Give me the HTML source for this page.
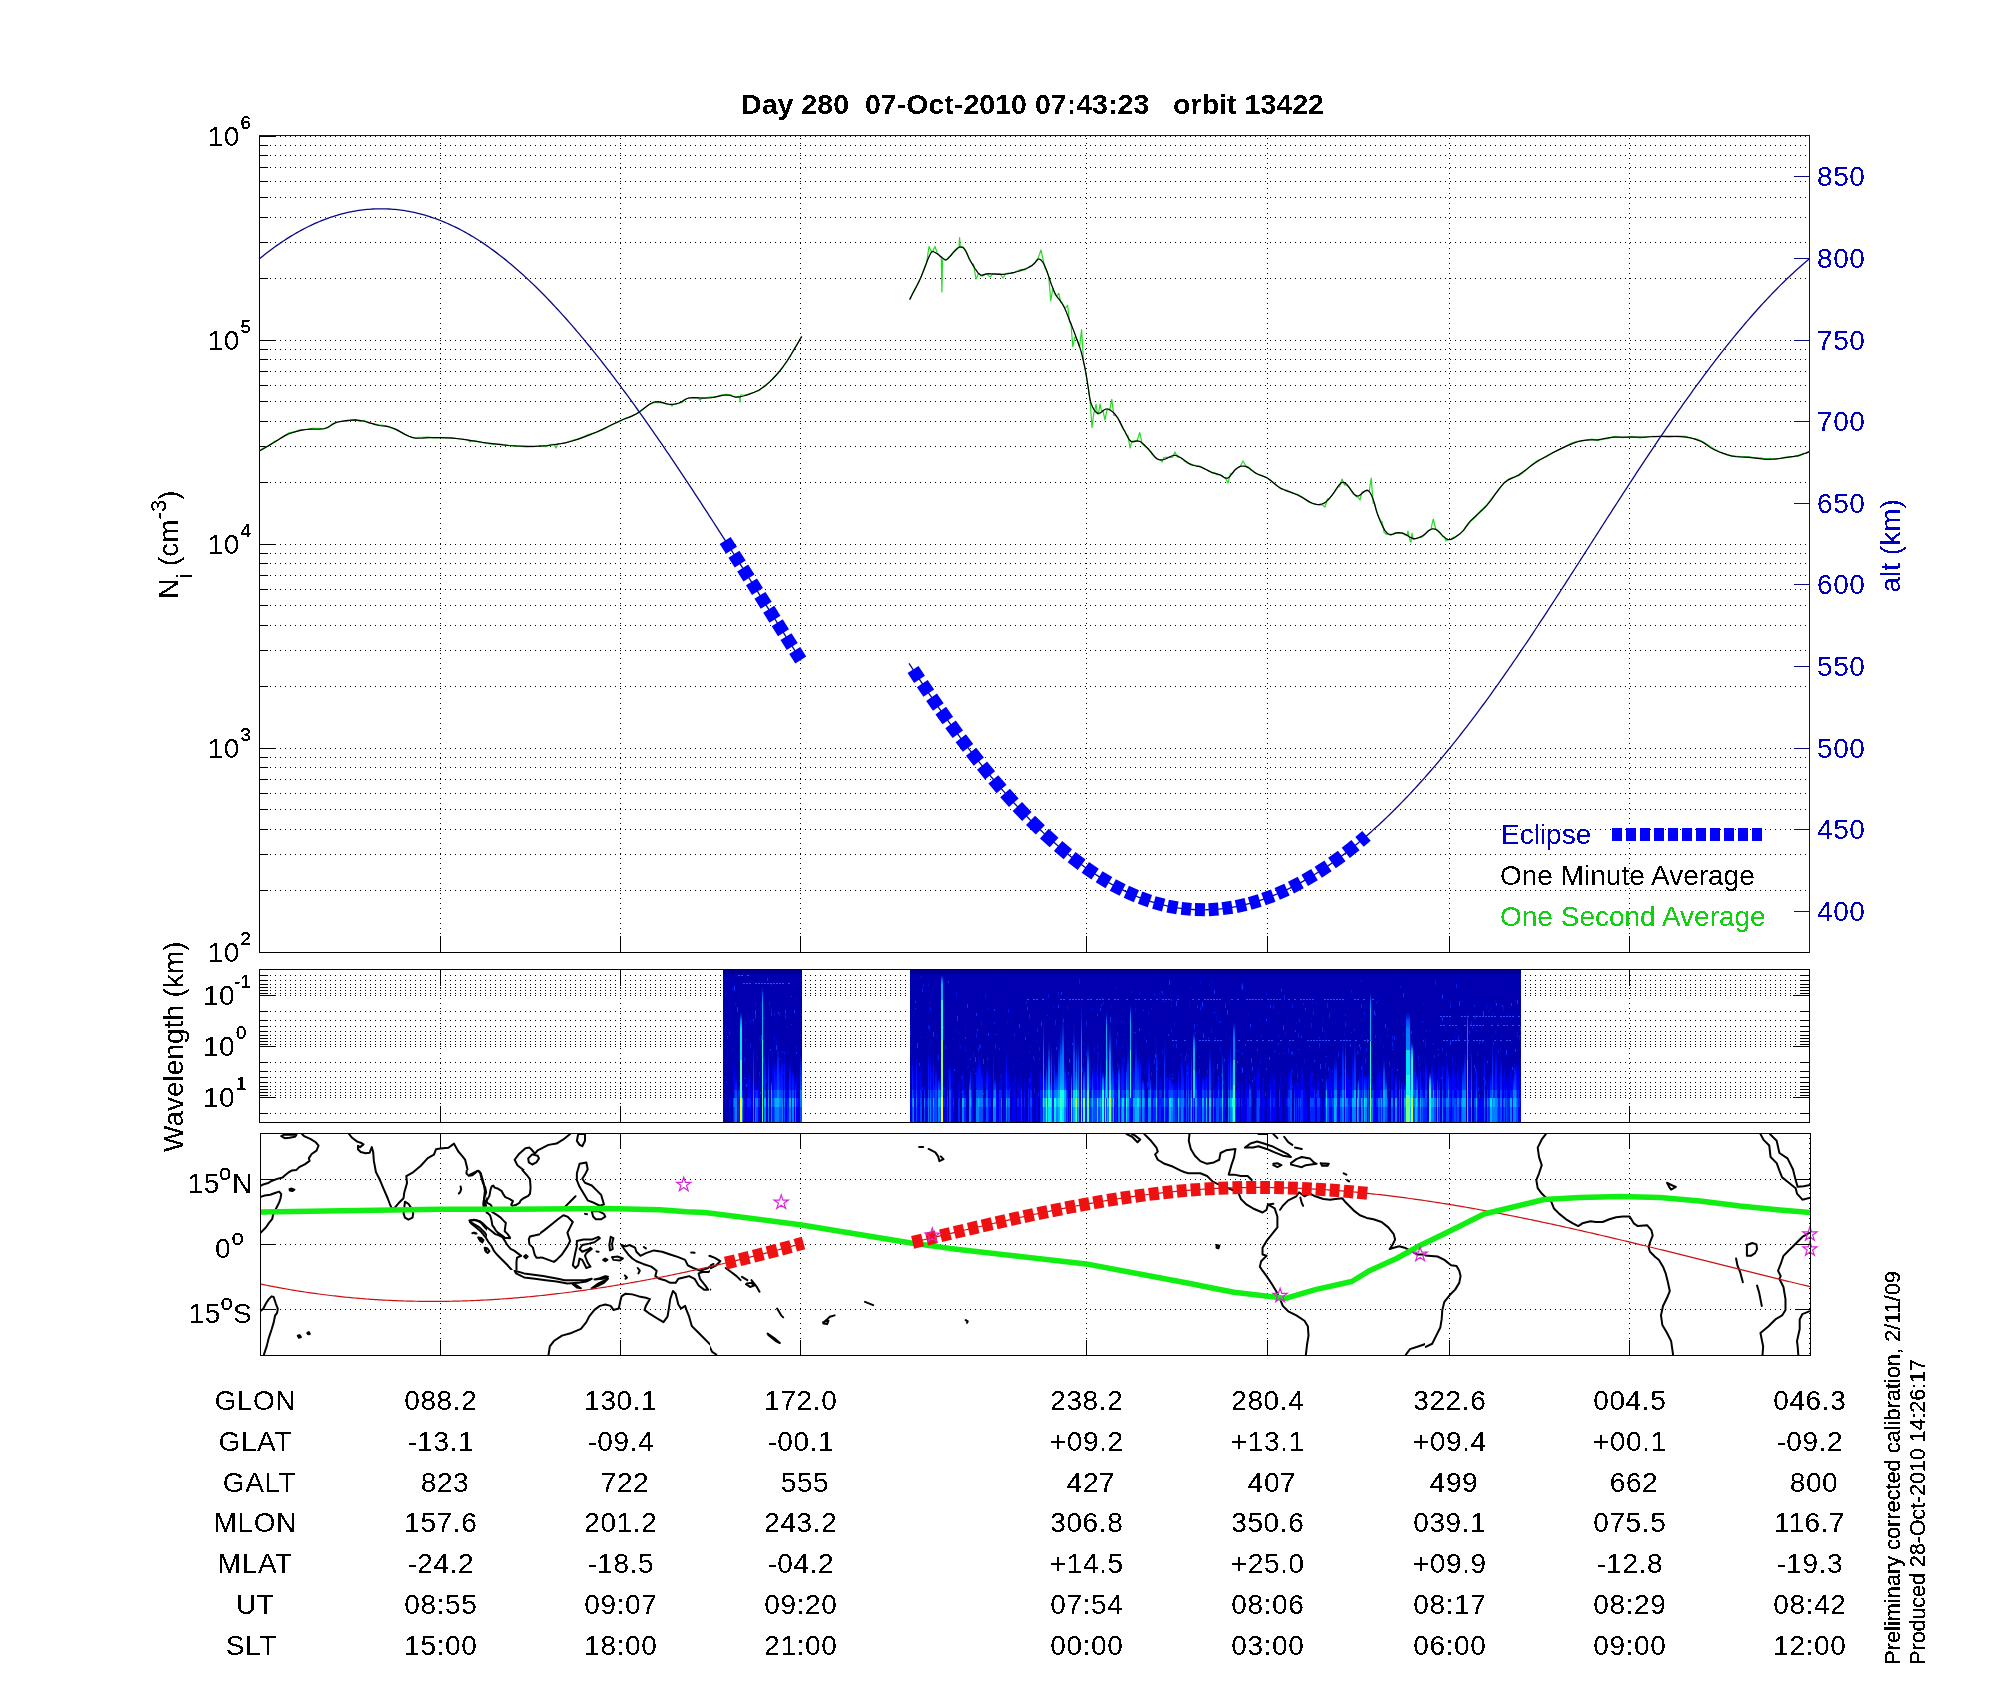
<!DOCTYPE html><html><head><meta charset="utf-8"><title>Day 280 07-Oct-2010 orbit 13422</title><style>html,body{margin:0;padding:0;background:#fff;}svg{display:block;}text{font-family:"Liberation Sans", Arial, Helvetica, sans-serif;white-space:pre;filter:url(#crisp);}</style></head><body>
<svg xmlns="http://www.w3.org/2000/svg" width="2000" height="1700" viewBox="0 0 2000 1700">
<defs><pattern id="hd" patternUnits="userSpaceOnUse" x="0" y="0" width="5" height="1"><rect x="0" y="0" width="1" height="1" fill="#000"/></pattern><filter id="crisp" color-interpolation-filters="sRGB"><feComponentTransfer><feFuncA type="discrete" tableValues="0 1"/></feComponentTransfer></filter><filter id="crispb" color-interpolation-filters="sRGB"><feComponentTransfer><feFuncA type="discrete" tableValues="0 1 1 1"/></feComponentTransfer></filter><filter id="crispc" color-interpolation-filters="sRGB"><feComponentTransfer><feFuncA type="discrete" tableValues="0 0 1 1 1"/></feComponentTransfer></filter><pattern id="vd" patternUnits="userSpaceOnUse" x="0" y="3" width="1" height="5"><rect x="0" y="0" width="1" height="1" fill="#000"/></pattern></defs>
<rect x="0" y="0" width="2000" height="1700" fill="#fff"/>
<text x="741" y="114" font-size="28" font-weight="bold" textLength="583" lengthAdjust="spacingAndGlyphs">Day 280  07-Oct-2010 07:43:23   orbit 13422</text>
<g shape-rendering="crispEdges"><rect x="260" y="890" width="1549" height="1" fill="url(#hd)"/><rect x="260" y="854" width="1549" height="1" fill="url(#hd)"/><rect x="260" y="829" width="1549" height="1" fill="url(#hd)"/><rect x="260" y="809" width="1549" height="1" fill="url(#hd)"/><rect x="260" y="793" width="1549" height="1" fill="url(#hd)"/><rect x="260" y="779" width="1549" height="1" fill="url(#hd)"/><rect x="260" y="767" width="1549" height="1" fill="url(#hd)"/><rect x="260" y="757" width="1549" height="1" fill="url(#hd)"/><rect x="260" y="748" width="1549" height="1" fill="url(#hd)"/><rect x="260" y="686" width="1549" height="1" fill="url(#hd)"/><rect x="260" y="650" width="1549" height="1" fill="url(#hd)"/><rect x="260" y="625" width="1549" height="1" fill="url(#hd)"/><rect x="260" y="605" width="1549" height="1" fill="url(#hd)"/><rect x="260" y="589" width="1549" height="1" fill="url(#hd)"/><rect x="260" y="575" width="1549" height="1" fill="url(#hd)"/><rect x="260" y="563" width="1549" height="1" fill="url(#hd)"/><rect x="260" y="553" width="1549" height="1" fill="url(#hd)"/><rect x="260" y="544" width="1549" height="1" fill="url(#hd)"/><rect x="260" y="482" width="1549" height="1" fill="url(#hd)"/><rect x="260" y="446" width="1549" height="1" fill="url(#hd)"/><rect x="260" y="421" width="1549" height="1" fill="url(#hd)"/><rect x="260" y="401" width="1549" height="1" fill="url(#hd)"/><rect x="260" y="385" width="1549" height="1" fill="url(#hd)"/><rect x="260" y="371" width="1549" height="1" fill="url(#hd)"/><rect x="260" y="359" width="1549" height="1" fill="url(#hd)"/><rect x="260" y="349" width="1549" height="1" fill="url(#hd)"/><rect x="260" y="340" width="1549" height="1" fill="url(#hd)"/><rect x="260" y="278" width="1549" height="1" fill="url(#hd)"/><rect x="260" y="242" width="1549" height="1" fill="url(#hd)"/><rect x="260" y="217" width="1549" height="1" fill="url(#hd)"/><rect x="260" y="197" width="1549" height="1" fill="url(#hd)"/><rect x="260" y="181" width="1549" height="1" fill="url(#hd)"/><rect x="260" y="167" width="1549" height="1" fill="url(#hd)"/><rect x="260" y="155" width="1549" height="1" fill="url(#hd)"/><rect x="260" y="145" width="1549" height="1" fill="url(#hd)"/><rect x="260" y="136" width="1549" height="1" fill="url(#hd)"/><rect x="440" y="136" width="1" height="816" fill="url(#vd)"/><rect x="620" y="136" width="1" height="816" fill="url(#vd)"/><rect x="800" y="136" width="1" height="816" fill="url(#vd)"/><rect x="1086" y="136" width="1" height="816" fill="url(#vd)"/><rect x="1267" y="136" width="1" height="816" fill="url(#vd)"/><rect x="1449" y="136" width="1" height="816" fill="url(#vd)"/><rect x="1629" y="136" width="1" height="816" fill="url(#vd)"/><rect x="259" y="135" width="1" height="818" fill="#000"/><rect x="259" y="952" width="1551" height="1" fill="#000"/><rect x="259" y="952" width="17" height="1" fill="#000"/><rect x="259" y="890" width="9" height="1" fill="#000"/><rect x="259" y="854" width="9" height="1" fill="#000"/><rect x="259" y="829" width="9" height="1" fill="#000"/><rect x="259" y="809" width="9" height="1" fill="#000"/><rect x="259" y="793" width="9" height="1" fill="#000"/><rect x="259" y="779" width="9" height="1" fill="#000"/><rect x="259" y="767" width="9" height="1" fill="#000"/><rect x="259" y="757" width="9" height="1" fill="#000"/><rect x="259" y="748" width="17" height="1" fill="#000"/><rect x="259" y="686" width="9" height="1" fill="#000"/><rect x="259" y="650" width="9" height="1" fill="#000"/><rect x="259" y="625" width="9" height="1" fill="#000"/><rect x="259" y="605" width="9" height="1" fill="#000"/><rect x="259" y="589" width="9" height="1" fill="#000"/><rect x="259" y="575" width="9" height="1" fill="#000"/><rect x="259" y="563" width="9" height="1" fill="#000"/><rect x="259" y="553" width="9" height="1" fill="#000"/><rect x="259" y="544" width="17" height="1" fill="#000"/><rect x="259" y="482" width="9" height="1" fill="#000"/><rect x="259" y="446" width="9" height="1" fill="#000"/><rect x="259" y="421" width="9" height="1" fill="#000"/><rect x="259" y="401" width="9" height="1" fill="#000"/><rect x="259" y="385" width="9" height="1" fill="#000"/><rect x="259" y="371" width="9" height="1" fill="#000"/><rect x="259" y="359" width="9" height="1" fill="#000"/><rect x="259" y="349" width="9" height="1" fill="#000"/><rect x="259" y="340" width="17" height="1" fill="#000"/><rect x="259" y="278" width="9" height="1" fill="#000"/><rect x="259" y="242" width="9" height="1" fill="#000"/><rect x="259" y="217" width="9" height="1" fill="#000"/><rect x="259" y="197" width="9" height="1" fill="#000"/><rect x="259" y="181" width="9" height="1" fill="#000"/><rect x="259" y="167" width="9" height="1" fill="#000"/><rect x="259" y="155" width="9" height="1" fill="#000"/><rect x="259" y="145" width="9" height="1" fill="#000"/><rect x="259" y="136" width="17" height="1" fill="#000"/><rect x="440" y="936" width="1" height="17" fill="#000"/><rect x="620" y="936" width="1" height="17" fill="#000"/><rect x="800" y="936" width="1" height="17" fill="#000"/><rect x="1086" y="936" width="1" height="17" fill="#000"/><rect x="1267" y="936" width="1" height="17" fill="#000"/><rect x="1449" y="936" width="1" height="17" fill="#000"/><rect x="1629" y="936" width="1" height="17" fill="#000"/><rect x="259" y="135" width="1551" height="1" fill="#0a0a84"/><rect x="1809" y="135" width="1" height="818" fill="#0a0a84"/><rect x="1794" y="911" width="16" height="1" fill="#0a0a84"/><rect x="1794" y="829" width="16" height="1" fill="#0a0a84"/><rect x="1794" y="748" width="16" height="1" fill="#0a0a84"/><rect x="1794" y="666" width="16" height="1" fill="#0a0a84"/><rect x="1794" y="584" width="16" height="1" fill="#0a0a84"/><rect x="1794" y="503" width="16" height="1" fill="#0a0a84"/><rect x="1794" y="421" width="16" height="1" fill="#0a0a84"/><rect x="1794" y="340" width="16" height="1" fill="#0a0a84"/><rect x="1794" y="258" width="16" height="1" fill="#0a0a84"/><rect x="1794" y="176" width="16" height="1" fill="#0a0a84"/></g>
<text x="240" y="962" font-size="28" text-anchor="end" fill="#000" font-weight="normal" letter-spacing="0.6">10</text>
<text x="240.5" y="945" font-size="18.5" text-anchor="start" fill="#000" font-weight="normal"  style="filter:url(#crispb)">2</text>
<text x="240" y="758" font-size="28" text-anchor="end" fill="#000" font-weight="normal" letter-spacing="0.6">10</text>
<text x="240.5" y="741" font-size="18.5" text-anchor="start" fill="#000" font-weight="normal"  style="filter:url(#crispb)">3</text>
<text x="240" y="554" font-size="28" text-anchor="end" fill="#000" font-weight="normal" letter-spacing="0.6">10</text>
<text x="240.5" y="537" font-size="18.5" text-anchor="start" fill="#000" font-weight="normal"  style="filter:url(#crispb)">4</text>
<text x="240" y="350" font-size="28" text-anchor="end" fill="#000" font-weight="normal" letter-spacing="0.6">10</text>
<text x="240.5" y="333" font-size="18.5" text-anchor="start" fill="#000" font-weight="normal"  style="filter:url(#crispb)">5</text>
<text x="240" y="146" font-size="28" text-anchor="end" fill="#000" font-weight="normal" letter-spacing="0.6">10</text>
<text x="240.5" y="129" font-size="18.5" text-anchor="start" fill="#000" font-weight="normal"  style="filter:url(#crispb)">6</text>
<text x="1817" y="921" font-size="28" text-anchor="start" fill="#0000c0" font-weight="normal" letter-spacing="0.6">400</text>
<text x="1817" y="839" font-size="28" text-anchor="start" fill="#0000c0" font-weight="normal" letter-spacing="0.6">450</text>
<text x="1817" y="758" font-size="28" text-anchor="start" fill="#0000c0" font-weight="normal" letter-spacing="0.6">500</text>
<text x="1817" y="676" font-size="28" text-anchor="start" fill="#0000c0" font-weight="normal" letter-spacing="0.6">550</text>
<text x="1817" y="594" font-size="28" text-anchor="start" fill="#0000c0" font-weight="normal" letter-spacing="0.6">600</text>
<text x="1817" y="513" font-size="28" text-anchor="start" fill="#0000c0" font-weight="normal" letter-spacing="0.6">650</text>
<text x="1817" y="431" font-size="28" text-anchor="start" fill="#0000c0" font-weight="normal" letter-spacing="0.6">700</text>
<text x="1817" y="350" font-size="28" text-anchor="start" fill="#0000c0" font-weight="normal" letter-spacing="0.6">750</text>
<text x="1817" y="268" font-size="28" text-anchor="start" fill="#0000c0" font-weight="normal" letter-spacing="0.6">800</text>
<text x="1817" y="186" font-size="28" text-anchor="start" fill="#0000c0" font-weight="normal" letter-spacing="0.6">850</text>
<text transform="translate(178,599.1) rotate(-90)" font-size="28" fill="#000">N<tspan font-size="22" dy="14">i</tspan><tspan dy="-14"> (cm</tspan><tspan font-size="22" dy="-12.4">-3</tspan><tspan dy="12.4">)</tspan></text>
<text transform="translate(1900,592.5) rotate(-90)" font-size="28" fill="#0000c0">alt (km)</text>
<text transform="translate(183,1152) rotate(-90)" font-size="28" fill="#000">Wavelength (km)</text>
<text x="1501" y="843.5" font-size="28" text-anchor="start" fill="#0000c0" font-weight="normal" >Eclipse</text>
<text x="1500" y="884.5" font-size="28" text-anchor="start" fill="#000" font-weight="normal" >One Minute Average</text>
<text x="1500" y="926" font-size="28" text-anchor="start" fill="#10d010" font-weight="normal" >One Second Average</text>
<g shape-rendering="crispEdges"><rect x="1612" y="828" width="10" height="13" fill="#0000ff"/><rect x="1626" y="828" width="10" height="13" fill="#0000ff"/><rect x="1640" y="828" width="10" height="13" fill="#0000ff"/><rect x="1654" y="828" width="10" height="13" fill="#0000ff"/><rect x="1668" y="828" width="10" height="13" fill="#0000ff"/><rect x="1682" y="828" width="10" height="13" fill="#0000ff"/><rect x="1696" y="828" width="10" height="13" fill="#0000ff"/><rect x="1710" y="828" width="10" height="13" fill="#0000ff"/><rect x="1724" y="828" width="10" height="13" fill="#0000ff"/><rect x="1738" y="828" width="10" height="13" fill="#0000ff"/><rect x="1752" y="828" width="10" height="13" fill="#0000ff"/></g>
<path d="M259 450.9 L262.89 448.28 L268.44 446.04 L274 441.64 L278.91 439.49 L283.81 436.06 L289 432.87 L294.65 431.89 L300.57 429.57 L306.5 429.37 L312.52 428.33 L318.54 428.46 L324 428.6 L328.44 427.59 L332.33 423.76 L336.5 421.95 L341.41 421.5 L346.59 421.31 L351.5 420.15 L355.76 419.82 L359.74 421.42 L364 420.34 L368.91 423.24 L374.09 423.72 L379 424.79 L383.17 425.32 L387.06 426.03 L391.5 428.13 L397.24 429.53 L403.54 433.75 L409 436.53 L412.7 437.26 L415.57 438.13 L419 437.38 L423.26 437.25 L428.07 437.12 L434 437.86 L441.59 437.53 L450.3 437.7 L459 438.92 L467.33 439.75 L468 439.75 L470 442 L472 440.81 L475.67 440.81 L484 443.09 L492.33 444.04 L500.67 444.18 L509 445.65 L517.61 446.04 L526.22 446.98 L534 446.71 L540.3 445.65 L545.76 446.64 L551.5 444.24 L554 444.24 L556 448 L558 443.51 L564.37 443.51 L571.5 440.55 L579.56 438.61 L588.17 434.48 L596.5 432.34 L604.37 428.94 L611.96 424.79 L619 422 L625.2 418.29 L630.85 416.84 L636.5 413.94 L642.43 409.79 L648.35 404.95 L654 402.68 L659.37 402.73 L664.46 403.19 L669 404.58 L670.5 404.58 L672 406 L673.5 404.23 L675.85 404.23 L679 403.29 L681.96 402.41 L684.93 400.08 L689 397.57 L695.02 397.51 L698 397.51 L700 400 L702 398.37 L702.15 398.37 L709 397.05 L715.2 396.96 L721.13 395.08 L726.5 394.23 L730.76 394.75 L734.46 397.35 L739 396.26 L739.4 396.26 L740 402 L740.6 395 L745.33 395 L752.5 392.78 L759 390.74 L764.11 385.88 L768.56 382.84 L773 378.6 L777.64 374.14 L782.28 368.21 L787 361.73 L792.39 352 L797.86 342.94 L801.7 336.22" fill="none" stroke="#22dd22" stroke-width="1.2" stroke-linejoin="round" /><path d="M909.6 300.17 L910.92 297.88 L912.8 292.78 L914.7 289.25 L916.43 286.08 L918.17 282.7 L919.9 279.57 L921.66 275.63 L923.41 270.58 L925 266.01 L926.34 263.31 L926.5 263.31 L929 246.5 L931.5 251.63 L932.4 251.63 L932.5 251.63 L935 246.5 L937.5 253.71 L938.2 253.71 L940.27 256.91 L941.3 256.91 L941.9 292 L942.5 259.75 L944.1 259.75 L945.18 260.27 L945.92 259.7 L947 259.2 L948.77 256.96 L950.88 255.63 L952.9 252.22 L954.74 250.29 L956.49 248.75 L958 247.32 L959 247.32 L959.6 237.6 L960.2 246.2 L961 246.2 L962.1 246.66 L963.28 247.05 L964.7 249.13 L966.5 251.76 L968.55 257.83 L970.6 261.43 L972.62 264.02 L973.5 264.02 L976 279 L978.5 273.5 L979.27 273.5 L980.9 275.8 L982.84 275.97 L985.1 274.16 L987 274.16 L990 277 L993 273.56 L997.8 273.56 L1000 273.56 L1003 278 L1006 273.26 L1008.04 273.26 L1013.06 273.32 L1017.6 270.82 L1021.51 269.37 L1024.95 269.96 L1027.9 267.86 L1030.25 265.91 L1032.11 265.52 L1033.8 263.15 L1035.38 262.26 L1036.79 261.12 L1037 261.12 L1041 250 L1045 268.33 L1045.53 268.33 L1047 271.57 L1048.5 276.3 L1048.7 276.3 L1050.7 301 L1052.7 289.13 L1052.97 289.13 L1054.44 292.97 L1055.9 295.71 L1056.8 295.71 L1058.8 293.5 L1060.8 302.41 L1061.71 302.41 L1063.12 305.2 L1064.7 307.91 L1065.6 307.91 L1067.6 305.3 L1069.6 322.46 L1070.6 322.46 L1070.8 322.46 L1072.8 346.5 L1074.8 337.11 L1075.7 337.11 L1077.46 340.73 L1079.22 346.5 L1079.6 346.5 L1081.6 329.6 L1083.6 363.31 L1083.97 363.31 L1085.3 369.44 L1086.37 375.48 L1087.28 381.29 L1088.2 387.01 L1089.06 393.6 L1089.93 399.74 L1090 399.74 L1092 427.4 L1094 411.79 L1094.5 411.79 L1096 404 L1097.5 414 L1097.8 414 L1098.5 414 L1100 404 L1101.5 410.82 L1103 410.82 L1105 420 L1107 409.65 L1108.03 409.65 L1109.8 409.65 L1111.8 399.4 L1113.8 415.47 L1115.55 415.47 L1117.6 417.47 L1120 422.69 L1122.59 428.14 L1125 431.59 L1126.97 435.45 L1128 435.45 L1130 448 L1132 441.05 L1133.62 441.05 L1136.66 440.31 L1137.2 440.31 L1139.7 432.5 L1142.2 444.13 L1142.64 444.13 L1145.59 446.85 L1148.5 448.59 L1151.42 453.3 L1154.3 457.11 L1157 459.01 L1159.27 459.49 L1160 459.49 L1162 462 L1164 457.25 L1167.07 457.25 L1170.73 457.33 L1172.5 457.33 L1175 452 L1177.5 457.27 L1178.41 457.27 L1180.8 457.67 L1183.95 460.65 L1187.47 463.14 L1191 464.02 L1194.4 465.19 L1197.8 465.89 L1201.2 466.68 L1204.66 468.98 L1208.13 470.22 L1211.4 472.14 L1214.39 472.55 L1217.19 474.82 L1219.9 474.51 L1222.53 476.22 L1225.07 478.08 L1225.5 478.08 L1228 483 L1230.5 473.45 L1232.73 473.45 L1235.2 469.7 L1237.53 467.96 L1239.76 466.68 L1240 466.68 L1243 461 L1246 466.26 L1246.53 466.26 L1248.8 467.01 L1250.88 470.07 L1252.96 470.63 L1255.6 473.05 L1259.13 475.06 L1263.22 476.24 L1267.5 477.85 L1271.78 481.38 L1276.25 485.17 L1281.1 488.97 L1286.58 490.07 L1292.43 493.05 L1298.1 494.7 L1303.51 497.79 L1308.74 502 L1313.4 503.72 L1317.24 504.67 L1320.51 504.93 L1322.5 504.93 L1325 507 L1327.5 498.73 L1329.33 498.73 L1332.1 495.21 L1335.03 491.06 L1337.95 486.84 L1339.5 486.84 L1342 479 L1344.5 485.08 L1346.6 485.08 L1349.69 488.41 L1353.24 493.8 L1356.8 496.98 L1358 496.98 L1360 500 L1362 491.81 L1363.92 491.81 L1367 490.99 L1369.2 490.99 L1371.2 478.2 L1373.2 503.49 L1374.5 503.49 L1376.01 508.7 L1378 515.08 L1380.76 521.34 L1382 521.34 L1384 532 L1386 534.07 L1387.4 534.07 L1391.1 535.29 L1394.99 532.71 L1398.4 533.03 L1400.91 533.2 L1402.96 532.73 L1405.2 535.07 L1407 535.07 L1408 531 L1409 537.02 L1409.3 537.02 L1410.3 542 L1411 542 L1412 533 L1413 539.51 L1413.7 539.51 L1416.53 538.19 L1419.37 537.39 L1422.2 536.98 L1425.13 534.53 L1428.05 530.62 L1430.7 529.36 L1430.8 529.36 L1433.3 519 L1435.8 529.39 L1436.7 529.39 L1439.65 532.22 L1442.96 536.51 L1444 536.51 L1446 541 L1448 539.63 L1448.33 539.63 L1450.37 539.37 L1452.8 537.64 L1456.07 536.33 L1459.71 534.13 L1463 530.92 L1465.2 527.24 L1467.04 526.1 L1470 521.98 L1474.93 517.66 L1480.96 510.49 L1487 504.73 L1492.73 496.85 L1498.46 490.24 L1504 482.64 L1509.1 478.71 L1514.01 477.15 L1519.3 475.42 L1525.03 471.08 L1531.14 465.24 L1538 460.3 L1546.25 457.05 L1555.25 451.57 L1563.5 447.8 L1570.36 443.59 L1576.47 441.29 L1582.2 440.98 L1587.49 439.81 L1592.4 439.12 L1597.5 440.68 L1602.73 439.24 L1608.14 438.54 L1614.5 436.37 L1622.56 437.75 L1631.56 436.3 L1640 437.93 L1646.99 436.84 L1653.41 436.26 L1660.4 436.51 L1668.9 437.27 L1677.97 436.15 L1685.9 436.46 L1691.82 438.27 L1696.6 439.1 L1701.2 440.72 L1705.73 443.44 L1710.08 446.3 L1714.8 449.4 L1720.21 451.95 L1726.01 453.97 L1731.8 456.42 L1737.47 456.26 L1743.13 456.96 L1748.8 456.66 L1754.59 457.72 L1760.39 457.85 L1765.8 458.8 L1770.4 458.35 L1774.61 459.49 L1779.4 458.6 L1785.54 457.1 L1792.24 456.67 L1798.1 456.47 L1802.77 453.44 L1806.6 453.39 L1809.2 451.56" fill="none" stroke="#22dd22" stroke-width="1.2" stroke-linejoin="round" /><path d="M259 451.25 L261.7 449.68 L265.56 447.42 L269.9 444.89 L274 442.5 L277.69 440.21 L281.34 437.84 L285.07 435.62 L289 433.75 L293.2 432.29 L297.59 431.12 L302.07 430.21 L306.5 429.5 L310.99 429.2 L315.56 429.25 L319.98 429.24 L324 428.75 L327.42 427.49 L330.41 425.73 L333.32 423.93 L336.5 422.5 L340.13 421.52 L344 420.78 L347.87 420.27 L351.5 420 L354.74 419.98 L357.75 420.2 L360.76 420.64 L364 421.25 L367.63 422.15 L371.5 423.33 L375.37 424.53 L379 425.5 L382.18 426 L385.09 426.22 L388.08 426.58 L391.5 427.5 L395.7 429.37 L400.41 431.88 L405.04 434.38 L409 436.25 L411.91 437.29 L414.16 437.84 L416.32 438.1 L419 438.25 L422.16 438.21 L425.56 437.92 L429.43 437.61 L434 437.5 L439.55 437.61 L445.88 437.84 L452.52 438.21 L459 438.75 L465.25 439.53 L471.5 440.52 L477.75 441.56 L484 442.5 L490.25 443.36 L496.5 444.19 L502.75 444.93 L509 445.5 L515.43 445.89 L521.97 446.14 L528.28 446.26 L534 446.25 L538.84 446.14 L543.06 445.91 L547.12 445.54 L551.5 445 L556.21 444.37 L561.03 443.62 L566.09 442.63 L571.5 441.25 L577.46 439.36 L583.84 437.06 L590.31 434.55 L596.5 432 L602.42 429.34 L608.22 426.52 L613.79 423.74 L619 421.25 L623.73 419.25 L628.06 417.56 L632.24 415.85 L636.5 413.75 L640.93 410.78 L645.41 407.27 L649.8 404.05 L654 402 L658.04 401.66 L661.97 402.47 L665.66 403.61 L669 404.25 L671.85 404.27 L674.31 404.08 L676.62 403.66 L679 403 L681.27 401.9 L683.38 400.42 L685.8 398.99 L689 398 L693.36 397.72 L698.53 397.88 L703.94 398.09 L709 398 L713.67 397.34 L718.22 396.38 L722.54 395.47 L726.5 395 L729.8 395.36 L732.59 396.25 L735.46 397.02 L739 397 L743.61 395.99 L748.91 394.34 L754.25 392.28 L759 390 L762.92 387.58 L766.38 384.91 L769.64 381.9 L773 378.5 L776.48 374.71 L779.96 370.56 L783.45 366.01 L787 361 L790.97 354.79 L795.23 347.66 L799.04 341.07 L801.7 336.5" fill="none" stroke="#000" stroke-width="1.25" stroke-linejoin="round" /><path d="M909.6 299.4 L910.51 297.71 L911.83 295.29 L913.3 292.55 L914.7 289.9 L916 287.44 L917.3 284.94 L918.6 282.36 L919.9 279.6 L921.21 276.54 L922.54 273.25 L923.83 269.99 L925 267 L926.02 264.32 L926.94 261.83 L927.81 259.55 L928.7 257.5 L929.58 255.56 L930.42 253.77 L931.33 252.36 L932.4 251.6 L933.7 251.69 L935.16 252.46 L936.69 253.54 L938.2 254.6 L939.74 255.7 L941.33 256.96 L942.83 258.15 L944.1 259 L944.97 259.54 L945.55 259.87 L946.13 259.86 L947 259.4 L948.28 258.27 L949.81 256.59 L951.41 254.75 L952.9 253.1 L954.28 251.64 L955.63 250.21 L956.89 248.94 L958 248 L958.88 247.43 L959.59 247.14 L960.25 247.09 L961 247.2 L961.82 247.31 L962.67 247.51 L963.6 248.1 L964.7 249.4 L966.02 251.73 L967.51 254.84 L969.07 258.19 L970.6 261.2 L972.11 263.86 L973.64 266.41 L975.13 268.74 L976.5 270.7 L977.64 272.29 L978.61 273.58 L979.63 274.53 L980.9 275.1 L982.35 275.11 L983.9 274.63 L985.78 274.04 L988.2 273.7 L991.38 273.81 L995.14 274.14 L999.14 274.43 L1003 274.4 L1006.76 273.95 L1010.58 273.22 L1014.26 272.37 L1017.6 271.5 L1020.58 270.63 L1023.29 269.7 L1025.74 268.74 L1027.9 267.8 L1029.72 266.91 L1031.22 266.04 L1032.53 265.12 L1033.8 264.1 L1035.01 262.74 L1036.09 261.14 L1037.14 259.75 L1038.2 259 L1039.3 259.01 L1040.4 259.53 L1041.5 260.52 L1042.6 261.9 L1043.7 263.74 L1044.79 266.06 L1045.89 268.69 L1047 271.5 L1048.12 274.61 L1049.25 278.06 L1050.38 281.52 L1051.5 284.7 L1052.61 287.58 L1053.71 290.31 L1054.8 292.8 L1055.9 295 L1057 296.75 L1058.1 298.14 L1059.2 299.43 L1060.3 300.9 L1061.36 302.45 L1062.41 304 L1063.49 305.82 L1064.7 308.2 L1066.09 311.39 L1067.61 315.17 L1069.15 319.15 L1070.6 322.9 L1071.93 326.29 L1073.19 329.55 L1074.44 332.81 L1075.7 336.2 L1077.01 339.67 L1078.34 343.19 L1079.65 346.88 L1080.9 350.9 L1082.09 355.4 L1083.24 360.27 L1084.32 365.23 L1085.3 370 L1086.13 374.54 L1086.84 378.98 L1087.5 383.33 L1088.2 387.6 L1088.86 391.9 L1089.47 396.2 L1090.19 400.25 L1091.2 403.8 L1092.56 406.99 L1094.18 409.89 L1095.96 412.14 L1097.8 413.4 L1099.77 413.13 L1101.89 411.66 L1103.99 409.96 L1105.9 409 L1107.53 408.98 L1108.99 409.41 L1110.38 410.19 L1111.8 411.2 L1113.22 412.37 L1114.61 413.76 L1116.04 415.53 L1117.6 417.8 L1119.37 420.89 L1121.29 424.62 L1123.22 428.44 L1125 431.8 L1126.51 434.71 L1127.86 437.43 L1129.26 439.7 L1130.9 441.3 L1132.9 441.78 L1135.12 441.39 L1137.43 440.96 L1139.7 441.3 L1141.91 442.7 L1144.12 444.71 L1146.32 447.01 L1148.5 449.3 L1150.69 451.75 L1152.88 454.45 L1155 456.92 L1157 458.7 L1158.74 459.62 L1160.29 459.95 L1161.9 459.85 L1163.8 459.5 L1166.19 458.64 L1168.9 457.29 L1171.61 456 L1174 455.3 L1175.86 455.35 L1177.4 455.86 L1178.94 456.72 L1180.8 457.8 L1183.11 459.3 L1185.69 461.19 L1188.37 463.09 L1191 464.6 L1193.55 465.49 L1196.1 466.01 L1198.65 466.47 L1201.2 467.2 L1203.79 468.36 L1206.41 469.76 L1208.97 471.15 L1211.4 472.3 L1213.66 473.09 L1215.81 473.66 L1217.87 474.17 L1219.9 474.8 L1221.88 475.87 L1223.81 477.19 L1225.7 478.17 L1227.6 478.2 L1229.53 476.8 L1231.46 474.39 L1233.36 471.77 L1235.2 469.7 L1236.96 468.3 L1238.65 467.19 L1240.32 466.41 L1242 466 L1243.7 466.03 L1245.4 466.45 L1247.1 467.15 L1248.8 468 L1250.38 469.06 L1251.88 470.36 L1253.54 471.75 L1255.6 473.1 L1258.18 474.26 L1261.12 475.33 L1264.29 476.57 L1267.5 478.2 L1270.7 480.47 L1273.98 483.19 L1277.42 485.97 L1281.1 488.4 L1285.15 490.3 L1289.49 491.91 L1293.89 493.46 L1298.1 495.2 L1302.16 497.41 L1306.17 499.89 L1309.97 502.15 L1313.4 503.7 L1316.35 504.43 L1318.93 504.59 L1321.29 504.24 L1323.6 503.4 L1325.84 501.99 L1327.96 500.02 L1330.01 497.7 L1332.1 495.2 L1334.28 492.19 L1336.51 488.68 L1338.65 485.46 L1340.6 483.3 L1342.18 482.37 L1343.49 482.26 L1344.86 482.9 L1346.6 484.2 L1348.85 486.82 L1351.44 490.58 L1354.15 494.13 L1356.8 496.1 L1359.45 495.52 L1362.17 493.31 L1364.75 491 L1367 490.1 L1368.8 491.01 L1370.27 492.91 L1371.58 495.54 L1372.9 498.6 L1374.13 502.23 L1375.23 506.51 L1376.44 511.09 L1378 515.6 L1380.01 520.45 L1382.33 525.67 L1384.84 530.33 L1387.4 533.5 L1390.14 534.54 L1393.06 534.06 L1395.91 533.08 L1398.4 532.6 L1400.36 532.78 L1401.96 533.12 L1403.48 533.63 L1405.2 534.3 L1407.21 535.35 L1409.34 536.72 L1411.54 537.95 L1413.7 538.6 L1415.83 538.53 L1417.95 537.98 L1420.08 537.09 L1422.2 536 L1424.38 534.49 L1426.61 532.56 L1428.75 530.72 L1430.7 529.5 L1432.3 528.94 L1433.65 528.81 L1435.03 529.14 L1436.7 530 L1438.85 531.78 L1441.3 534.33 L1443.77 536.86 L1446 538.6 L1447.8 539.39 L1449.34 539.62 L1450.92 539.34 L1452.8 538.6 L1455.19 537.26 L1457.89 535.34 L1460.6 533.13 L1463 530.9 L1464.74 528.81 L1466.08 526.68 L1467.62 524.29 L1470 521.4 L1473.55 517.96 L1477.88 514.09 L1482.52 509.82 L1487 505.2 L1491.29 499.77 L1495.61 493.67 L1499.87 487.81 L1504 483.1 L1507.86 480.14 L1511.54 478.32 L1515.28 476.76 L1519.3 474.6 L1523.58 471.56 L1528.01 468.12 L1532.77 464.52 L1538 461 L1544.06 457.44 L1550.75 453.77 L1557.44 450.32 L1563.5 447.4 L1568.73 445.08 L1573.49 443.2 L1577.92 441.72 L1582.2 440.6 L1586.22 440.02 L1589.96 439.94 L1593.64 439.99 L1597.5 439.8 L1601.43 439.22 L1605.36 438.45 L1609.61 437.71 L1614.5 437.2 L1620.4 437.04 L1627.04 437.09 L1633.78 437.2 L1640 437.2 L1645.34 437.02 L1650.2 436.75 L1655.06 436.51 L1660.4 436.4 L1666.66 436.41 L1673.47 436.48 L1680.12 436.72 L1685.9 437.2 L1690.48 437.93 L1694.29 438.87 L1697.73 440.05 L1701.2 441.5 L1704.64 443.39 L1707.89 445.65 L1711.2 447.96 L1714.8 450 L1718.81 451.76 L1723.09 453.39 L1727.47 454.8 L1731.8 455.9 L1736.05 456.55 L1740.3 456.84 L1744.55 457.01 L1748.8 457.3 L1753.13 457.82 L1757.51 458.44 L1761.79 458.98 L1765.8 459.3 L1769.32 459.35 L1772.49 459.21 L1775.72 458.91 L1779.4 458.5 L1783.89 457.95 L1788.91 457.24 L1793.84 456.44 L1798.1 455.6 L1801.67 454.6 L1804.82 453.47 L1807.38 452.42 L1809.2 451.7" fill="none" stroke="#000" stroke-width="1.25" stroke-linejoin="round" />
<path d="M259 259.2 L261 257.56 L263 255.95 L265 254.36 L267 252.8 L269 251.26 L271 249.76 L273 248.27 L275 246.82 L277 245.39 L279 243.99 L281 242.61 L283 241.26 L285 239.95 L287 238.65 L289 237.39 L291 236.15 L293 234.94 L295 233.76 L297 232.61 L299 231.48 L301 230.38 L303 229.31 L305 228.27 L307 227.25 L309 226.26 L311 225.3 L313 224.37 L315 223.46 L317 222.58 L319 221.73 L321 220.91 L323 220.11 L325 219.34 L327 218.6 L329 217.88 L331 217.2 L333 216.54 L335 215.9 L337 215.3 L339 214.72 L341 214.17 L343 213.64 L345 213.14 L347 212.67 L349 212.23 L351 211.81 L353 211.42 L355 211.06 L357 210.73 L359 210.42 L361 210.14 L363 209.88 L365 209.66 L367 209.46 L369 209.28 L371 209.13 L373 209.01 L375 208.92 L377 208.85 L379 208.82 L381 208.8 L383 208.82 L385 208.86 L387 208.92 L389 209.02 L391 209.14 L393 209.29 L395 209.46 L397 209.66 L399 209.89 L401 210.14 L403 210.42 L405 210.73 L407 211.06 L409 211.42 L411 211.8 L413 212.22 L415 212.66 L417 213.12 L419 213.61 L421 214.13 L423 214.67 L425 215.24 L427 215.84 L429 216.46 L431 217.11 L433 217.79 L435 218.49 L437 219.22 L439 219.97 L441 220.75 L443 221.56 L445 222.39 L447 223.25 L449 224.13 L451 225.04 L453 225.98 L455 226.94 L457 227.93 L459 228.95 L461 229.99 L463 231.05 L465 232.15 L467 233.26 L469 234.41 L471 235.58 L473 236.77 L475 237.99 L477 239.24 L479 240.51 L481 241.81 L483 243.14 L485 244.49 L487 245.86 L489 247.27 L491 248.69 L493 250.14 L495 251.62 L497 253.12 L499 254.65 L501 256.2 L503 257.77 L505 259.37 L507 260.99 L509 262.63 L511 264.3 L513 266 L515 267.71 L517 269.45 L519 271.21 L521 272.99 L523 274.8 L525 276.63 L527 278.47 L529 280.35 L531 282.24 L533 284.15 L535 286.09 L537 288.05 L539 290.02 L541 292.02 L543 294.04 L545 296.08 L547 298.14 L549 300.22 L551 302.32 L553 304.44 L555 306.58 L557 308.73 L559 310.91 L561 313.11 L563 315.32 L565 317.55 L567 319.8 L569 322.07 L571 324.36 L573 326.67 L575 328.99 L577 331.33 L579 333.69 L581 336.06 L583 338.45 L585 340.86 L587 343.29 L589 345.73 L591 348.18 L593 350.66 L595 353.15 L597 355.65 L599 358.17 L601 360.71 L603 363.26 L605 365.82 L607 368.4 L609 371 L611 373.61 L613 376.23 L615 378.87 L617 381.52 L619 384.18 L621 386.86 L623 389.55 L625 392.26 L627 394.98 L629 397.71 L631 400.45 L633 403.21 L635 405.97 L637 408.75 L639 411.54 L641 414.35 L643 417.16 L645 419.99 L647 422.82 L649 425.67 L651 428.53 L653 431.4 L655 434.28 L657 437.17 L659 440.07 L661 442.98 L663 445.9 L665 448.83 L667 451.77 L669 454.71 L671 457.67 L673 460.63 L675 463.61 L677 466.59 L679 469.58 L681 472.58 L683 475.58 L685 478.6 L687 481.62 L689 484.65 L691 487.68 L693 490.73 L695 493.78 L697 496.83 L699 499.89 L701 502.96 L703 506.04 L705 509.12 L707 512.2 L709 515.3 L711 518.39 L713 521.5 L715 524.6 L717 527.71 L719 530.83 L721 533.95 L723 537.08 L725 540.21 L727 543.34 L729 546.48 L731 549.62 L733 552.76 L735 555.91 L737 559.06 L739 562.21 L741 565.37 L743 568.52 L745 571.68 L747 574.84 L749 578.01 L751 581.17 L753 584.34 L755 587.51 L757 590.68 L759 593.85 L761 597.02 L763 600.19 L765 603.37 L767 606.54 L769 609.71 L771 612.88 L773 616.06 L775 619.23 L777 622.4 L779 625.57 L781 628.74 L783 631.91 L785 635.07 L787 638.24 L789 641.4 L791 644.56 L793 647.72 L795 650.88 L797 654.04 L799 657.19 L801 660.34" fill="none" stroke="#0a0a84" stroke-width="1.3" stroke-linejoin="round" /><path d="M909 663.3 L911 666.39 L913 669.48 L915 672.54 L917 675.59 L919 678.63 L921 681.64 L923 684.65 L925 687.63 L927 690.6 L929 693.56 L931 696.49 L933 699.41 L935 702.32 L937 705.21 L939 708.08 L941 710.93 L943 713.77 L945 716.59 L947 719.39 L949 722.18 L951 724.95 L953 727.7 L955 730.43 L957 733.15 L959 735.85 L961 738.53 L963 741.2 L965 743.84 L967 746.47 L969 749.08 L971 751.68 L973 754.25 L975 756.81 L977 759.35 L979 761.87 L981 764.37 L983 766.85 L985 769.32 L987 771.77 L989 774.19 L991 776.6 L993 778.99 L995 781.37 L997 783.72 L999 786.05 L1001 788.37 L1003 790.66 L1005 792.94 L1007 795.19 L1009 797.43 L1011 799.65 L1013 801.84 L1015 804.02 L1017 806.18 L1019 808.32 L1021 810.44 L1023 812.54 L1025 814.62 L1027 816.67 L1029 818.71 L1031 820.73 L1033 822.73 L1035 824.7 L1037 826.66 L1039 828.59 L1041 830.51 L1043 832.4 L1045 834.28 L1047 836.13 L1049 837.96 L1051 839.77 L1053 841.56 L1055 843.33 L1057 845.07 L1059 846.8 L1061 848.5 L1063 850.18 L1065 851.84 L1067 853.48 L1069 855.09 L1071 856.69 L1073 858.26 L1075 859.81 L1077 861.34 L1079 862.84 L1081 864.33 L1083 865.79 L1085 867.23 L1087 868.64 L1089 870.04 L1091 871.41 L1093 872.76 L1095 874.08 L1097 875.38 L1099 876.66 L1101 877.92 L1103 879.15 L1105 880.36 L1107 881.55 L1109 882.71 L1111 883.85 L1113 884.96 L1115 886.06 L1117 887.12 L1119 888.17 L1121 889.19 L1123 890.19 L1125 891.16 L1127 892.11 L1129 893.03 L1131 893.93 L1133 894.81 L1135 895.66 L1137 896.48 L1139 897.28 L1141 898.06 L1143 898.81 L1145 899.54 L1147 900.24 L1149 900.92 L1151 901.57 L1153 902.2 L1155 902.8 L1157 903.38 L1159 903.93 L1161 904.46 L1163 904.96 L1165 905.43 L1167 905.89 L1169 906.31 L1171 906.71 L1173 907.09 L1175 907.44 L1177 907.77 L1179 908.07 L1181 908.35 L1183 908.6 L1185 908.83 L1187 909.03 L1189 909.21 L1191 909.37 L1193 909.5 L1195 909.61 L1197 909.69 L1199 909.75 L1201 909.79 L1203 909.8 L1205 909.79 L1207 909.75 L1209 909.69 L1211 909.61 L1213 909.5 L1215 909.37 L1217 909.21 L1219 909.04 L1221 908.84 L1223 908.61 L1225 908.37 L1227 908.1 L1229 907.8 L1231 907.49 L1233 907.15 L1235 906.78 L1237 906.4 L1239 905.99 L1241 905.56 L1243 905.11 L1245 904.63 L1247 904.13 L1249 903.61 L1251 903.07 L1253 902.51 L1255 901.92 L1257 901.31 L1259 900.68 L1261 900.02 L1263 899.35 L1265 898.65 L1267 897.93 L1269 897.19 L1271 896.42 L1273 895.64 L1275 894.83 L1277 894 L1279 893.16 L1281 892.28 L1283 891.39 L1285 890.48 L1287 889.54 L1289 888.59 L1291 887.61 L1293 886.61 L1295 885.59 L1297 884.55 L1299 883.49 L1301 882.41 L1303 881.31 L1305 880.18 L1307 879.04 L1309 877.87 L1311 876.69 L1313 875.48 L1315 874.26 L1317 873.01 L1319 871.75 L1321 870.46 L1323 869.15 L1325 867.83 L1327 866.48 L1329 865.11 L1331 863.73 L1333 862.32 L1335 860.89 L1337 859.45 L1339 857.98 L1341 856.5 L1343 854.99 L1345 853.47 L1347 851.93 L1349 850.36 L1351 848.78 L1353 847.18 L1355 845.56 L1357 843.92 L1359 842.27 L1361 840.59 L1363 838.89 L1365 837.18 L1367 835.44 L1369 833.69 L1371 831.92 L1373 830.13 L1375 828.33 L1377 826.5 L1379 824.66 L1381 822.79 L1383 820.91 L1385 819.01 L1387 817.1 L1389 815.16 L1391 813.21 L1393 811.24 L1395 809.25 L1397 807.24 L1399 805.22 L1401 803.17 L1403 801.11 L1405 799.04 L1407 796.94 L1409 794.83 L1411 792.7 L1413 790.55 L1415 788.39 L1417 786.21 L1419 784.01 L1421 781.8 L1423 779.56 L1425 777.31 L1427 775.05 L1429 772.77 L1431 770.47 L1433 768.15 L1435 765.82 L1437 763.47 L1439 761.1 L1441 758.72 L1443 756.32 L1445 753.91 L1447 751.48 L1449 749.03 L1451 746.56 L1453 744.09 L1455 741.59 L1457 739.08 L1459 736.55 L1461 734.01 L1463 731.45 L1465 728.88 L1467 726.29 L1469 723.68 L1471 721.06 L1473 718.42 L1475 715.77 L1477 713.11 L1479 710.42 L1481 707.73 L1483 705.01 L1485 702.29 L1487 699.55 L1489 696.79 L1491 694.02 L1493 691.23 L1495 688.43 L1497 685.62 L1499 682.8 L1501 679.96 L1503 677.11 L1505 674.24 L1507 671.37 L1509 668.48 L1511 665.58 L1513 662.67 L1515 659.75 L1517 656.82 L1519 653.88 L1521 650.93 L1523 647.97 L1525 645 L1527 642.02 L1529 639.03 L1531 636.03 L1533 633.03 L1535 630.01 L1537 626.99 L1539 623.96 L1541 620.93 L1543 617.88 L1545 614.83 L1547 611.78 L1549 608.71 L1551 605.64 L1553 602.57 L1555 599.49 L1557 596.41 L1559 593.32 L1561 590.23 L1563 587.13 L1565 584.03 L1567 580.92 L1569 577.82 L1571 574.7 L1573 571.59 L1575 568.48 L1577 565.36 L1579 562.24 L1581 559.12 L1583 555.99 L1585 552.87 L1587 549.75 L1589 546.62 L1591 543.5 L1593 540.37 L1595 537.25 L1597 534.12 L1599 531 L1601 527.88 L1603 524.76 L1605 521.64 L1607 518.52 L1609 515.41 L1611 512.3 L1613 509.19 L1615 506.09 L1617 502.99 L1619 499.89 L1621 496.8 L1623 493.71 L1625 490.62 L1627 487.54 L1629 484.47 L1631 481.4 L1633 478.34 L1635 475.28 L1637 472.23 L1639 469.19 L1641 466.15 L1643 463.12 L1645 460.1 L1647 457.09 L1649 454.08 L1651 451.08 L1653 448.09 L1655 445.11 L1657 442.14 L1659 439.18 L1661 436.23 L1663 433.29 L1665 430.35 L1667 427.43 L1669 424.52 L1671 421.62 L1673 418.73 L1675 415.85 L1677 412.99 L1679 410.13 L1681 407.29 L1683 404.46 L1685 401.64 L1687 398.83 L1689 396.04 L1691 393.26 L1693 390.49 L1695 387.73 L1697 384.99 L1699 382.26 L1701 379.55 L1703 376.85 L1705 374.16 L1707 371.49 L1709 368.83 L1711 366.19 L1713 363.56 L1715 360.95 L1717 358.35 L1719 355.77 L1721 353.21 L1723 350.66 L1725 348.13 L1727 345.61 L1729 343.11 L1731 340.63 L1733 338.16 L1735 335.71 L1737 333.28 L1739 330.87 L1741 328.48 L1743 326.1 L1745 323.74 L1747 321.4 L1749 319.08 L1751 316.78 L1753 314.5 L1755 312.23 L1757 309.99 L1759 307.76 L1761 305.56 L1763 303.38 L1765 301.21 L1767 299.07 L1769 296.95 L1771 294.85 L1773 292.77 L1775 290.71 L1777 288.67 L1779 286.66 L1781 284.66 L1783 282.69 L1785 280.75 L1787 278.82 L1789 276.92 L1791 275.04 L1793 273.18 L1795 271.35 L1797 269.54 L1799 267.76 L1801 265.99 L1803 264.26 L1805 262.55 L1807 260.86 L1809 259.2" fill="none" stroke="#0a0a84" stroke-width="1.3" stroke-linejoin="round" />
<g shape-rendering="crispEdges"><rect x="260" y="975" width="1549" height="1" fill="url(#hd)"/><rect x="260" y="980" width="1549" height="1" fill="url(#hd)"/><rect x="260" y="984" width="1549" height="1" fill="url(#hd)"/><rect x="260" y="987" width="1549" height="1" fill="url(#hd)"/><rect x="260" y="990" width="1549" height="1" fill="url(#hd)"/><rect x="260" y="993" width="1549" height="1" fill="url(#hd)"/><rect x="260" y="995" width="1549" height="1" fill="url(#hd)"/><rect x="260" y="1011" width="1549" height="1" fill="url(#hd)"/><rect x="260" y="1020" width="1549" height="1" fill="url(#hd)"/><rect x="260" y="1026" width="1549" height="1" fill="url(#hd)"/><rect x="260" y="1031" width="1549" height="1" fill="url(#hd)"/><rect x="260" y="1035" width="1549" height="1" fill="url(#hd)"/><rect x="260" y="1038" width="1549" height="1" fill="url(#hd)"/><rect x="260" y="1041" width="1549" height="1" fill="url(#hd)"/><rect x="260" y="1044" width="1549" height="1" fill="url(#hd)"/><rect x="260" y="1046" width="1549" height="1" fill="url(#hd)"/><rect x="260" y="1062" width="1549" height="1" fill="url(#hd)"/><rect x="260" y="1071" width="1549" height="1" fill="url(#hd)"/><rect x="260" y="1077" width="1549" height="1" fill="url(#hd)"/><rect x="260" y="1082" width="1549" height="1" fill="url(#hd)"/><rect x="260" y="1086" width="1549" height="1" fill="url(#hd)"/><rect x="260" y="1089" width="1549" height="1" fill="url(#hd)"/><rect x="260" y="1092" width="1549" height="1" fill="url(#hd)"/><rect x="260" y="1095" width="1549" height="1" fill="url(#hd)"/><rect x="260" y="1097" width="1549" height="1" fill="url(#hd)"/><rect x="260" y="1113" width="1549" height="1" fill="url(#hd)"/><rect x="440" y="970" width="1" height="152" fill="url(#vd)"/><rect x="620" y="970" width="1" height="152" fill="url(#vd)"/><rect x="800" y="970" width="1" height="152" fill="url(#vd)"/><rect x="1086" y="970" width="1" height="152" fill="url(#vd)"/><rect x="1267" y="970" width="1" height="152" fill="url(#vd)"/><rect x="1449" y="970" width="1" height="152" fill="url(#vd)"/><rect x="1629" y="970" width="1" height="152" fill="url(#vd)"/></g>
<g shape-rendering="crispEdges"><rect x="259" y="969" width="1551" height="1" fill="#000"/><rect x="259" y="1122" width="1551" height="1" fill="#000"/><rect x="259" y="969" width="1" height="154" fill="#000"/><rect x="1809" y="969" width="1" height="154" fill="#000"/><rect x="259" y="975" width="9" height="1" fill="#000"/><rect x="1801" y="975" width="9" height="1" fill="#000"/><rect x="259" y="980" width="9" height="1" fill="#000"/><rect x="1801" y="980" width="9" height="1" fill="#000"/><rect x="259" y="984" width="9" height="1" fill="#000"/><rect x="1801" y="984" width="9" height="1" fill="#000"/><rect x="259" y="987" width="9" height="1" fill="#000"/><rect x="1801" y="987" width="9" height="1" fill="#000"/><rect x="259" y="990" width="9" height="1" fill="#000"/><rect x="1801" y="990" width="9" height="1" fill="#000"/><rect x="259" y="993" width="9" height="1" fill="#000"/><rect x="1801" y="993" width="9" height="1" fill="#000"/><rect x="259" y="995" width="17" height="1" fill="#000"/><rect x="1793" y="995" width="17" height="1" fill="#000"/><rect x="259" y="1011" width="9" height="1" fill="#000"/><rect x="1801" y="1011" width="9" height="1" fill="#000"/><rect x="259" y="1020" width="9" height="1" fill="#000"/><rect x="1801" y="1020" width="9" height="1" fill="#000"/><rect x="259" y="1026" width="9" height="1" fill="#000"/><rect x="1801" y="1026" width="9" height="1" fill="#000"/><rect x="259" y="1031" width="9" height="1" fill="#000"/><rect x="1801" y="1031" width="9" height="1" fill="#000"/><rect x="259" y="1035" width="9" height="1" fill="#000"/><rect x="1801" y="1035" width="9" height="1" fill="#000"/><rect x="259" y="1038" width="9" height="1" fill="#000"/><rect x="1801" y="1038" width="9" height="1" fill="#000"/><rect x="259" y="1041" width="9" height="1" fill="#000"/><rect x="1801" y="1041" width="9" height="1" fill="#000"/><rect x="259" y="1044" width="9" height="1" fill="#000"/><rect x="1801" y="1044" width="9" height="1" fill="#000"/><rect x="259" y="1046" width="17" height="1" fill="#000"/><rect x="1793" y="1046" width="17" height="1" fill="#000"/><rect x="259" y="1062" width="9" height="1" fill="#000"/><rect x="1801" y="1062" width="9" height="1" fill="#000"/><rect x="259" y="1071" width="9" height="1" fill="#000"/><rect x="1801" y="1071" width="9" height="1" fill="#000"/><rect x="259" y="1077" width="9" height="1" fill="#000"/><rect x="1801" y="1077" width="9" height="1" fill="#000"/><rect x="259" y="1082" width="9" height="1" fill="#000"/><rect x="1801" y="1082" width="9" height="1" fill="#000"/><rect x="259" y="1086" width="9" height="1" fill="#000"/><rect x="1801" y="1086" width="9" height="1" fill="#000"/><rect x="259" y="1089" width="9" height="1" fill="#000"/><rect x="1801" y="1089" width="9" height="1" fill="#000"/><rect x="259" y="1092" width="9" height="1" fill="#000"/><rect x="1801" y="1092" width="9" height="1" fill="#000"/><rect x="259" y="1095" width="9" height="1" fill="#000"/><rect x="1801" y="1095" width="9" height="1" fill="#000"/><rect x="259" y="1097" width="17" height="1" fill="#000"/><rect x="1793" y="1097" width="17" height="1" fill="#000"/><rect x="259" y="1113" width="9" height="1" fill="#000"/><rect x="1801" y="1113" width="9" height="1" fill="#000"/><rect x="440" y="969" width="1" height="17" fill="#000"/><rect x="440" y="1106" width="1" height="17" fill="#000"/><rect x="620" y="969" width="1" height="17" fill="#000"/><rect x="620" y="1106" width="1" height="17" fill="#000"/><rect x="800" y="969" width="1" height="17" fill="#000"/><rect x="800" y="1106" width="1" height="17" fill="#000"/><rect x="1086" y="969" width="1" height="17" fill="#000"/><rect x="1086" y="1106" width="1" height="17" fill="#000"/><rect x="1267" y="969" width="1" height="17" fill="#000"/><rect x="1267" y="1106" width="1" height="17" fill="#000"/><rect x="1449" y="969" width="1" height="17" fill="#000"/><rect x="1449" y="1106" width="1" height="17" fill="#000"/><rect x="1629" y="969" width="1" height="17" fill="#000"/><rect x="1629" y="1106" width="1" height="17" fill="#000"/></g>
<defs><linearGradient id="sg12" x1="0" y1="1" x2="0" y2="0"><stop offset="0" stop-color="#0000f9"/><stop offset="0.5" stop-color="#0000f1"/><stop offset="1" stop-color="#0000b0" stop-opacity="0"/></linearGradient><linearGradient id="sg16" x1="0" y1="1" x2="0" y2="0"><stop offset="0" stop-color="#0023ff"/><stop offset="0.5" stop-color="#000bff"/><stop offset="1" stop-color="#0000b0" stop-opacity="0"/></linearGradient><linearGradient id="sg20" x1="0" y1="1" x2="0" y2="0"><stop offset="0" stop-color="#004cff"/><stop offset="0.5" stop-color="#0023ff"/><stop offset="1" stop-color="#0000b0" stop-opacity="0"/></linearGradient><linearGradient id="sg8" x1="0" y1="1" x2="0" y2="0"><stop offset="0" stop-color="#0000d1"/><stop offset="0.5" stop-color="#0000d9"/><stop offset="1" stop-color="#0000b0" stop-opacity="0"/></linearGradient><linearGradient id="sg25" x1="0" y1="1" x2="0" y2="0"><stop offset="0" stop-color="#007fff"/><stop offset="0.5" stop-color="#0042ff"/><stop offset="1" stop-color="#0000b0" stop-opacity="0"/></linearGradient><linearGradient id="sg30" x1="0" y1="1" x2="0" y2="0"><stop offset="0" stop-color="#00b2ff"/><stop offset="0.5" stop-color="#0060ff"/><stop offset="1" stop-color="#0000b0" stop-opacity="0"/></linearGradient><linearGradient id="sg35" x1="0" y1="1" x2="0" y2="0"><stop offset="0" stop-color="#00e5ff"/><stop offset="0.5" stop-color="#007fff"/><stop offset="1" stop-color="#0000b0" stop-opacity="0"/></linearGradient><linearGradient id="sg40" x1="0" y1="1" x2="0" y2="0"><stop offset="0" stop-color="#19ffe5"/><stop offset="0.5" stop-color="#009eff"/><stop offset="1" stop-color="#0000b0" stop-opacity="0"/></linearGradient></defs><g shape-rendering="crispEdges"><rect x="723" y="970" width="79" height="152" fill="#0000b0"/><rect x="723" y="970" width="79" height="4" fill="#000090"/><rect x="910" y="970" width="611" height="152" fill="#0000b0"/><rect x="910" y="970" width="611" height="4" fill="#000090"/><rect x="774" y="1036" width="1" height="5" fill="#0010d8"/><rect x="752" y="1020" width="1" height="1" fill="#0004c0"/><rect x="772" y="1052" width="1" height="5" fill="#0008c8"/><rect x="785" y="1014" width="1" height="5" fill="#0020f0"/><rect x="750" y="1077" width="1" height="3" fill="#0008c8"/><rect x="772" y="1083" width="1" height="2" fill="#0010d8"/><rect x="782" y="1065" width="1" height="5" fill="#0004c0"/><rect x="733" y="1090" width="1" height="5" fill="#1030ff"/><rect x="734" y="1046" width="1" height="4" fill="#0008c8"/><rect x="757" y="1055" width="1" height="4" fill="#0010d8"/><rect x="769" y="1094" width="1" height="5" fill="#0008c8"/><rect x="782" y="1051" width="1" height="2" fill="#0020f0"/><rect x="782" y="1093" width="1" height="3" fill="#0010d8"/><rect x="750" y="1091" width="1" height="2" fill="#1030ff"/><rect x="779" y="1058" width="1" height="2" fill="#0020f0"/><rect x="745" y="987" width="1" height="1" fill="#0010d8"/><rect x="783" y="1067" width="1" height="4" fill="#0008c8"/><rect x="777" y="1062" width="1" height="2" fill="#0004c0"/><rect x="723" y="1036" width="1" height="2" fill="#0020f0"/><rect x="774" y="1014" width="1" height="1" fill="#1030ff"/><rect x="750" y="1043" width="1" height="5" fill="#0018e8"/><rect x="739" y="1033" width="1" height="4" fill="#0008c8"/><rect x="739" y="1072" width="1" height="5" fill="#0008c8"/><rect x="742" y="1060" width="1" height="4" fill="#0008c8"/><rect x="735" y="1002" width="1" height="3" fill="#0010d8"/><rect x="745" y="1039" width="1" height="2" fill="#0020f0"/><rect x="763" y="1075" width="1" height="2" fill="#0008c8"/><rect x="755" y="1002" width="1" height="3" fill="#0010d8"/><rect x="732" y="1049" width="1" height="1" fill="#0020f0"/><rect x="729" y="1031" width="1" height="4" fill="#0018e8"/><rect x="766" y="1079" width="1" height="4" fill="#0018e8"/><rect x="776" y="1079" width="1" height="5" fill="#0008c8"/><rect x="746" y="1084" width="1" height="3" fill="#1030ff"/><rect x="774" y="1075" width="1" height="2" fill="#0004c0"/><rect x="751" y="1064" width="1" height="3" fill="#0008c8"/><rect x="763" y="1017" width="1" height="2" fill="#0018e8"/><rect x="760" y="1042" width="1" height="1" fill="#0018e8"/><rect x="776" y="1091" width="1" height="3" fill="#0008c8"/><rect x="787" y="1026" width="1" height="3" fill="#0008c8"/><rect x="784" y="1052" width="1" height="3" fill="#0018e8"/><rect x="760" y="1039" width="1" height="5" fill="#0010d8"/><rect x="759" y="1036" width="1" height="5" fill="#0008c8"/><rect x="779" y="1013" width="1" height="3" fill="#0010d8"/><rect x="767" y="978" width="1" height="3" fill="#1030ff"/><rect x="760" y="1092" width="1" height="2" fill="#1030ff"/><rect x="744" y="1076" width="1" height="3" fill="#1030ff"/><rect x="776" y="1072" width="1" height="2" fill="#0018e8"/><rect x="767" y="1064" width="1" height="1" fill="#0008c8"/><rect x="787" y="1052" width="1" height="1" fill="#0020f0"/><rect x="762" y="1090" width="1" height="2" fill="#0020f0"/><rect x="779" y="1089" width="1" height="3" fill="#1030ff"/><rect x="776" y="1045" width="1" height="5" fill="#1030ff"/><rect x="800" y="1075" width="1" height="2" fill="#1030ff"/><rect x="725" y="1094" width="1" height="3" fill="#0008c8"/><rect x="797" y="986" width="1" height="1" fill="#0018e8"/><rect x="761" y="1035" width="1" height="5" fill="#1030ff"/><rect x="798" y="1056" width="1" height="2" fill="#0008c8"/><rect x="735" y="1094" width="1" height="4" fill="#0018e8"/><rect x="745" y="1022" width="1" height="3" fill="#0010d8"/><rect x="739" y="1086" width="1" height="4" fill="#0018e8"/><rect x="794" y="1091" width="1" height="2" fill="#0004c0"/><rect x="755" y="1015" width="1" height="4" fill="#0020f0"/><rect x="771" y="1012" width="1" height="4" fill="#0020f0"/><rect x="783" y="1065" width="1" height="1" fill="#0020f0"/><rect x="753" y="1094" width="1" height="5" fill="#0008c8"/><rect x="737" y="1030" width="1" height="4" fill="#0008c8"/><rect x="765" y="1064" width="1" height="1" fill="#0020f0"/><rect x="791" y="1024" width="1" height="1" fill="#0020f0"/><rect x="763" y="1040" width="1" height="2" fill="#0010d8"/><rect x="798" y="1088" width="1" height="4" fill="#0008c8"/><rect x="729" y="1032" width="1" height="2" fill="#0020f0"/><rect x="760" y="1008" width="1" height="4" fill="#0008c8"/><rect x="776" y="1018" width="1" height="2" fill="#0008c8"/><rect x="785" y="1010" width="1" height="3" fill="#1030ff"/><rect x="769" y="994" width="1" height="2" fill="#0008c8"/><rect x="794" y="1010" width="1" height="3" fill="#1030ff"/><rect x="791" y="996" width="1" height="1" fill="#1030ff"/><rect x="739" y="1080" width="1" height="2" fill="#0020f0"/><rect x="734" y="986" width="1" height="5" fill="#1030ff"/><rect x="771" y="1009" width="1" height="2" fill="#0020f0"/><rect x="800" y="1074" width="1" height="5" fill="#0010d8"/><rect x="766" y="1075" width="1" height="3" fill="#0008c8"/><rect x="778" y="1012" width="1" height="2" fill="#1030ff"/><rect x="737" y="1007" width="1" height="5" fill="#1030ff"/><rect x="724" y="1018" width="1" height="1" fill="#0008c8"/><rect x="753" y="1055" width="1" height="5" fill="#0008c8"/><rect x="733" y="1084" width="1" height="2" fill="#0008c8"/><rect x="744" y="1075" width="1" height="3" fill="#0004c0"/><rect x="763" y="1058" width="1" height="5" fill="#0018e8"/><rect x="725" y="1027" width="1" height="2" fill="#0010d8"/><rect x="724" y="1084" width="1" height="5" fill="#0004c0"/><rect x="760" y="1003" width="1" height="4" fill="#0008c8"/><rect x="732" y="988" width="1" height="2" fill="#0020f0"/><rect x="763" y="1081" width="1" height="3" fill="#0008c8"/><rect x="727" y="1036" width="1" height="3" fill="#0020f0"/><rect x="752" y="1054" width="1" height="1" fill="#0008c8"/><rect x="759" y="1072" width="1" height="4" fill="#0020f0"/><rect x="752" y="1011" width="1" height="4" fill="#0008c8"/><rect x="750" y="1020" width="1" height="3" fill="#0010d8"/><rect x="795" y="998" width="1" height="1" fill="#0020f0"/><rect x="726" y="1081" width="1" height="2" fill="#0010d8"/><rect x="761" y="992" width="1" height="3" fill="#0010d8"/><rect x="797" y="1074" width="1" height="2" fill="#0008c8"/><rect x="727" y="1049" width="1" height="4" fill="#0008c8"/><rect x="744" y="1058" width="1" height="3" fill="#0018e8"/><rect x="739" y="1046" width="1" height="5" fill="#0008c8"/><rect x="770" y="1049" width="1" height="2" fill="#1030ff"/><rect x="796" y="1047" width="1" height="1" fill="#0018e8"/><rect x="801" y="1014" width="1" height="2" fill="#0010d8"/><rect x="783" y="1072" width="1" height="2" fill="#0010d8"/><rect x="755" y="1010" width="1" height="5" fill="#1030ff"/><rect x="787" y="1088" width="1" height="5" fill="#0008c8"/><rect x="753" y="1019" width="1" height="2" fill="#1030ff"/><rect x="776" y="1038" width="1" height="5" fill="#0008c8"/><rect x="753" y="1021" width="1" height="5" fill="#0004c0"/><rect x="786" y="1013" width="1" height="1" fill="#0008c8"/><rect x="778" y="993" width="1" height="2" fill="#0008c8"/><rect x="760" y="1012" width="1" height="3" fill="#0008c8"/><rect x="796" y="1052" width="1" height="2" fill="#1030ff"/><rect x="769" y="1002" width="1" height="3" fill="#0018e8"/><rect x="741" y="1068" width="1" height="5" fill="#0004c0"/><rect x="748" y="1044" width="1" height="1" fill="#0004c0"/><rect x="752" y="1006" width="1" height="1" fill="#0008c8"/><rect x="771" y="983" width="1" height="3" fill="#0018e8"/><rect x="754" y="1053" width="1" height="1" fill="#0008c8"/><rect x="726" y="1011" width="1" height="2" fill="#0004c0"/><rect x="1172" y="1074" width="1" height="1" fill="#1030ff"/><rect x="910" y="1042" width="1" height="4" fill="#0008c8"/><rect x="1288" y="1048" width="1" height="5" fill="#0018e8"/><rect x="1482" y="1086" width="1" height="3" fill="#0004c0"/><rect x="1263" y="1078" width="1" height="3" fill="#0020f0"/><rect x="1159" y="993" width="1" height="1" fill="#0010d8"/><rect x="1183" y="1030" width="1" height="1" fill="#0004c0"/><rect x="1224" y="1061" width="1" height="2" fill="#0010d8"/><rect x="1362" y="1065" width="1" height="5" fill="#0008c8"/><rect x="1178" y="995" width="1" height="4" fill="#0008c8"/><rect x="928" y="1025" width="1" height="4" fill="#0018e8"/><rect x="1238" y="1050" width="1" height="2" fill="#0020f0"/><rect x="1457" y="1088" width="1" height="1" fill="#0004c0"/><rect x="1317" y="1075" width="1" height="1" fill="#0020f0"/><rect x="1196" y="1044" width="1" height="4" fill="#0004c0"/><rect x="1519" y="997" width="1" height="1" fill="#0008c8"/><rect x="1486" y="996" width="1" height="2" fill="#0008c8"/><rect x="1329" y="1013" width="1" height="5" fill="#0020f0"/><rect x="928" y="983" width="1" height="3" fill="#0010d8"/><rect x="1118" y="1065" width="1" height="1" fill="#0008c8"/><rect x="1350" y="1080" width="1" height="3" fill="#0010d8"/><rect x="1048" y="1079" width="1" height="3" fill="#0010d8"/><rect x="1335" y="1000" width="1" height="2" fill="#0008c8"/><rect x="1338" y="1037" width="1" height="1" fill="#0008c8"/><rect x="1185" y="1090" width="1" height="3" fill="#0004c0"/><rect x="1072" y="1073" width="1" height="1" fill="#0008c8"/><rect x="981" y="1021" width="1" height="4" fill="#0010d8"/><rect x="1207" y="1059" width="1" height="2" fill="#0008c8"/><rect x="1423" y="1028" width="1" height="4" fill="#0004c0"/><rect x="1422" y="1021" width="1" height="2" fill="#0018e8"/><rect x="1200" y="1007" width="1" height="3" fill="#0020f0"/><rect x="1041" y="1077" width="1" height="2" fill="#0020f0"/><rect x="1273" y="1059" width="1" height="1" fill="#0010d8"/><rect x="1479" y="1042" width="1" height="2" fill="#0020f0"/><rect x="910" y="1031" width="1" height="4" fill="#0020f0"/><rect x="994" y="980" width="1" height="1" fill="#0018e8"/><rect x="1378" y="1000" width="1" height="1" fill="#0010d8"/><rect x="1000" y="1075" width="1" height="3" fill="#0010d8"/><rect x="1027" y="1007" width="1" height="3" fill="#1030ff"/><rect x="1227" y="1010" width="1" height="5" fill="#1030ff"/><rect x="1104" y="997" width="1" height="1" fill="#0004c0"/><rect x="935" y="1092" width="1" height="2" fill="#0004c0"/><rect x="1324" y="1031" width="1" height="1" fill="#0018e8"/><rect x="1166" y="1047" width="1" height="5" fill="#0004c0"/><rect x="1133" y="1032" width="1" height="1" fill="#1030ff"/><rect x="1242" y="1068" width="1" height="5" fill="#1030ff"/><rect x="1147" y="1082" width="1" height="5" fill="#0020f0"/><rect x="1344" y="1070" width="1" height="2" fill="#0020f0"/><rect x="1265" y="1055" width="1" height="5" fill="#0008c8"/><rect x="1456" y="1028" width="1" height="1" fill="#0020f0"/><rect x="1517" y="1032" width="1" height="2" fill="#0018e8"/><rect x="956" y="994" width="1" height="3" fill="#1030ff"/><rect x="1481" y="1026" width="1" height="3" fill="#0010d8"/><rect x="1476" y="1030" width="1" height="1" fill="#1030ff"/><rect x="1472" y="1026" width="1" height="3" fill="#0018e8"/><rect x="1113" y="1062" width="1" height="1" fill="#0010d8"/><rect x="1004" y="1046" width="1" height="4" fill="#0008c8"/><rect x="1467" y="1053" width="1" height="3" fill="#0020f0"/><rect x="1296" y="1022" width="1" height="2" fill="#0008c8"/><rect x="1270" y="1005" width="1" height="3" fill="#1030ff"/><rect x="1010" y="1088" width="1" height="3" fill="#0018e8"/><rect x="1230" y="1058" width="1" height="5" fill="#0008c8"/><rect x="1206" y="1094" width="1" height="3" fill="#0018e8"/><rect x="1042" y="1005" width="1" height="2" fill="#0004c0"/><rect x="937" y="1054" width="1" height="5" fill="#0004c0"/><rect x="1055" y="1020" width="1" height="5" fill="#0020f0"/><rect x="1041" y="1022" width="1" height="4" fill="#1030ff"/><rect x="1303" y="998" width="1" height="3" fill="#0008c8"/><rect x="1413" y="1018" width="1" height="1" fill="#0018e8"/><rect x="1218" y="1020" width="1" height="5" fill="#0008c8"/><rect x="1039" y="1044" width="1" height="1" fill="#0004c0"/><rect x="1484" y="1091" width="1" height="3" fill="#0008c8"/><rect x="1458" y="1093" width="1" height="1" fill="#0008c8"/><rect x="1131" y="1070" width="1" height="1" fill="#0018e8"/><rect x="1117" y="1063" width="1" height="4" fill="#0018e8"/><rect x="913" y="1016" width="1" height="1" fill="#0020f0"/><rect x="1135" y="1008" width="1" height="4" fill="#0010d8"/><rect x="1038" y="1092" width="1" height="5" fill="#0018e8"/><rect x="1205" y="1080" width="1" height="1" fill="#0008c8"/><rect x="943" y="1027" width="1" height="1" fill="#1030ff"/><rect x="1165" y="1056" width="1" height="3" fill="#0008c8"/><rect x="1420" y="1074" width="1" height="3" fill="#0020f0"/><rect x="1266" y="1068" width="1" height="2" fill="#1030ff"/><rect x="942" y="1076" width="1" height="5" fill="#0008c8"/><rect x="1291" y="1052" width="1" height="2" fill="#1030ff"/><rect x="1334" y="1091" width="1" height="3" fill="#0010d8"/><rect x="1434" y="1021" width="1" height="1" fill="#0018e8"/><rect x="1332" y="1070" width="1" height="3" fill="#0020f0"/><rect x="1220" y="1047" width="1" height="5" fill="#0010d8"/><rect x="941" y="1068" width="1" height="2" fill="#0010d8"/><rect x="928" y="1008" width="1" height="2" fill="#0004c0"/><rect x="1171" y="1029" width="1" height="3" fill="#0018e8"/><rect x="1075" y="1085" width="1" height="3" fill="#0008c8"/><rect x="1079" y="979" width="1" height="5" fill="#0018e8"/><rect x="1385" y="1024" width="1" height="4" fill="#1030ff"/><rect x="1236" y="1071" width="1" height="2" fill="#0004c0"/><rect x="1490" y="1006" width="1" height="5" fill="#0008c8"/><rect x="1425" y="1038" width="1" height="5" fill="#0010d8"/><rect x="1388" y="1016" width="1" height="1" fill="#0008c8"/><rect x="1316" y="1093" width="1" height="4" fill="#0020f0"/><rect x="1233" y="1030" width="1" height="2" fill="#1030ff"/><rect x="975" y="997" width="1" height="2" fill="#0008c8"/><rect x="1305" y="1008" width="1" height="2" fill="#1030ff"/><rect x="1327" y="1091" width="1" height="2" fill="#0004c0"/><rect x="992" y="1012" width="1" height="1" fill="#0008c8"/><rect x="1392" y="1036" width="1" height="3" fill="#0018e8"/><rect x="1257" y="1049" width="1" height="2" fill="#1030ff"/><rect x="1479" y="1094" width="1" height="4" fill="#0020f0"/><rect x="1354" y="1029" width="1" height="2" fill="#0020f0"/><rect x="1056" y="1047" width="1" height="3" fill="#1030ff"/><rect x="1049" y="1091" width="1" height="4" fill="#0018e8"/><rect x="1097" y="1044" width="1" height="5" fill="#0018e8"/><rect x="1520" y="1027" width="1" height="4" fill="#0020f0"/><rect x="1385" y="1075" width="1" height="4" fill="#0008c8"/><rect x="1375" y="1013" width="1" height="3" fill="#0018e8"/><rect x="921" y="1036" width="1" height="3" fill="#0008c8"/><rect x="971" y="1071" width="1" height="2" fill="#0008c8"/><rect x="1034" y="1089" width="1" height="5" fill="#0018e8"/><rect x="1463" y="1089" width="1" height="1" fill="#0008c8"/><rect x="1039" y="1058" width="1" height="2" fill="#0010d8"/><rect x="1135" y="1075" width="1" height="3" fill="#0008c8"/><rect x="1264" y="1069" width="1" height="1" fill="#0008c8"/><rect x="1115" y="988" width="1" height="2" fill="#0020f0"/><rect x="1121" y="1016" width="1" height="1" fill="#0010d8"/><rect x="1382" y="1022" width="1" height="3" fill="#0008c8"/><rect x="1285" y="1032" width="1" height="3" fill="#0010d8"/><rect x="1209" y="982" width="1" height="4" fill="#0008c8"/><rect x="1081" y="1057" width="1" height="1" fill="#0008c8"/><rect x="1128" y="1077" width="1" height="4" fill="#0008c8"/><rect x="1199" y="1075" width="1" height="3" fill="#0004c0"/><rect x="1100" y="1069" width="1" height="4" fill="#0004c0"/><rect x="1218" y="1076" width="1" height="4" fill="#1030ff"/><rect x="1416" y="982" width="1" height="1" fill="#0004c0"/><rect x="1458" y="1059" width="1" height="3" fill="#0008c8"/><rect x="938" y="1090" width="1" height="3" fill="#1030ff"/><rect x="913" y="1011" width="1" height="3" fill="#0004c0"/><rect x="1513" y="1031" width="1" height="3" fill="#0004c0"/><rect x="1181" y="1037" width="1" height="5" fill="#0008c8"/><rect x="1146" y="1065" width="1" height="5" fill="#0008c8"/><rect x="999" y="1065" width="1" height="1" fill="#0008c8"/><rect x="993" y="1066" width="1" height="1" fill="#0004c0"/><rect x="1308" y="1083" width="1" height="2" fill="#0008c8"/><rect x="1161" y="991" width="1" height="2" fill="#0020f0"/><rect x="1167" y="1078" width="1" height="4" fill="#0010d8"/><rect x="917" y="1083" width="1" height="3" fill="#0010d8"/><rect x="1296" y="1023" width="1" height="2" fill="#0010d8"/><rect x="1503" y="1076" width="1" height="1" fill="#1030ff"/><rect x="973" y="1008" width="1" height="3" fill="#0004c0"/><rect x="1390" y="1006" width="1" height="2" fill="#0004c0"/><rect x="1272" y="1057" width="1" height="2" fill="#0004c0"/><rect x="1154" y="993" width="1" height="3" fill="#0018e8"/><rect x="1025" y="1079" width="1" height="1" fill="#0008c8"/><rect x="1483" y="1011" width="1" height="5" fill="#1030ff"/><rect x="1107" y="1029" width="1" height="4" fill="#0004c0"/><rect x="1053" y="1094" width="1" height="2" fill="#0010d8"/><rect x="1348" y="1079" width="1" height="4" fill="#0004c0"/><rect x="1336" y="1091" width="1" height="2" fill="#0018e8"/><rect x="1142" y="1085" width="1" height="3" fill="#0020f0"/><rect x="948" y="1070" width="1" height="3" fill="#0018e8"/><rect x="1120" y="999" width="1" height="1" fill="#0010d8"/><rect x="942" y="1094" width="1" height="3" fill="#0008c8"/><rect x="1357" y="982" width="1" height="1" fill="#0010d8"/><rect x="926" y="1020" width="1" height="1" fill="#0008c8"/><rect x="980" y="996" width="1" height="3" fill="#0008c8"/><rect x="1290" y="1075" width="1" height="2" fill="#0018e8"/><rect x="1304" y="1059" width="1" height="4" fill="#0010d8"/><rect x="1390" y="1014" width="1" height="4" fill="#0004c0"/><rect x="988" y="1033" width="1" height="3" fill="#1030ff"/><rect x="1224" y="1059" width="1" height="2" fill="#1030ff"/><rect x="1115" y="989" width="1" height="5" fill="#0004c0"/><rect x="1151" y="1060" width="1" height="1" fill="#0004c0"/><rect x="1476" y="1040" width="1" height="2" fill="#0008c8"/><rect x="944" y="1009" width="1" height="1" fill="#0008c8"/><rect x="1097" y="1014" width="1" height="2" fill="#1030ff"/><rect x="1346" y="1081" width="1" height="5" fill="#0008c8"/><rect x="1181" y="996" width="1" height="2" fill="#0010d8"/><rect x="1439" y="1074" width="1" height="5" fill="#0008c8"/><rect x="1361" y="1066" width="1" height="4" fill="#0020f0"/><rect x="1187" y="1072" width="1" height="3" fill="#0020f0"/><rect x="1361" y="1004" width="1" height="4" fill="#0020f0"/><rect x="1262" y="1089" width="1" height="4" fill="#0008c8"/><rect x="1160" y="1077" width="1" height="5" fill="#0008c8"/><rect x="1021" y="1084" width="1" height="1" fill="#0008c8"/><rect x="981" y="1010" width="1" height="2" fill="#0008c8"/><rect x="1450" y="1003" width="1" height="5" fill="#0018e8"/><rect x="1208" y="1077" width="1" height="3" fill="#0018e8"/><rect x="1100" y="1066" width="1" height="5" fill="#0008c8"/><rect x="983" y="1059" width="1" height="5" fill="#1030ff"/><rect x="1168" y="1034" width="1" height="2" fill="#1030ff"/><rect x="1403" y="1032" width="1" height="4" fill="#0010d8"/><rect x="1261" y="1035" width="1" height="2" fill="#0010d8"/><rect x="1194" y="1024" width="1" height="5" fill="#0020f0"/><rect x="1517" y="1000" width="1" height="4" fill="#1030ff"/><rect x="1496" y="1003" width="1" height="3" fill="#1030ff"/><rect x="1173" y="1045" width="1" height="2" fill="#0010d8"/><rect x="1221" y="1073" width="1" height="5" fill="#0018e8"/><rect x="1197" y="983" width="1" height="3" fill="#0008c8"/><rect x="1297" y="1073" width="1" height="5" fill="#0020f0"/><rect x="1188" y="1055" width="1" height="2" fill="#0018e8"/><rect x="1435" y="1081" width="1" height="5" fill="#0010d8"/><rect x="1459" y="1035" width="1" height="2" fill="#0008c8"/><rect x="934" y="1077" width="1" height="1" fill="#0018e8"/><rect x="1017" y="1059" width="1" height="4" fill="#0004c0"/><rect x="1427" y="1090" width="1" height="4" fill="#0008c8"/><rect x="1508" y="1084" width="1" height="4" fill="#0008c8"/><rect x="995" y="1044" width="1" height="5" fill="#0020f0"/><rect x="1287" y="1020" width="1" height="3" fill="#0008c8"/><rect x="935" y="1063" width="1" height="1" fill="#0008c8"/><rect x="1075" y="1072" width="1" height="3" fill="#0020f0"/><rect x="1123" y="1077" width="1" height="5" fill="#0018e8"/><rect x="955" y="1028" width="1" height="4" fill="#0008c8"/><rect x="1383" y="1081" width="1" height="1" fill="#0010d8"/><rect x="1121" y="1058" width="1" height="1" fill="#0018e8"/><rect x="1098" y="1052" width="1" height="5" fill="#0010d8"/><rect x="1124" y="1056" width="1" height="3" fill="#0008c8"/><rect x="1018" y="996" width="1" height="1" fill="#0008c8"/><rect x="1249" y="1076" width="1" height="2" fill="#0010d8"/><rect x="1426" y="1088" width="1" height="1" fill="#0018e8"/><rect x="1162" y="1050" width="1" height="4" fill="#0010d8"/><rect x="1483" y="1077" width="1" height="3" fill="#0020f0"/><rect x="1352" y="1086" width="1" height="5" fill="#0004c0"/><rect x="1084" y="1043" width="1" height="2" fill="#0010d8"/><rect x="1327" y="1045" width="1" height="3" fill="#0004c0"/><rect x="1298" y="1033" width="1" height="5" fill="#0020f0"/><rect x="957" y="1016" width="1" height="5" fill="#1030ff"/><rect x="1456" y="984" width="1" height="4" fill="#0020f0"/><rect x="968" y="1066" width="1" height="1" fill="#0018e8"/><rect x="1514" y="1083" width="1" height="4" fill="#0018e8"/><rect x="928" y="1012" width="1" height="1" fill="#0010d8"/><rect x="1455" y="1063" width="1" height="2" fill="#0010d8"/><rect x="1139" y="1028" width="1" height="3" fill="#1030ff"/><rect x="975" y="1057" width="1" height="5" fill="#1030ff"/><rect x="1400" y="986" width="1" height="2" fill="#0018e8"/><rect x="1479" y="1039" width="1" height="2" fill="#0008c8"/><rect x="1232" y="1052" width="1" height="2" fill="#0004c0"/><rect x="1283" y="1003" width="1" height="4" fill="#0004c0"/><rect x="1380" y="1035" width="1" height="4" fill="#0008c8"/><rect x="1071" y="1089" width="1" height="1" fill="#0008c8"/><rect x="1506" y="1050" width="1" height="5" fill="#1030ff"/><rect x="1235" y="1049" width="1" height="3" fill="#0018e8"/><rect x="947" y="1082" width="1" height="1" fill="#0018e8"/><rect x="1100" y="1008" width="1" height="3" fill="#1030ff"/><rect x="1295" y="1030" width="1" height="2" fill="#1030ff"/><rect x="1185" y="1056" width="1" height="5" fill="#0020f0"/><rect x="1514" y="1071" width="1" height="1" fill="#0010d8"/><rect x="999" y="1049" width="1" height="2" fill="#0010d8"/><rect x="1077" y="1070" width="1" height="4" fill="#0004c0"/><rect x="1030" y="1046" width="1" height="1" fill="#0018e8"/><rect x="1058" y="992" width="1" height="5" fill="#0010d8"/><rect x="1311" y="1018" width="1" height="2" fill="#0004c0"/><rect x="1049" y="1063" width="1" height="1" fill="#0004c0"/><rect x="1195" y="1032" width="1" height="2" fill="#0018e8"/><rect x="1363" y="1055" width="1" height="3" fill="#0008c8"/><rect x="1438" y="1049" width="1" height="1" fill="#1030ff"/><rect x="1288" y="1018" width="1" height="2" fill="#0004c0"/><rect x="921" y="976" width="1" height="2" fill="#0018e8"/><rect x="1435" y="980" width="1" height="5" fill="#0018e8"/><rect x="1298" y="1070" width="1" height="3" fill="#0008c8"/><rect x="1144" y="1074" width="1" height="1" fill="#0004c0"/><rect x="1501" y="1069" width="1" height="5" fill="#0010d8"/><rect x="1020" y="1078" width="1" height="5" fill="#0004c0"/><rect x="1320" y="987" width="1" height="3" fill="#0004c0"/><rect x="1061" y="1071" width="1" height="2" fill="#1030ff"/><rect x="965" y="1025" width="1" height="5" fill="#0008c8"/><rect x="1357" y="1051" width="1" height="3" fill="#0020f0"/><rect x="1010" y="1086" width="1" height="4" fill="#0010d8"/><rect x="1068" y="1072" width="1" height="3" fill="#1030ff"/><rect x="1014" y="1030" width="1" height="5" fill="#0004c0"/><rect x="1350" y="994" width="1" height="5" fill="#0008c8"/><rect x="1412" y="1067" width="1" height="3" fill="#1030ff"/><rect x="1465" y="1057" width="1" height="4" fill="#0008c8"/><rect x="1034" y="1059" width="1" height="2" fill="#0020f0"/><rect x="950" y="994" width="1" height="2" fill="#0004c0"/><rect x="1433" y="1043" width="1" height="2" fill="#0020f0"/><rect x="1302" y="1069" width="1" height="2" fill="#0010d8"/><rect x="1420" y="1059" width="1" height="3" fill="#0008c8"/><rect x="1369" y="1083" width="1" height="1" fill="#0020f0"/><rect x="958" y="1031" width="1" height="3" fill="#0010d8"/><rect x="1217" y="1027" width="1" height="1" fill="#0010d8"/><rect x="1505" y="990" width="1" height="3" fill="#0008c8"/><rect x="1495" y="1031" width="1" height="2" fill="#0010d8"/><rect x="1142" y="1069" width="1" height="2" fill="#0010d8"/><rect x="959" y="1057" width="1" height="1" fill="#0004c0"/><rect x="940" y="1091" width="1" height="4" fill="#0004c0"/><rect x="1289" y="1013" width="1" height="2" fill="#0008c8"/><rect x="1340" y="1020" width="1" height="5" fill="#0004c0"/><rect x="1149" y="1085" width="1" height="1" fill="#0004c0"/><rect x="965" y="977" width="1" height="1" fill="#0008c8"/><rect x="959" y="1088" width="1" height="4" fill="#0010d8"/><rect x="1139" y="1053" width="1" height="1" fill="#0008c8"/><rect x="1519" y="1070" width="1" height="2" fill="#0004c0"/><rect x="1362" y="1085" width="1" height="4" fill="#0010d8"/><rect x="1172" y="1038" width="1" height="4" fill="#0004c0"/><rect x="1302" y="1044" width="1" height="3" fill="#0004c0"/><rect x="1412" y="1082" width="1" height="5" fill="#0020f0"/><rect x="1442" y="1017" width="1" height="4" fill="#1030ff"/><rect x="1474" y="1005" width="1" height="2" fill="#0020f0"/><rect x="1482" y="1040" width="1" height="3" fill="#0018e8"/><rect x="1444" y="1026" width="1" height="3" fill="#0004c0"/><rect x="1117" y="1022" width="1" height="3" fill="#0008c8"/><rect x="1214" y="990" width="1" height="4" fill="#1030ff"/><rect x="1508" y="1013" width="1" height="4" fill="#0008c8"/><rect x="1035" y="1038" width="1" height="4" fill="#0008c8"/><rect x="1382" y="1058" width="1" height="2" fill="#0008c8"/><rect x="938" y="1055" width="1" height="5" fill="#0020f0"/><rect x="1132" y="987" width="1" height="1" fill="#0004c0"/><rect x="1413" y="1051" width="1" height="5" fill="#0004c0"/><rect x="1157" y="1067" width="1" height="3" fill="#0020f0"/><rect x="1312" y="1002" width="1" height="1" fill="#0018e8"/><rect x="1086" y="1085" width="1" height="2" fill="#0020f0"/><rect x="1106" y="1064" width="1" height="1" fill="#0010d8"/><rect x="1477" y="1052" width="1" height="5" fill="#0010d8"/><rect x="1263" y="1007" width="1" height="2" fill="#0008c8"/><rect x="936" y="1034" width="1" height="3" fill="#0008c8"/><rect x="976" y="1013" width="1" height="3" fill="#1030ff"/><rect x="1210" y="1039" width="1" height="2" fill="#0004c0"/><rect x="1205" y="1036" width="1" height="5" fill="#0008c8"/><rect x="1496" y="1039" width="1" height="1" fill="#0004c0"/><rect x="911" y="1049" width="1" height="5" fill="#0008c8"/><rect x="1273" y="1005" width="1" height="4" fill="#0018e8"/><rect x="1266" y="993" width="1" height="2" fill="#0018e8"/><rect x="1394" y="1036" width="1" height="4" fill="#0020f0"/><rect x="1357" y="1012" width="1" height="4" fill="#0004c0"/><rect x="1030" y="1082" width="1" height="5" fill="#1030ff"/><rect x="1068" y="1048" width="1" height="3" fill="#0010d8"/><rect x="1364" y="1053" width="1" height="1" fill="#0008c8"/><rect x="1520" y="1088" width="1" height="1" fill="#0008c8"/><rect x="978" y="1057" width="1" height="1" fill="#0018e8"/><rect x="1295" y="1080" width="1" height="5" fill="#0004c0"/><rect x="1303" y="1003" width="1" height="2" fill="#0018e8"/><rect x="1037" y="1041" width="1" height="2" fill="#0008c8"/><rect x="1044" y="1065" width="1" height="4" fill="#0008c8"/><rect x="1176" y="988" width="1" height="1" fill="#0008c8"/><rect x="1313" y="1011" width="1" height="4" fill="#0020f0"/><rect x="977" y="1029" width="1" height="2" fill="#1030ff"/><rect x="1274" y="1065" width="1" height="3" fill="#0008c8"/><rect x="1511" y="1003" width="1" height="3" fill="#1030ff"/><rect x="927" y="992" width="1" height="2" fill="#0004c0"/><rect x="917" y="1043" width="1" height="5" fill="#1030ff"/><rect x="1469" y="1012" width="1" height="1" fill="#0008c8"/><rect x="965" y="1037" width="1" height="2" fill="#1030ff"/><rect x="988" y="1084" width="1" height="4" fill="#0018e8"/><rect x="1104" y="1093" width="1" height="3" fill="#0008c8"/><rect x="1243" y="985" width="1" height="3" fill="#0010d8"/><rect x="1493" y="1068" width="1" height="1" fill="#0008c8"/><rect x="1475" y="1068" width="1" height="5" fill="#0020f0"/><rect x="1231" y="1062" width="1" height="5" fill="#0008c8"/><rect x="951" y="1008" width="1" height="3" fill="#0004c0"/><rect x="1087" y="1074" width="1" height="1" fill="#0008c8"/><rect x="1048" y="1067" width="1" height="4" fill="#1030ff"/><rect x="1190" y="1090" width="1" height="5" fill="#0010d8"/><rect x="1196" y="1047" width="1" height="5" fill="#0008c8"/><rect x="1041" y="1055" width="1" height="4" fill="#0004c0"/><rect x="1242" y="985" width="1" height="5" fill="#1030ff"/><rect x="1086" y="1052" width="1" height="4" fill="#0018e8"/><rect x="1103" y="1002" width="1" height="3" fill="#0018e8"/><rect x="1450" y="1040" width="1" height="5" fill="#1030ff"/><rect x="1007" y="1020" width="1" height="4" fill="#0008c8"/><rect x="915" y="1001" width="1" height="2" fill="#1030ff"/><rect x="1154" y="1059" width="1" height="5" fill="#0020f0"/><rect x="1400" y="1088" width="1" height="4" fill="#0008c8"/><rect x="1426" y="1077" width="1" height="3" fill="#0010d8"/><rect x="951" y="1002" width="1" height="2" fill="#0008c8"/><rect x="1429" y="1029" width="1" height="3" fill="#0008c8"/><rect x="1121" y="1021" width="1" height="2" fill="#0018e8"/><rect x="1131" y="991" width="1" height="2" fill="#0018e8"/><rect x="1006" y="1090" width="1" height="2" fill="#0018e8"/><rect x="1264" y="1020" width="1" height="4" fill="#0004c0"/><rect x="1423" y="1040" width="1" height="2" fill="#1030ff"/><rect x="1064" y="1087" width="1" height="2" fill="#0008c8"/><rect x="933" y="1067" width="1" height="4" fill="#1030ff"/><rect x="1171" y="999" width="1" height="2" fill="#1030ff"/><rect x="1178" y="1089" width="1" height="1" fill="#0020f0"/><rect x="1154" y="1038" width="1" height="1" fill="#0018e8"/><rect x="1114" y="1052" width="1" height="2" fill="#0008c8"/><rect x="1144" y="1070" width="1" height="5" fill="#0008c8"/><rect x="1360" y="1090" width="1" height="1" fill="#0008c8"/><rect x="1294" y="1015" width="1" height="3" fill="#0004c0"/><rect x="1375" y="1001" width="1" height="2" fill="#0004c0"/><rect x="1241" y="984" width="1" height="4" fill="#0018e8"/><rect x="1260" y="1018" width="1" height="4" fill="#0008c8"/><rect x="1165" y="1042" width="1" height="4" fill="#0008c8"/><rect x="1191" y="1081" width="1" height="1" fill="#0010d8"/><rect x="985" y="993" width="1" height="5" fill="#0010d8"/><rect x="1241" y="1068" width="1" height="5" fill="#0008c8"/><rect x="1262" y="1083" width="1" height="1" fill="#0004c0"/><rect x="988" y="1008" width="1" height="2" fill="#0010d8"/><rect x="922" y="988" width="1" height="4" fill="#0020f0"/><rect x="1331" y="1009" width="1" height="4" fill="#0008c8"/><rect x="1494" y="1013" width="1" height="3" fill="#0008c8"/><rect x="985" y="991" width="1" height="1" fill="#0010d8"/><rect x="1364" y="1077" width="1" height="5" fill="#0008c8"/><rect x="1510" y="1091" width="1" height="3" fill="#0008c8"/><rect x="1304" y="1080" width="1" height="1" fill="#0004c0"/><rect x="1292" y="1069" width="1" height="4" fill="#0018e8"/><rect x="1124" y="1022" width="1" height="3" fill="#0008c8"/><rect x="1100" y="1078" width="1" height="3" fill="#0020f0"/><rect x="1319" y="1037" width="1" height="2" fill="#0018e8"/><rect x="1403" y="993" width="1" height="4" fill="#1030ff"/><rect x="1358" y="1080" width="1" height="5" fill="#0004c0"/><rect x="1283" y="1046" width="1" height="1" fill="#0010d8"/><rect x="944" y="1088" width="1" height="5" fill="#0004c0"/><rect x="1155" y="1039" width="1" height="3" fill="#0008c8"/><rect x="1270" y="1022" width="1" height="1" fill="#0008c8"/><rect x="1178" y="1086" width="1" height="3" fill="#0020f0"/><rect x="1176" y="1044" width="1" height="4" fill="#0020f0"/><rect x="1216" y="1016" width="1" height="5" fill="#0008c8"/><rect x="1044" y="1068" width="1" height="1" fill="#0008c8"/><rect x="1264" y="1048" width="1" height="1" fill="#0010d8"/><rect x="965" y="1047" width="1" height="5" fill="#0010d8"/><rect x="1512" y="1067" width="1" height="3" fill="#1030ff"/><rect x="1470" y="998" width="1" height="1" fill="#0004c0"/><rect x="1232" y="1080" width="1" height="2" fill="#1030ff"/><rect x="1132" y="1026" width="1" height="2" fill="#0008c8"/><rect x="1515" y="999" width="1" height="4" fill="#0008c8"/><rect x="1499" y="1090" width="1" height="1" fill="#0010d8"/><rect x="1423" y="1076" width="1" height="5" fill="#0010d8"/><rect x="995" y="1034" width="1" height="1" fill="#1030ff"/><rect x="1160" y="998" width="1" height="1" fill="#0020f0"/><rect x="1028" y="1032" width="1" height="4" fill="#0008c8"/><rect x="1401" y="997" width="1" height="1" fill="#0008c8"/><rect x="960" y="1045" width="1" height="4" fill="#0010d8"/><rect x="1136" y="1081" width="1" height="2" fill="#0010d8"/><rect x="1468" y="1085" width="1" height="3" fill="#0020f0"/><rect x="1140" y="1094" width="1" height="4" fill="#0008c8"/><rect x="1392" y="1049" width="1" height="1" fill="#1030ff"/><rect x="1033" y="1056" width="1" height="3" fill="#0020f0"/><rect x="1119" y="1085" width="1" height="2" fill="#0004c0"/><rect x="1335" y="1042" width="1" height="2" fill="#0008c8"/><rect x="913" y="1050" width="1" height="3" fill="#0008c8"/><rect x="1252" y="1080" width="1" height="2" fill="#1030ff"/><rect x="1445" y="1035" width="1" height="5" fill="#0004c0"/><rect x="1217" y="1064" width="1" height="5" fill="#1030ff"/><rect x="915" y="1008" width="1" height="1" fill="#1030ff"/><rect x="1109" y="1058" width="1" height="3" fill="#0010d8"/><rect x="1484" y="1089" width="1" height="5" fill="#0020f0"/><rect x="1013" y="1063" width="1" height="4" fill="#0008c8"/><rect x="1397" y="1025" width="1" height="3" fill="#0004c0"/><rect x="1416" y="1081" width="1" height="4" fill="#0018e8"/><rect x="1469" y="1031" width="1" height="3" fill="#0020f0"/><rect x="1128" y="1084" width="1" height="2" fill="#0004c0"/><rect x="1351" y="990" width="1" height="3" fill="#0018e8"/><rect x="1361" y="980" width="1" height="2" fill="#0018e8"/><rect x="1146" y="1040" width="1" height="2" fill="#1030ff"/><rect x="1407" y="1050" width="1" height="3" fill="#0004c0"/><rect x="1324" y="1085" width="1" height="3" fill="#0008c8"/><rect x="1275" y="1090" width="1" height="2" fill="#0010d8"/><rect x="1458" y="1036" width="1" height="4" fill="#0020f0"/><rect x="1444" y="1067" width="1" height="4" fill="#0008c8"/><rect x="1029" y="1078" width="1" height="5" fill="#0018e8"/><rect x="1213" y="1000" width="1" height="1" fill="#0018e8"/><rect x="1325" y="1063" width="1" height="5" fill="#1030ff"/><rect x="1358" y="1051" width="1" height="4" fill="#0008c8"/><rect x="1488" y="1011" width="1" height="1" fill="#0020f0"/><rect x="1476" y="1073" width="1" height="3" fill="#0004c0"/><rect x="1266" y="1019" width="1" height="2" fill="#1030ff"/><rect x="1058" y="1039" width="1" height="5" fill="#0008c8"/><rect x="1265" y="1092" width="1" height="4" fill="#0020f0"/><rect x="1442" y="1012" width="1" height="1" fill="#0008c8"/><rect x="1330" y="1076" width="1" height="4" fill="#0004c0"/><rect x="1203" y="1005" width="1" height="4" fill="#0004c0"/><rect x="1140" y="992" width="1" height="3" fill="#0010d8"/><rect x="929" y="1026" width="1" height="5" fill="#0018e8"/><rect x="1516" y="1035" width="1" height="1" fill="#0018e8"/><rect x="1097" y="1054" width="1" height="1" fill="#0018e8"/><rect x="1322" y="1079" width="1" height="2" fill="#1030ff"/><rect x="999" y="1048" width="1" height="2" fill="#0018e8"/><rect x="1443" y="1074" width="1" height="5" fill="#0008c8"/><rect x="1199" y="1069" width="1" height="5" fill="#0020f0"/><rect x="1509" y="1091" width="1" height="4" fill="#0004c0"/><rect x="1345" y="1014" width="1" height="2" fill="#0018e8"/><rect x="1452" y="1056" width="1" height="1" fill="#0010d8"/><rect x="1433" y="1059" width="1" height="3" fill="#0004c0"/><rect x="1395" y="1092" width="1" height="2" fill="#0004c0"/><rect x="1148" y="1085" width="1" height="5" fill="#0018e8"/><rect x="1388" y="1087" width="1" height="1" fill="#0004c0"/><rect x="1164" y="1001" width="1" height="1" fill="#1030ff"/><rect x="1074" y="1037" width="1" height="1" fill="#0010d8"/><rect x="1380" y="1039" width="1" height="5" fill="#0008c8"/><rect x="1174" y="1087" width="1" height="1" fill="#0020f0"/><rect x="1122" y="1046" width="1" height="2" fill="#0010d8"/><rect x="1029" y="1051" width="1" height="2" fill="#0010d8"/><rect x="1180" y="1090" width="1" height="3" fill="#1030ff"/><rect x="1244" y="991" width="1" height="5" fill="#0004c0"/><rect x="1245" y="1044" width="1" height="2" fill="#1030ff"/><rect x="1419" y="1064" width="1" height="2" fill="#0020f0"/><rect x="1093" y="1083" width="1" height="3" fill="#0020f0"/><rect x="1354" y="1074" width="1" height="1" fill="#1030ff"/><rect x="1409" y="1062" width="1" height="1" fill="#1030ff"/><rect x="1063" y="1019" width="1" height="3" fill="#1030ff"/><rect x="1446" y="1053" width="1" height="3" fill="#0020f0"/><rect x="1157" y="1061" width="1" height="4" fill="#0008c8"/><rect x="1415" y="1067" width="1" height="1" fill="#0020f0"/><rect x="1164" y="990" width="1" height="1" fill="#0008c8"/><rect x="932" y="1080" width="1" height="4" fill="#0008c8"/><rect x="1116" y="1039" width="1" height="5" fill="#0018e8"/><rect x="979" y="993" width="1" height="1" fill="#0008c8"/><rect x="1365" y="1058" width="1" height="5" fill="#0020f0"/><rect x="1197" y="1023" width="1" height="4" fill="#0008c8"/><rect x="1223" y="1081" width="1" height="3" fill="#0018e8"/><rect x="1471" y="1021" width="1" height="5" fill="#0018e8"/><rect x="1363" y="1028" width="1" height="1" fill="#0008c8"/><rect x="963" y="1086" width="1" height="3" fill="#1030ff"/><rect x="1326" y="1056" width="1" height="1" fill="#1030ff"/><rect x="1389" y="1061" width="1" height="5" fill="#0020f0"/><rect x="1047" y="1015" width="1" height="1" fill="#0020f0"/><rect x="983" y="1093" width="1" height="2" fill="#1030ff"/><rect x="1338" y="1052" width="1" height="5" fill="#0020f0"/><rect x="1246" y="1089" width="1" height="3" fill="#0018e8"/><rect x="1029" y="1073" width="1" height="2" fill="#0008c8"/><rect x="920" y="1006" width="1" height="1" fill="#0008c8"/><rect x="1284" y="995" width="1" height="5" fill="#0020f0"/><rect x="1296" y="1062" width="1" height="5" fill="#0008c8"/><rect x="1203" y="1033" width="1" height="5" fill="#1030ff"/><rect x="1116" y="1044" width="1" height="1" fill="#0018e8"/><rect x="1214" y="1012" width="1" height="1" fill="#1030ff"/><rect x="1054" y="1080" width="1" height="2" fill="#0008c8"/><rect x="930" y="1039" width="1" height="5" fill="#0008c8"/><rect x="1208" y="1038" width="1" height="1" fill="#1030ff"/><rect x="1148" y="1064" width="1" height="1" fill="#1030ff"/><rect x="980" y="1068" width="1" height="4" fill="#0020f0"/><rect x="1277" y="1012" width="1" height="2" fill="#0008c8"/><rect x="1433" y="1090" width="1" height="3" fill="#0008c8"/><rect x="1214" y="1069" width="1" height="4" fill="#0010d8"/><rect x="1487" y="1061" width="1" height="2" fill="#1030ff"/><rect x="1355" y="1054" width="1" height="1" fill="#1030ff"/><rect x="1118" y="1084" width="1" height="1" fill="#0008c8"/><rect x="1250" y="1028" width="1" height="3" fill="#0008c8"/><rect x="1134" y="1002" width="1" height="4" fill="#0004c0"/><rect x="1004" y="1042" width="1" height="1" fill="#0008c8"/><rect x="1098" y="1055" width="1" height="5" fill="#0008c8"/><rect x="1359" y="1088" width="1" height="1" fill="#0008c8"/><rect x="1285" y="1077" width="1" height="5" fill="#0008c8"/><rect x="1320" y="1064" width="1" height="5" fill="#1030ff"/><rect x="1322" y="1011" width="1" height="2" fill="#0008c8"/><rect x="1006" y="1076" width="1" height="3" fill="#1030ff"/><rect x="1048" y="994" width="1" height="4" fill="#0018e8"/><rect x="1335" y="1019" width="1" height="2" fill="#0008c8"/><rect x="1374" y="1011" width="1" height="4" fill="#1030ff"/><rect x="967" y="1067" width="1" height="3" fill="#0008c8"/><rect x="1088" y="1061" width="1" height="3" fill="#0020f0"/><rect x="1136" y="1093" width="1" height="3" fill="#0020f0"/><rect x="1314" y="1060" width="1" height="2" fill="#1030ff"/><rect x="1281" y="1055" width="1" height="2" fill="#0004c0"/><rect x="1035" y="1064" width="1" height="1" fill="#0010d8"/><rect x="1384" y="1068" width="1" height="4" fill="#0008c8"/><rect x="917" y="1085" width="1" height="1" fill="#1030ff"/><rect x="1073" y="1024" width="1" height="4" fill="#0008c8"/><rect x="1500" y="1093" width="1" height="1" fill="#0004c0"/><rect x="1197" y="1006" width="1" height="2" fill="#1030ff"/><rect x="1445" y="1058" width="1" height="4" fill="#0008c8"/><rect x="1503" y="1007" width="1" height="4" fill="#0010d8"/><rect x="1361" y="1019" width="1" height="1" fill="#0020f0"/><rect x="1180" y="1012" width="1" height="1" fill="#0008c8"/><rect x="1180" y="1064" width="1" height="4" fill="#0008c8"/><rect x="1426" y="1030" width="1" height="2" fill="#0018e8"/><rect x="980" y="1044" width="1" height="4" fill="#0020f0"/><rect x="1102" y="997" width="1" height="3" fill="#0018e8"/><rect x="1309" y="1046" width="1" height="1" fill="#1030ff"/><rect x="1387" y="1074" width="1" height="2" fill="#0010d8"/><rect x="1283" y="1052" width="1" height="2" fill="#0010d8"/><rect x="1357" y="1046" width="1" height="2" fill="#0008c8"/><rect x="968" y="1060" width="1" height="2" fill="#0004c0"/><rect x="1470" y="1001" width="1" height="1" fill="#0010d8"/><rect x="1298" y="1049" width="1" height="1" fill="#1030ff"/><rect x="1459" y="1001" width="1" height="5" fill="#1030ff"/><rect x="1251" y="999" width="1" height="1" fill="#0020f0"/><rect x="1215" y="1094" width="1" height="4" fill="#0008c8"/><rect x="1516" y="1085" width="1" height="3" fill="#0020f0"/><rect x="933" y="1032" width="1" height="5" fill="#1030ff"/><rect x="1368" y="1028" width="1" height="3" fill="#0004c0"/><rect x="978" y="1082" width="1" height="1" fill="#1030ff"/><rect x="1449" y="1016" width="1" height="5" fill="#0008c8"/><rect x="1493" y="1035" width="1" height="1" fill="#0008c8"/><rect x="1463" y="1070" width="1" height="1" fill="#0008c8"/><rect x="973" y="1053" width="1" height="4" fill="#0010d8"/><rect x="919" y="1063" width="1" height="3" fill="#1030ff"/><rect x="1418" y="1090" width="1" height="4" fill="#0008c8"/><rect x="922" y="983" width="1" height="4" fill="#0004c0"/><rect x="1130" y="1019" width="1" height="1" fill="#0008c8"/><rect x="1241" y="1093" width="1" height="2" fill="#0008c8"/><rect x="930" y="1077" width="1" height="5" fill="#1030ff"/><rect x="1467" y="1023" width="1" height="2" fill="#0008c8"/><rect x="1180" y="1054" width="1" height="2" fill="#0018e8"/><rect x="1441" y="1077" width="1" height="2" fill="#1030ff"/><rect x="1498" y="1050" width="1" height="3" fill="#0020f0"/><rect x="1360" y="1047" width="1" height="3" fill="#0020f0"/><rect x="913" y="1071" width="1" height="2" fill="#0018e8"/><rect x="1316" y="1001" width="1" height="5" fill="#0008c8"/><rect x="954" y="1069" width="1" height="2" fill="#1030ff"/><rect x="1322" y="1027" width="1" height="5" fill="#0020f0"/><rect x="1035" y="1083" width="1" height="2" fill="#0008c8"/><rect x="1072" y="1084" width="1" height="3" fill="#0010d8"/><rect x="1257" y="1037" width="1" height="5" fill="#0004c0"/><rect x="1226" y="1034" width="1" height="4" fill="#0008c8"/><rect x="1445" y="1029" width="1" height="3" fill="#0008c8"/><rect x="1366" y="1048" width="1" height="4" fill="#0018e8"/><rect x="1251" y="1063" width="1" height="1" fill="#0008c8"/><rect x="1304" y="1024" width="1" height="3" fill="#0008c8"/><rect x="1307" y="1058" width="1" height="3" fill="#0004c0"/><rect x="1352" y="1085" width="1" height="3" fill="#0020f0"/><rect x="1373" y="1024" width="1" height="3" fill="#0008c8"/><rect x="929" y="1002" width="1" height="2" fill="#0010d8"/><rect x="969" y="1057" width="1" height="4" fill="#0008c8"/><rect x="1409" y="1042" width="1" height="4" fill="#0004c0"/><rect x="1292" y="1004" width="1" height="4" fill="#0018e8"/><rect x="1151" y="1008" width="1" height="1" fill="#0020f0"/><rect x="1327" y="1003" width="1" height="5" fill="#0020f0"/><rect x="1024" y="1088" width="1" height="2" fill="#1030ff"/><rect x="1460" y="1074" width="1" height="5" fill="#0004c0"/><rect x="1225" y="1092" width="1" height="5" fill="#0008c8"/><rect x="922" y="1087" width="1" height="3" fill="#0020f0"/><rect x="1117" y="1080" width="1" height="4" fill="#0008c8"/><rect x="1342" y="1015" width="1" height="2" fill="#0004c0"/><rect x="1344" y="1032" width="1" height="5" fill="#0008c8"/><rect x="1022" y="1062" width="1" height="4" fill="#0008c8"/><rect x="1069" y="1059" width="1" height="4" fill="#1030ff"/><rect x="1187" y="1090" width="1" height="1" fill="#1030ff"/><rect x="1014" y="1031" width="1" height="5" fill="#0008c8"/><rect x="1101" y="1068" width="1" height="2" fill="#0008c8"/><rect x="1328" y="1067" width="1" height="4" fill="#0020f0"/><rect x="1418" y="1055" width="1" height="5" fill="#0018e8"/><rect x="1029" y="1014" width="1" height="5" fill="#0020f0"/><rect x="1442" y="1048" width="1" height="3" fill="#0020f0"/><rect x="929" y="1045" width="1" height="4" fill="#0008c8"/><rect x="1123" y="1034" width="1" height="1" fill="#0018e8"/><rect x="1483" y="1011" width="1" height="5" fill="#1030ff"/><rect x="1155" y="1054" width="1" height="4" fill="#1030ff"/><rect x="1432" y="1025" width="1" height="2" fill="#0008c8"/><rect x="1070" y="1000" width="1" height="2" fill="#0008c8"/><rect x="1260" y="1059" width="1" height="5" fill="#0010d8"/><rect x="1231" y="1083" width="1" height="1" fill="#0008c8"/><rect x="1434" y="1005" width="1" height="3" fill="#0004c0"/><rect x="1058" y="1005" width="1" height="3" fill="#1030ff"/><rect x="1501" y="1023" width="1" height="1" fill="#0018e8"/><rect x="1169" y="980" width="1" height="5" fill="#1030ff"/><rect x="1070" y="1043" width="1" height="3" fill="#0008c8"/><rect x="1200" y="980" width="1" height="4" fill="#0008c8"/><rect x="1197" y="1070" width="1" height="3" fill="#0010d8"/><rect x="1365" y="1032" width="1" height="5" fill="#0008c8"/><rect x="927" y="1036" width="1" height="2" fill="#0008c8"/><rect x="948" y="1075" width="1" height="5" fill="#0008c8"/><rect x="1112" y="1080" width="1" height="3" fill="#1030ff"/><rect x="1248" y="1013" width="1" height="3" fill="#0008c8"/><rect x="1236" y="1003" width="1" height="2" fill="#0008c8"/><rect x="1428" y="1049" width="1" height="2" fill="#0008c8"/><rect x="1082" y="1067" width="1" height="5" fill="#0018e8"/><rect x="1345" y="1022" width="1" height="5" fill="#0020f0"/><rect x="1124" y="1058" width="1" height="5" fill="#0010d8"/><rect x="1504" y="1070" width="1" height="4" fill="#0020f0"/><rect x="1207" y="1070" width="1" height="4" fill="#0020f0"/><rect x="1132" y="1075" width="1" height="1" fill="#0008c8"/><rect x="1501" y="1034" width="1" height="5" fill="#0008c8"/><rect x="956" y="992" width="1" height="5" fill="#0010d8"/><rect x="1512" y="988" width="1" height="2" fill="#0008c8"/><rect x="1190" y="986" width="1" height="4" fill="#0008c8"/><rect x="1440" y="1078" width="1" height="4" fill="#0008c8"/><rect x="1274" y="1050" width="1" height="3" fill="#0018e8"/><rect x="1359" y="1052" width="1" height="3" fill="#0004c0"/><rect x="1336" y="1085" width="1" height="4" fill="#0008c8"/><rect x="1005" y="1059" width="1" height="1" fill="#0008c8"/><rect x="1359" y="1044" width="1" height="3" fill="#1030ff"/><rect x="1492" y="1035" width="1" height="1" fill="#0008c8"/><rect x="1144" y="1069" width="1" height="2" fill="#0008c8"/><rect x="1493" y="1092" width="1" height="3" fill="#0018e8"/><rect x="1278" y="1043" width="1" height="2" fill="#0004c0"/><rect x="1498" y="1039" width="1" height="3" fill="#0004c0"/><rect x="1391" y="1080" width="1" height="2" fill="#0020f0"/><rect x="1323" y="1018" width="1" height="4" fill="#0008c8"/><rect x="1008" y="1009" width="1" height="4" fill="#0018e8"/><rect x="1266" y="991" width="1" height="2" fill="#0008c8"/><rect x="1214" y="1071" width="1" height="2" fill="#0008c8"/><rect x="1457" y="1039" width="1" height="1" fill="#0010d8"/><rect x="1330" y="987" width="1" height="1" fill="#0010d8"/><rect x="1141" y="1042" width="1" height="5" fill="#0008c8"/><rect x="1350" y="1044" width="1" height="3" fill="#1030ff"/><rect x="1173" y="1047" width="1" height="4" fill="#0008c8"/><rect x="959" y="1043" width="1" height="4" fill="#0008c8"/><rect x="1048" y="1051" width="1" height="3" fill="#0020f0"/><rect x="961" y="1076" width="1" height="3" fill="#0020f0"/><rect x="1162" y="991" width="1" height="4" fill="#0018e8"/><rect x="1129" y="1016" width="1" height="5" fill="#0004c0"/><rect x="1061" y="992" width="1" height="3" fill="#1030ff"/><rect x="1160" y="1094" width="1" height="1" fill="#0010d8"/><rect x="1375" y="1035" width="1" height="3" fill="#0020f0"/><rect x="1423" y="1003" width="1" height="1" fill="#0018e8"/><rect x="1433" y="1061" width="1" height="1" fill="#0008c8"/><rect x="975" y="1073" width="1" height="1" fill="#1030ff"/><rect x="1229" y="1037" width="1" height="2" fill="#0010d8"/><rect x="1037" y="1028" width="1" height="4" fill="#0020f0"/><rect x="1376" y="1063" width="1" height="1" fill="#0008c8"/><rect x="1494" y="992" width="1" height="2" fill="#0004c0"/><rect x="1251" y="1058" width="1" height="5" fill="#1030ff"/><rect x="1502" y="1091" width="1" height="5" fill="#0008c8"/><rect x="918" y="1030" width="1" height="4" fill="#0008c8"/><rect x="1281" y="988" width="1" height="4" fill="#0018e8"/><rect x="1325" y="1032" width="1" height="5" fill="#0008c8"/><rect x="1176" y="1001" width="1" height="5" fill="#1030ff"/><rect x="1492" y="1023" width="1" height="4" fill="#0004c0"/><rect x="1268" y="1049" width="1" height="1" fill="#0008c8"/><rect x="1365" y="1077" width="1" height="2" fill="#1030ff"/><rect x="1072" y="1043" width="1" height="2" fill="#1030ff"/><rect x="1468" y="1070" width="1" height="5" fill="#0008c8"/><rect x="1062" y="1050" width="1" height="1" fill="#0004c0"/><rect x="1352" y="1069" width="1" height="5" fill="#0008c8"/><rect x="1405" y="1035" width="1" height="1" fill="#0020f0"/><rect x="1412" y="1070" width="1" height="4" fill="#0010d8"/><rect x="1414" y="1072" width="1" height="2" fill="#0020f0"/><rect x="1053" y="1006" width="1" height="1" fill="#0020f0"/><rect x="1178" y="1076" width="1" height="4" fill="#0004c0"/><rect x="1442" y="995" width="1" height="4" fill="#1030ff"/><rect x="1485" y="1080" width="1" height="5" fill="#0020f0"/><rect x="1149" y="1032" width="1" height="2" fill="#0008c8"/><rect x="1143" y="1010" width="1" height="1" fill="#1030ff"/><rect x="1282" y="1005" width="1" height="3" fill="#0004c0"/><rect x="1090" y="1060" width="1" height="5" fill="#0004c0"/><rect x="1297" y="1082" width="1" height="5" fill="#0010d8"/><rect x="1318" y="1042" width="1" height="3" fill="#0008c8"/><rect x="939" y="1012" width="1" height="4" fill="#0008c8"/><rect x="1234" y="1054" width="1" height="5" fill="#1030ff"/><rect x="1292" y="1085" width="1" height="3" fill="#0018e8"/><rect x="1018" y="1033" width="1" height="2" fill="#0008c8"/><rect x="1086" y="1021" width="1" height="5" fill="#0020f0"/><rect x="1287" y="1085" width="1" height="4" fill="#0010d8"/><rect x="1173" y="1075" width="1" height="5" fill="#0008c8"/><rect x="1233" y="1032" width="1" height="3" fill="#0018e8"/><rect x="1138" y="1061" width="1" height="5" fill="#0018e8"/><rect x="1199" y="1064" width="1" height="3" fill="#0004c0"/><rect x="994" y="1022" width="1" height="2" fill="#0018e8"/><rect x="945" y="1046" width="1" height="3" fill="#0020f0"/><rect x="1363" y="1016" width="1" height="3" fill="#0004c0"/><rect x="1094" y="1047" width="1" height="5" fill="#0010d8"/><rect x="1107" y="1083" width="1" height="1" fill="#0020f0"/><rect x="1351" y="1032" width="1" height="1" fill="#0020f0"/><rect x="1306" y="1090" width="1" height="2" fill="#0004c0"/><rect x="980" y="1092" width="1" height="4" fill="#0010d8"/><rect x="1049" y="1066" width="1" height="2" fill="#1030ff"/><rect x="930" y="1051" width="1" height="1" fill="#0018e8"/><rect x="1026" y="1001" width="1" height="3" fill="#0018e8"/><rect x="1443" y="1066" width="1" height="5" fill="#0008c8"/><rect x="1367" y="1039" width="1" height="4" fill="#1030ff"/><rect x="1130" y="1062" width="1" height="4" fill="#0020f0"/><rect x="1376" y="1002" width="1" height="1" fill="#1030ff"/><rect x="1025" y="1037" width="1" height="3" fill="#1030ff"/><rect x="1452" y="1058" width="1" height="5" fill="#0018e8"/><rect x="1101" y="1044" width="1" height="4" fill="#0004c0"/><rect x="938" y="1016" width="1" height="3" fill="#0004c0"/><rect x="1148" y="1011" width="1" height="4" fill="#0010d8"/><rect x="1469" y="1055" width="1" height="1" fill="#0018e8"/><rect x="1218" y="1083" width="1" height="1" fill="#0020f0"/><rect x="1110" y="1017" width="1" height="5" fill="#1030ff"/><rect x="1209" y="1088" width="1" height="3" fill="#0008c8"/><rect x="1083" y="1077" width="1" height="2" fill="#0004c0"/><rect x="1063" y="1072" width="1" height="1" fill="#0010d8"/><rect x="1438" y="1053" width="1" height="3" fill="#0018e8"/><rect x="1220" y="1078" width="1" height="1" fill="#0020f0"/><rect x="987" y="1057" width="1" height="4" fill="#0018e8"/><rect x="1452" y="1094" width="1" height="1" fill="#0008c8"/><rect x="1123" y="1071" width="1" height="5" fill="#0020f0"/><rect x="1139" y="1053" width="1" height="2" fill="#0010d8"/><rect x="1403" y="1024" width="1" height="1" fill="#0020f0"/><rect x="1278" y="1034" width="1" height="3" fill="#0010d8"/><rect x="1340" y="1069" width="1" height="2" fill="#0004c0"/><rect x="1159" y="1086" width="1" height="2" fill="#0008c8"/><rect x="1198" y="1072" width="1" height="3" fill="#0008c8"/><rect x="1424" y="1091" width="1" height="5" fill="#1030ff"/><rect x="1160" y="1087" width="1" height="4" fill="#1030ff"/><rect x="1387" y="1034" width="1" height="3" fill="#0010d8"/><rect x="1519" y="1035" width="1" height="5" fill="#0010d8"/><rect x="1383" y="1044" width="1" height="4" fill="#0008c8"/><rect x="1063" y="1066" width="1" height="5" fill="#1030ff"/><rect x="1060" y="1054" width="1" height="4" fill="#0010d8"/><rect x="970" y="1058" width="1" height="2" fill="#0020f0"/><rect x="1454" y="1036" width="1" height="3" fill="#0010d8"/><rect x="979" y="1045" width="1" height="4" fill="#0020f0"/><rect x="1368" y="1065" width="1" height="2" fill="#0004c0"/><rect x="930" y="1007" width="1" height="4" fill="#0018e8"/><rect x="1067" y="1005" width="1" height="5" fill="#0010d8"/><rect x="1250" y="1024" width="1" height="3" fill="#1030ff"/><rect x="1135" y="1084" width="1" height="5" fill="#0008c8"/><rect x="1063" y="1061" width="1" height="4" fill="#0004c0"/><rect x="1483" y="1077" width="1" height="3" fill="#0020f0"/><rect x="1040" y="1083" width="1" height="4" fill="#0008c8"/><rect x="923" y="985" width="1" height="1" fill="#1030ff"/><rect x="1331" y="1076" width="1" height="3" fill="#0008c8"/><rect x="1237" y="1061" width="1" height="2" fill="#1030ff"/><rect x="1217" y="1010" width="1" height="5" fill="#0008c8"/><rect x="1394" y="1010" width="1" height="1" fill="#0004c0"/><rect x="1326" y="1086" width="1" height="3" fill="#0018e8"/><rect x="1420" y="1071" width="1" height="2" fill="#0008c8"/><rect x="1277" y="1043" width="1" height="1" fill="#0008c8"/><rect x="1015" y="1088" width="1" height="4" fill="#0008c8"/><rect x="1159" y="1017" width="1" height="1" fill="#0008c8"/><rect x="1395" y="1003" width="1" height="1" fill="#0008c8"/><rect x="970" y="1049" width="1" height="1" fill="#0010d8"/><rect x="1341" y="1079" width="1" height="3" fill="#1030ff"/><rect x="1269" y="1084" width="1" height="3" fill="#0010d8"/><rect x="1211" y="1028" width="1" height="5" fill="#0010d8"/><rect x="1260" y="1094" width="1" height="4" fill="#0008c8"/><rect x="948" y="981" width="1" height="2" fill="#1030ff"/><rect x="1101" y="1004" width="1" height="3" fill="#0020f0"/><rect x="1292" y="1051" width="1" height="4" fill="#0020f0"/><rect x="1140" y="1083" width="1" height="4" fill="#0004c0"/><rect x="1107" y="1046" width="1" height="1" fill="#0018e8"/><rect x="1221" y="1007" width="1" height="1" fill="#0004c0"/><rect x="1392" y="1069" width="1" height="1" fill="#1030ff"/><rect x="1364" y="1012" width="1" height="3" fill="#0018e8"/><rect x="1495" y="1000" width="1" height="5" fill="#0008c8"/><rect x="1455" y="1094" width="1" height="5" fill="#0004c0"/><rect x="1284" y="1048" width="1" height="1" fill="#0008c8"/><rect x="1514" y="1068" width="1" height="4" fill="#1030ff"/><rect x="1387" y="1028" width="1" height="2" fill="#0018e8"/><rect x="994" y="1009" width="1" height="2" fill="#1030ff"/><rect x="1217" y="1068" width="1" height="1" fill="#1030ff"/><rect x="1502" y="1005" width="1" height="2" fill="#1030ff"/><rect x="1310" y="1073" width="1" height="4" fill="#0008c8"/><rect x="1156" y="994" width="1" height="3" fill="#0004c0"/><rect x="932" y="1072" width="1" height="2" fill="#0008c8"/><rect x="1056" y="1026" width="1" height="3" fill="#0004c0"/><rect x="1503" y="1078" width="1" height="4" fill="#0010d8"/><rect x="1457" y="1048" width="1" height="4" fill="#0004c0"/><rect x="1092" y="1008" width="1" height="1" fill="#0018e8"/><rect x="1242" y="983" width="1" height="4" fill="#0020f0"/><rect x="1288" y="1085" width="1" height="4" fill="#0010d8"/><rect x="1192" y="1042" width="1" height="2" fill="#0008c8"/><rect x="967" y="1004" width="1" height="4" fill="#1030ff"/><rect x="1140" y="1084" width="1" height="1" fill="#0010d8"/><rect x="1128" y="1086" width="1" height="1" fill="#0010d8"/><rect x="1053" y="1066" width="1" height="2" fill="#0010d8"/><rect x="1424" y="1062" width="1" height="2" fill="#0004c0"/><rect x="1452" y="1067" width="1" height="4" fill="#0008c8"/><rect x="1515" y="1049" width="1" height="3" fill="#1030ff"/><rect x="1279" y="1053" width="1" height="2" fill="#0010d8"/><rect x="1200" y="1032" width="1" height="1" fill="#0010d8"/><rect x="1474" y="1065" width="1" height="3" fill="#1030ff"/><rect x="1215" y="1037" width="1" height="2" fill="#0018e8"/><rect x="1252" y="1067" width="1" height="4" fill="#1030ff"/><rect x="1389" y="1089" width="1" height="2" fill="#0020f0"/><rect x="1397" y="1069" width="1" height="2" fill="#1030ff"/><rect x="942" y="1041" width="1" height="2" fill="#0010d8"/><rect x="1196" y="1083" width="1" height="4" fill="#1030ff"/><rect x="952" y="1064" width="1" height="1" fill="#0004c0"/><rect x="1202" y="1002" width="1" height="5" fill="#1030ff"/><rect x="1039" y="1047" width="1" height="4" fill="#0018e8"/><rect x="1054" y="1093" width="1" height="1" fill="#0008c8"/><rect x="1434" y="1074" width="1" height="3" fill="#0010d8"/><rect x="1425" y="1042" width="1" height="5" fill="#0018e8"/><rect x="1478" y="1087" width="1" height="4" fill="#0020f0"/><rect x="1170" y="1062" width="1" height="3" fill="#0004c0"/><rect x="1167" y="1040" width="1" height="2" fill="#0004c0"/><rect x="1444" y="1039" width="1" height="2" fill="#0004c0"/><rect x="1262" y="1083" width="1" height="1" fill="#0008c8"/><rect x="1209" y="1091" width="1" height="4" fill="#0018e8"/><rect x="953" y="1039" width="1" height="1" fill="#0010d8"/><rect x="1111" y="980" width="1" height="5" fill="#0004c0"/><rect x="1340" y="1008" width="1" height="2" fill="#0008c8"/><rect x="1273" y="983" width="1" height="4" fill="#0004c0"/><rect x="979" y="1071" width="1" height="1" fill="#0008c8"/><rect x="1087" y="1084" width="1" height="3" fill="#0004c0"/><rect x="1362" y="1035" width="1" height="3" fill="#0008c8"/><rect x="1342" y="999" width="1" height="5" fill="#0008c8"/><rect x="1241" y="1067" width="1" height="3" fill="#0018e8"/><rect x="1369" y="1007" width="1" height="2" fill="#0008c8"/><rect x="1369" y="1086" width="1" height="5" fill="#0004c0"/><rect x="1220" y="1084" width="1" height="4" fill="#0004c0"/><rect x="1411" y="1031" width="1" height="3" fill="#1030ff"/><rect x="1236" y="1064" width="1" height="2" fill="#0008c8"/><rect x="1299" y="1019" width="1" height="4" fill="#0018e8"/><rect x="1225" y="1003" width="1" height="5" fill="#0020f0"/><rect x="1198" y="1039" width="1" height="2" fill="#0008c8"/><rect x="1014" y="1035" width="1" height="1" fill="#1030ff"/><rect x="1189" y="998" width="1" height="5" fill="#0008c8"/><rect x="1372" y="1077" width="1" height="1" fill="#0020f0"/><rect x="1052" y="1018" width="1" height="1" fill="#0010d8"/><rect x="1144" y="1038" width="1" height="1" fill="#0018e8"/><rect x="976" y="1033" width="1" height="5" fill="#0018e8"/><rect x="1455" y="1033" width="1" height="1" fill="#0010d8"/><rect x="1111" y="1037" width="1" height="3" fill="#0008c8"/><rect x="1086" y="989" width="1" height="2" fill="#0004c0"/><rect x="1392" y="1042" width="1" height="5" fill="#0020f0"/><rect x="978" y="1048" width="1" height="4" fill="#0020f0"/><rect x="1084" y="1048" width="1" height="4" fill="#0008c8"/><rect x="1133" y="1083" width="1" height="2" fill="#0004c0"/><rect x="1220" y="1021" width="1" height="2" fill="#0020f0"/><rect x="1512" y="1078" width="1" height="4" fill="#0008c8"/><rect x="1311" y="1065" width="1" height="1" fill="#0004c0"/><rect x="1514" y="1094" width="1" height="3" fill="#0004c0"/><rect x="1135" y="1032" width="1" height="2" fill="#0020f0"/><rect x="1452" y="1064" width="1" height="2" fill="#0010d8"/><rect x="1234" y="1085" width="1" height="1" fill="#0018e8"/><rect x="1271" y="1085" width="1" height="5" fill="#0010d8"/><rect x="1212" y="981" width="1" height="2" fill="#0010d8"/><rect x="1333" y="1063" width="1" height="5" fill="#0004c0"/><rect x="1113" y="1004" width="1" height="2" fill="#0004c0"/><rect x="1467" y="1082" width="1" height="5" fill="#0010d8"/><rect x="1283" y="1025" width="1" height="5" fill="#1030ff"/><rect x="1117" y="1032" width="1" height="4" fill="#0018e8"/><rect x="1468" y="1042" width="1" height="3" fill="#0008c8"/><rect x="1301" y="1036" width="1" height="2" fill="#1030ff"/><rect x="1233" y="1063" width="1" height="2" fill="#0008c8"/><rect x="1297" y="1056" width="1" height="1" fill="#0004c0"/><rect x="1159" y="997" width="1" height="3" fill="#0008c8"/><rect x="1174" y="1022" width="1" height="4" fill="#0010d8"/><rect x="1289" y="1040" width="1" height="5" fill="#0008c8"/><rect x="1486" y="1005" width="1" height="4" fill="#0010d8"/><rect x="961" y="1091" width="1" height="2" fill="#0020f0"/><rect x="1199" y="1056" width="1" height="2" fill="#0010d8"/><rect x="913" y="1015" width="1" height="2" fill="#0010d8"/><rect x="1172" y="1078" width="1" height="1" fill="#1030ff"/><rect x="1483" y="1055" width="1" height="3" fill="#0008c8"/><rect x="1352" y="1093" width="1" height="4" fill="#0018e8"/><rect x="1517" y="1036" width="1" height="1" fill="#1030ff"/><rect x="1178" y="1083" width="1" height="1" fill="#0004c0"/><rect x="1111" y="1004" width="1" height="1" fill="#0004c0"/><rect x="1500" y="1048" width="1" height="3" fill="#0010d8"/><rect x="1051" y="1091" width="1" height="5" fill="#0004c0"/><rect x="1071" y="1068" width="1" height="2" fill="#0008c8"/><rect x="1104" y="1093" width="1" height="1" fill="#0004c0"/><rect x="1235" y="1012" width="1" height="3" fill="#0004c0"/><rect x="1149" y="1080" width="1" height="3" fill="#0004c0"/><rect x="1091" y="983" width="1" height="2" fill="#0008c8"/><rect x="1343" y="1014" width="1" height="1" fill="#0004c0"/><rect x="1268" y="1031" width="1" height="3" fill="#0004c0"/><rect x="1281" y="989" width="1" height="2" fill="#1030ff"/><rect x="1323" y="1022" width="1" height="1" fill="#0010d8"/><rect x="1111" y="1004" width="1" height="4" fill="#0008c8"/><rect x="1152" y="1005" width="1" height="5" fill="#0004c0"/><rect x="1149" y="1093" width="1" height="3" fill="#0008c8"/><rect x="1108" y="1051" width="1" height="3" fill="#0008c8"/><rect x="1078" y="1093" width="1" height="5" fill="#0008c8"/><rect x="1434" y="1055" width="1" height="3" fill="#0020f0"/><rect x="1501" y="1016" width="1" height="2" fill="#0004c0"/><rect x="1242" y="1052" width="1" height="3" fill="#0018e8"/><rect x="912" y="1040" width="1" height="5" fill="#0004c0"/><rect x="1312" y="1073" width="1" height="5" fill="#1030ff"/><rect x="973" y="1068" width="1" height="3" fill="#0010d8"/><rect x="1410" y="1025" width="1" height="3" fill="#0008c8"/><rect x="1038" y="1031" width="1" height="2" fill="#0004c0"/><rect x="1278" y="1043" width="1" height="2" fill="#0020f0"/><rect x="1254" y="1076" width="1" height="5" fill="#0010d8"/><rect x="1161" y="998" width="1" height="5" fill="#0008c8"/><rect x="1092" y="1071" width="1" height="2" fill="#0020f0"/><rect x="1319" y="1043" width="1" height="5" fill="#0018e8"/><rect x="1083" y="1058" width="1" height="5" fill="#0010d8"/><rect x="1046" y="1059" width="1" height="3" fill="#0008c8"/><rect x="1492" y="1013" width="1" height="1" fill="#0010d8"/><rect x="1187" y="1065" width="1" height="5" fill="#0018e8"/><rect x="1431" y="1079" width="1" height="3" fill="#0008c8"/><rect x="1229" y="1001" width="1" height="4" fill="#0008c8"/><rect x="1509" y="1057" width="1" height="3" fill="#0008c8"/><rect x="1151" y="1072" width="1" height="4" fill="#0018e8"/><rect x="1475" y="1015" width="1" height="4" fill="#0020f0"/><rect x="998" y="1029" width="1" height="5" fill="#0008c8"/><rect x="1338" y="1092" width="1" height="2" fill="#0008c8"/><rect x="1092" y="1077" width="1" height="3" fill="#0008c8"/><rect x="1019" y="1024" width="1" height="4" fill="#1030ff"/><rect x="1089" y="996" width="1" height="4" fill="#0008c8"/><rect x="1334" y="1050" width="1" height="1" fill="#0008c8"/><rect x="1370" y="1073" width="1" height="2" fill="#0004c0"/><rect x="1291" y="1080" width="1" height="2" fill="#0010d8"/><rect x="1493" y="1042" width="1" height="3" fill="#0020f0"/><rect x="1311" y="1023" width="1" height="5" fill="#0018e8"/><rect x="1171" y="1078" width="1" height="3" fill="#0008c8"/><rect x="1269" y="1057" width="1" height="3" fill="#1030ff"/><rect x="1186" y="1053" width="1" height="3" fill="#0020f0"/><rect x="1109" y="1021" width="1" height="3" fill="#0008c8"/><rect x="1023" y="1039" width="1" height="3" fill="#0008c8"/><rect x="1243" y="1035" width="1" height="4" fill="#0008c8"/><rect x="1455" y="1088" width="1" height="2" fill="#0008c8"/><rect x="1231" y="1089" width="1" height="3" fill="#0004c0"/><rect x="1112" y="1070" width="1" height="4" fill="#0004c0"/><rect x="1371" y="1073" width="1" height="3" fill="#0018e8"/><rect x="1453" y="1077" width="1" height="3" fill="#0020f0"/><rect x="1462" y="1000" width="1" height="3" fill="#0008c8"/><rect x="1189" y="1004" width="1" height="5" fill="#0008c8"/><rect x="1171" y="1005" width="1" height="2" fill="#0010d8"/><rect x="1205" y="1082" width="1" height="4" fill="#0010d8"/><rect x="723" y="1098" width="1" height="9" fill="#0000f9"/><rect x="723" y="1107" width="1" height="15" fill="#0000d1"/><rect x="725" y="1098" width="1" height="9" fill="#0000f9"/><rect x="725" y="1107" width="1" height="15" fill="#0000d1"/><rect x="729" y="1098" width="2" height="9" fill="#0000f9"/><rect x="729" y="1107" width="2" height="15" fill="#0000d1"/><rect x="733" y="1098" width="1" height="9" fill="#004cff"/><rect x="733" y="1107" width="1" height="15" fill="#0023ff"/><rect x="733" y="1090" width="1" height="8" fill="#0000f9"/><rect x="733" y="1067" width="1" height="23" fill="url(#sg12)"/><rect x="734" y="1098" width="1" height="9" fill="#007fff"/><rect x="734" y="1107" width="1" height="15" fill="#004cff"/><rect x="734" y="1090" width="1" height="8" fill="#0023ff"/><rect x="734" y="1054" width="1" height="36" fill="url(#sg12)"/><rect x="735" y="1098" width="2" height="9" fill="#007fff"/><rect x="735" y="1107" width="2" height="15" fill="#007fff"/><rect x="735" y="1090" width="2" height="8" fill="#004cff"/><rect x="735" y="1075" width="2" height="15" fill="url(#sg16)"/><rect x="737" y="1098" width="1" height="9" fill="#0000f9"/><rect x="737" y="1107" width="1" height="15" fill="#0000d1"/><rect x="738" y="1098" width="2" height="9" fill="#0023ff"/><rect x="738" y="1107" width="2" height="15" fill="#0023ff"/><rect x="738" y="1090" width="2" height="8" fill="#0023ff"/><rect x="740" y="1098" width="1" height="9" fill="#00b2ff"/><rect x="740" y="1107" width="1" height="15" fill="#007fff"/><rect x="740" y="1090" width="1" height="8" fill="#007fff"/><rect x="740" y="1060" width="1" height="30" fill="url(#sg20)"/><rect x="741" y="1098" width="1" height="9" fill="#004cff"/><rect x="741" y="1107" width="1" height="15" fill="#004cff"/><rect x="741" y="1090" width="1" height="8" fill="#0023ff"/><rect x="741" y="1082" width="1" height="8" fill="url(#sg12)"/><rect x="742" y="1098" width="1" height="9" fill="#00b2ff"/><rect x="742" y="1107" width="1" height="15" fill="#007fff"/><rect x="742" y="1090" width="1" height="8" fill="#0023ff"/><rect x="742" y="1075" width="1" height="15" fill="url(#sg12)"/><rect x="743" y="1098" width="1" height="9" fill="#0000f9"/><rect x="743" y="1107" width="1" height="15" fill="#0000d1"/><rect x="744" y="1098" width="2" height="9" fill="#0000d1"/><rect x="744" y="1107" width="2" height="15" fill="#0000d1"/><rect x="746" y="1098" width="1" height="9" fill="#0000f9"/><rect x="746" y="1107" width="1" height="15" fill="#0000d1"/><rect x="747" y="1098" width="1" height="9" fill="#0023ff"/><rect x="747" y="1107" width="1" height="15" fill="#0000f9"/><rect x="747" y="1090" width="1" height="8" fill="#0000f9"/><rect x="747" y="1077" width="1" height="13" fill="url(#sg12)"/><rect x="748" y="1098" width="2" height="9" fill="#0023ff"/><rect x="748" y="1107" width="2" height="15" fill="#0000f9"/><rect x="748" y="1090" width="2" height="8" fill="#0000f9"/><rect x="748" y="1068" width="2" height="22" fill="url(#sg12)"/><rect x="750" y="1098" width="1" height="9" fill="#0023ff"/><rect x="750" y="1107" width="1" height="15" fill="#0000f9"/><rect x="750" y="1090" width="1" height="8" fill="#0000f9"/><rect x="750" y="1069" width="1" height="21" fill="url(#sg8)"/><rect x="752" y="1098" width="1" height="9" fill="#0000f9"/><rect x="752" y="1107" width="1" height="15" fill="#0000d1"/><rect x="752" y="1090" width="1" height="8" fill="#0000d1"/><rect x="752" y="1080" width="1" height="10" fill="url(#sg8)"/><rect x="753" y="1098" width="1" height="9" fill="#00b2ff"/><rect x="753" y="1107" width="1" height="15" fill="#007fff"/><rect x="753" y="1090" width="1" height="8" fill="#007fff"/><rect x="753" y="1038" width="1" height="52" fill="url(#sg20)"/><rect x="754" y="1098" width="1" height="9" fill="#0000f9"/><rect x="754" y="1107" width="1" height="15" fill="#0000f9"/><rect x="754" y="1090" width="1" height="8" fill="#0000f9"/><rect x="754" y="1080" width="1" height="10" fill="url(#sg8)"/><rect x="755" y="1098" width="1" height="9" fill="#007fff"/><rect x="755" y="1107" width="1" height="15" fill="#007fff"/><rect x="755" y="1090" width="1" height="8" fill="#0023ff"/><rect x="755" y="1052" width="1" height="38" fill="url(#sg12)"/><rect x="756" y="1098" width="2" height="9" fill="#007fff"/><rect x="756" y="1107" width="2" height="15" fill="#004cff"/><rect x="756" y="1090" width="2" height="8" fill="#0023ff"/><rect x="758" y="1098" width="2" height="9" fill="#0023ff"/><rect x="758" y="1107" width="2" height="15" fill="#0000f9"/><rect x="758" y="1090" width="2" height="8" fill="#0000f9"/><rect x="758" y="1070" width="2" height="20" fill="url(#sg8)"/><rect x="764" y="1098" width="2" height="9" fill="#00b2ff"/><rect x="764" y="1107" width="2" height="15" fill="#007fff"/><rect x="764" y="1090" width="2" height="8" fill="#004cff"/><rect x="764" y="1047" width="2" height="43" fill="url(#sg16)"/><rect x="766" y="1098" width="1" height="9" fill="#0000f9"/><rect x="766" y="1107" width="1" height="15" fill="#0000d1"/><rect x="767" y="1098" width="1" height="9" fill="#0000f9"/><rect x="767" y="1107" width="1" height="15" fill="#0000f9"/><rect x="767" y="1090" width="1" height="8" fill="#0000f9"/><rect x="767" y="1083" width="1" height="7" fill="url(#sg8)"/><rect x="768" y="1098" width="1" height="9" fill="#00b2ff"/><rect x="768" y="1107" width="1" height="15" fill="#007fff"/><rect x="768" y="1090" width="1" height="8" fill="#007fff"/><rect x="768" y="1047" width="1" height="43" fill="url(#sg20)"/><rect x="771" y="1098" width="1" height="9" fill="#00b2ff"/><rect x="771" y="1107" width="1" height="15" fill="#007fff"/><rect x="771" y="1090" width="1" height="8" fill="#00b2ff"/><rect x="771" y="1079" width="1" height="11" fill="url(#sg25)"/><rect x="772" y="1098" width="2" height="9" fill="#004cff"/><rect x="772" y="1107" width="2" height="15" fill="#0023ff"/><rect x="772" y="1090" width="2" height="8" fill="#0023ff"/><rect x="772" y="1056" width="2" height="34" fill="url(#sg12)"/><rect x="774" y="1098" width="1" height="9" fill="#007fff"/><rect x="774" y="1107" width="1" height="15" fill="#004cff"/><rect x="774" y="1090" width="1" height="8" fill="#004cff"/><rect x="774" y="1052" width="1" height="38" fill="url(#sg16)"/><rect x="775" y="1098" width="2" height="9" fill="#00b2ff"/><rect x="775" y="1107" width="2" height="15" fill="#007fff"/><rect x="775" y="1090" width="2" height="8" fill="#004cff"/><rect x="775" y="1056" width="2" height="34" fill="url(#sg16)"/><rect x="777" y="1098" width="2" height="9" fill="#00b2ff"/><rect x="777" y="1107" width="2" height="15" fill="#007fff"/><rect x="777" y="1090" width="2" height="8" fill="#007fff"/><rect x="777" y="1036" width="2" height="54" fill="url(#sg20)"/><rect x="779" y="1098" width="2" height="9" fill="#007fff"/><rect x="779" y="1107" width="2" height="15" fill="#004cff"/><rect x="779" y="1090" width="2" height="8" fill="#004cff"/><rect x="779" y="1060" width="2" height="30" fill="url(#sg16)"/><rect x="781" y="1098" width="1" height="9" fill="#007fff"/><rect x="781" y="1107" width="1" height="15" fill="#004cff"/><rect x="781" y="1090" width="1" height="8" fill="#004cff"/><rect x="781" y="1050" width="1" height="40" fill="url(#sg16)"/><rect x="782" y="1098" width="1" height="9" fill="#007fff"/><rect x="782" y="1107" width="1" height="15" fill="#007fff"/><rect x="782" y="1090" width="1" height="8" fill="#004cff"/><rect x="782" y="1050" width="1" height="40" fill="url(#sg16)"/><rect x="783" y="1098" width="1" height="9" fill="#0000f9"/><rect x="783" y="1107" width="1" height="15" fill="#0000f9"/><rect x="783" y="1090" width="1" height="8" fill="#0000f9"/><rect x="783" y="1076" width="1" height="14" fill="url(#sg8)"/><rect x="784" y="1098" width="1" height="9" fill="#007fff"/><rect x="784" y="1107" width="1" height="15" fill="#004cff"/><rect x="784" y="1090" width="1" height="8" fill="#004cff"/><rect x="784" y="1044" width="1" height="46" fill="url(#sg16)"/><rect x="785" y="1098" width="1" height="9" fill="#0000f9"/><rect x="785" y="1107" width="1" height="15" fill="#0000d1"/><rect x="786" y="1098" width="1" height="9" fill="#0000f9"/><rect x="786" y="1107" width="1" height="15" fill="#0000f9"/><rect x="786" y="1090" width="1" height="8" fill="#0000f9"/><rect x="786" y="1076" width="1" height="14" fill="url(#sg8)"/><rect x="787" y="1098" width="2" height="9" fill="#0023ff"/><rect x="787" y="1107" width="2" height="15" fill="#0023ff"/><rect x="787" y="1090" width="2" height="8" fill="#0000f9"/><rect x="787" y="1076" width="2" height="14" fill="url(#sg8)"/><rect x="789" y="1098" width="2" height="9" fill="#00b2ff"/><rect x="789" y="1107" width="2" height="15" fill="#007fff"/><rect x="789" y="1090" width="2" height="8" fill="#004cff"/><rect x="789" y="1057" width="2" height="33" fill="url(#sg16)"/><rect x="791" y="1098" width="1" height="9" fill="#0000f9"/><rect x="791" y="1107" width="1" height="15" fill="#0000f9"/><rect x="791" y="1090" width="1" height="8" fill="#0000f9"/><rect x="791" y="1066" width="1" height="24" fill="url(#sg8)"/><rect x="792" y="1098" width="2" height="9" fill="#00b2ff"/><rect x="792" y="1107" width="2" height="15" fill="#007fff"/><rect x="792" y="1090" width="2" height="8" fill="#004cff"/><rect x="792" y="1065" width="2" height="25" fill="url(#sg16)"/><rect x="794" y="1098" width="1" height="9" fill="#0023ff"/><rect x="794" y="1107" width="1" height="15" fill="#0000f9"/><rect x="794" y="1090" width="1" height="8" fill="#0000f9"/><rect x="794" y="1074" width="1" height="16" fill="url(#sg8)"/><rect x="795" y="1098" width="1" height="9" fill="#00b2ff"/><rect x="795" y="1107" width="1" height="15" fill="#007fff"/><rect x="795" y="1090" width="1" height="8" fill="#004cff"/><rect x="795" y="1079" width="1" height="11" fill="url(#sg16)"/><rect x="796" y="1098" width="1" height="9" fill="#0023ff"/><rect x="796" y="1107" width="1" height="15" fill="#0000f9"/><rect x="796" y="1090" width="1" height="8" fill="#0000f9"/><rect x="796" y="1071" width="1" height="19" fill="url(#sg12)"/><rect x="797" y="1098" width="1" height="9" fill="#0023ff"/><rect x="797" y="1107" width="1" height="15" fill="#0000f9"/><rect x="798" y="1098" width="1" height="9" fill="#0000f9"/><rect x="798" y="1107" width="1" height="15" fill="#0000d1"/><rect x="799" y="1098" width="1" height="9" fill="#0000f9"/><rect x="799" y="1107" width="1" height="15" fill="#0000d1"/><rect x="800" y="1098" width="2" height="9" fill="#007fff"/><rect x="800" y="1107" width="2" height="15" fill="#004cff"/><rect x="800" y="1090" width="2" height="8" fill="#007fff"/><rect x="800" y="1050" width="2" height="40" fill="url(#sg20)"/><rect x="910" y="1098" width="1" height="9" fill="#0000f9"/><rect x="910" y="1107" width="1" height="15" fill="#0000d1"/><rect x="911" y="1098" width="1" height="9" fill="#0000f9"/><rect x="911" y="1107" width="1" height="15" fill="#0000f9"/><rect x="912" y="1098" width="1" height="9" fill="#007fff"/><rect x="912" y="1107" width="1" height="15" fill="#004cff"/><rect x="912" y="1090" width="1" height="8" fill="#004cff"/><rect x="912" y="1051" width="1" height="39" fill="url(#sg16)"/><rect x="913" y="1098" width="1" height="9" fill="#00b2ff"/><rect x="913" y="1107" width="1" height="15" fill="#007fff"/><rect x="913" y="1090" width="1" height="8" fill="#0023ff"/><rect x="913" y="1053" width="1" height="37" fill="url(#sg12)"/><rect x="914" y="1098" width="2" height="9" fill="#0000f9"/><rect x="914" y="1107" width="2" height="15" fill="#0000f9"/><rect x="914" y="1090" width="2" height="8" fill="#0000f9"/><rect x="914" y="1067" width="2" height="23" fill="url(#sg8)"/><rect x="916" y="1098" width="1" height="9" fill="#007fff"/><rect x="916" y="1107" width="1" height="15" fill="#004cff"/><rect x="916" y="1090" width="1" height="8" fill="#004cff"/><rect x="916" y="1045" width="1" height="45" fill="url(#sg16)"/><rect x="917" y="1098" width="1" height="9" fill="#0000f9"/><rect x="917" y="1107" width="1" height="15" fill="#0000f9"/><rect x="917" y="1090" width="1" height="8" fill="#0000f9"/><rect x="917" y="1069" width="1" height="21" fill="url(#sg8)"/><rect x="918" y="1098" width="2" height="9" fill="#0000f9"/><rect x="918" y="1107" width="2" height="15" fill="#0000f9"/><rect x="918" y="1090" width="2" height="8" fill="#0000f9"/><rect x="918" y="1062" width="2" height="28" fill="url(#sg8)"/><rect x="920" y="1098" width="2" height="9" fill="#004cff"/><rect x="920" y="1107" width="2" height="15" fill="#004cff"/><rect x="920" y="1090" width="2" height="8" fill="#0023ff"/><rect x="920" y="1057" width="2" height="33" fill="url(#sg12)"/><rect x="924" y="1098" width="1" height="9" fill="#007fff"/><rect x="924" y="1107" width="1" height="15" fill="#004cff"/><rect x="924" y="1090" width="1" height="8" fill="#0023ff"/><rect x="924" y="1083" width="1" height="7" fill="url(#sg12)"/><rect x="925" y="1098" width="2" height="9" fill="#0000f9"/><rect x="925" y="1107" width="2" height="15" fill="#0000d1"/><rect x="927" y="1098" width="1" height="9" fill="#0023ff"/><rect x="927" y="1107" width="1" height="15" fill="#0000f9"/><rect x="928" y="1098" width="1" height="9" fill="#007fff"/><rect x="928" y="1107" width="1" height="15" fill="#007fff"/><rect x="928" y="1090" width="1" height="8" fill="#004cff"/><rect x="928" y="1041" width="1" height="49" fill="url(#sg16)"/><rect x="929" y="1098" width="1" height="9" fill="#0023ff"/><rect x="929" y="1107" width="1" height="15" fill="#0000f9"/><rect x="929" y="1090" width="1" height="8" fill="#0000f9"/><rect x="929" y="1075" width="1" height="15" fill="url(#sg8)"/><rect x="930" y="1098" width="1" height="9" fill="#007fff"/><rect x="930" y="1107" width="1" height="15" fill="#007fff"/><rect x="930" y="1090" width="1" height="8" fill="#004cff"/><rect x="930" y="1048" width="1" height="42" fill="url(#sg16)"/><rect x="931" y="1098" width="2" height="9" fill="#0023ff"/><rect x="931" y="1107" width="2" height="15" fill="#0023ff"/><rect x="931" y="1090" width="2" height="8" fill="#0023ff"/><rect x="931" y="1057" width="2" height="33" fill="url(#sg12)"/><rect x="933" y="1098" width="1" height="9" fill="#00b2ff"/><rect x="933" y="1107" width="1" height="15" fill="#007fff"/><rect x="933" y="1090" width="1" height="8" fill="#004cff"/><rect x="933" y="1056" width="1" height="34" fill="url(#sg16)"/><rect x="934" y="1098" width="1" height="9" fill="#004cff"/><rect x="934" y="1107" width="1" height="15" fill="#004cff"/><rect x="934" y="1090" width="1" height="8" fill="#0023ff"/><rect x="934" y="1083" width="1" height="7" fill="url(#sg16)"/><rect x="935" y="1098" width="2" height="9" fill="#004cff"/><rect x="935" y="1107" width="2" height="15" fill="#004cff"/><rect x="935" y="1090" width="2" height="8" fill="#004cff"/><rect x="935" y="1062" width="2" height="28" fill="url(#sg16)"/><rect x="937" y="1098" width="1" height="9" fill="#0000f9"/><rect x="937" y="1107" width="1" height="15" fill="#0000f9"/><rect x="937" y="1090" width="1" height="8" fill="#0000d1"/><rect x="937" y="1078" width="1" height="12" fill="url(#sg8)"/><rect x="938" y="1098" width="2" height="9" fill="#00b2ff"/><rect x="938" y="1107" width="2" height="15" fill="#007fff"/><rect x="938" y="1090" width="2" height="8" fill="#007fff"/><rect x="938" y="1076" width="2" height="14" fill="url(#sg20)"/><rect x="940" y="1098" width="1" height="9" fill="#007fff"/><rect x="940" y="1107" width="1" height="15" fill="#004cff"/><rect x="940" y="1090" width="1" height="8" fill="#004cff"/><rect x="940" y="1071" width="1" height="19" fill="url(#sg16)"/><rect x="941" y="1098" width="1" height="9" fill="#004cff"/><rect x="941" y="1107" width="1" height="15" fill="#004cff"/><rect x="941" y="1090" width="1" height="8" fill="#0000f9"/><rect x="941" y="1064" width="1" height="26" fill="url(#sg12)"/><rect x="943" y="1098" width="2" height="9" fill="#0023ff"/><rect x="943" y="1107" width="2" height="15" fill="#0000f9"/><rect x="943" y="1090" width="2" height="8" fill="#0000f9"/><rect x="943" y="1083" width="2" height="7" fill="url(#sg12)"/><rect x="945" y="1098" width="2" height="9" fill="#0000f9"/><rect x="945" y="1107" width="2" height="15" fill="#0000d1"/><rect x="947" y="1098" width="1" height="9" fill="#004cff"/><rect x="947" y="1107" width="1" height="15" fill="#0023ff"/><rect x="947" y="1090" width="1" height="8" fill="#0023ff"/><rect x="947" y="1073" width="1" height="17" fill="url(#sg12)"/><rect x="949" y="1098" width="2" height="9" fill="#004cff"/><rect x="949" y="1107" width="2" height="15" fill="#004cff"/><rect x="949" y="1090" width="2" height="8" fill="#004cff"/><rect x="949" y="1058" width="2" height="32" fill="url(#sg16)"/><rect x="951" y="1098" width="2" height="9" fill="#0000f9"/><rect x="951" y="1107" width="2" height="15" fill="#0000f9"/><rect x="951" y="1090" width="2" height="8" fill="#0000f9"/><rect x="951" y="1064" width="2" height="26" fill="url(#sg8)"/><rect x="953" y="1098" width="1" height="9" fill="#0023ff"/><rect x="953" y="1107" width="1" height="15" fill="#0000f9"/><rect x="953" y="1090" width="1" height="8" fill="#0000d1"/><rect x="953" y="1066" width="1" height="24" fill="url(#sg8)"/><rect x="958" y="1098" width="2" height="9" fill="#0023ff"/><rect x="958" y="1107" width="2" height="15" fill="#0023ff"/><rect x="958" y="1090" width="2" height="8" fill="#0000f9"/><rect x="958" y="1077" width="2" height="13" fill="url(#sg8)"/><rect x="962" y="1098" width="2" height="9" fill="#00b2ff"/><rect x="962" y="1107" width="2" height="15" fill="#007fff"/><rect x="962" y="1090" width="2" height="8" fill="#0023ff"/><rect x="962" y="1067" width="2" height="23" fill="url(#sg12)"/><rect x="964" y="1098" width="2" height="9" fill="#004cff"/><rect x="964" y="1107" width="2" height="15" fill="#0023ff"/><rect x="964" y="1090" width="2" height="8" fill="#0000f9"/><rect x="966" y="1098" width="1" height="9" fill="#0000d1"/><rect x="966" y="1107" width="1" height="15" fill="#0000d1"/><rect x="969" y="1098" width="1" height="9" fill="#007fff"/><rect x="969" y="1107" width="1" height="15" fill="#007fff"/><rect x="969" y="1090" width="1" height="8" fill="#007fff"/><rect x="969" y="1077" width="1" height="13" fill="url(#sg20)"/><rect x="970" y="1098" width="1" height="9" fill="#00b2ff"/><rect x="970" y="1107" width="1" height="15" fill="#007fff"/><rect x="970" y="1090" width="1" height="8" fill="#007fff"/><rect x="970" y="1065" width="1" height="25" fill="url(#sg20)"/><rect x="971" y="1098" width="1" height="9" fill="#004cff"/><rect x="971" y="1107" width="1" height="15" fill="#0023ff"/><rect x="971" y="1090" width="1" height="8" fill="#0023ff"/><rect x="972" y="1098" width="2" height="9" fill="#0000f9"/><rect x="972" y="1107" width="2" height="15" fill="#0000f9"/><rect x="972" y="1090" width="2" height="8" fill="#0000d1"/><rect x="972" y="1072" width="2" height="18" fill="url(#sg8)"/><rect x="975" y="1098" width="1" height="9" fill="#0000d1"/><rect x="975" y="1107" width="1" height="15" fill="#0000d1"/><rect x="976" y="1098" width="2" height="9" fill="#007fff"/><rect x="976" y="1107" width="2" height="15" fill="#007fff"/><rect x="976" y="1090" width="2" height="8" fill="#004cff"/><rect x="976" y="1060" width="2" height="30" fill="url(#sg16)"/><rect x="978" y="1098" width="1" height="9" fill="#00b2ff"/><rect x="978" y="1107" width="1" height="15" fill="#007fff"/><rect x="978" y="1090" width="1" height="8" fill="#004cff"/><rect x="978" y="1048" width="1" height="42" fill="url(#sg16)"/><rect x="979" y="1098" width="2" height="9" fill="#007fff"/><rect x="979" y="1107" width="2" height="15" fill="#004cff"/><rect x="979" y="1090" width="2" height="8" fill="#004cff"/><rect x="979" y="1051" width="2" height="39" fill="url(#sg16)"/><rect x="981" y="1098" width="2" height="9" fill="#007fff"/><rect x="981" y="1107" width="2" height="15" fill="#004cff"/><rect x="981" y="1090" width="2" height="8" fill="#004cff"/><rect x="981" y="1066" width="2" height="24" fill="url(#sg16)"/><rect x="983" y="1098" width="2" height="9" fill="#0000f9"/><rect x="983" y="1107" width="2" height="15" fill="#0000d1"/><rect x="985" y="1098" width="1" height="9" fill="#0023ff"/><rect x="985" y="1107" width="1" height="15" fill="#0000f9"/><rect x="985" y="1090" width="1" height="8" fill="#0000f9"/><rect x="985" y="1079" width="1" height="11" fill="url(#sg12)"/><rect x="986" y="1098" width="2" height="9" fill="#007fff"/><rect x="986" y="1107" width="2" height="15" fill="#004cff"/><rect x="986" y="1090" width="2" height="8" fill="#004cff"/><rect x="986" y="1062" width="2" height="28" fill="url(#sg16)"/><rect x="988" y="1098" width="1" height="9" fill="#0023ff"/><rect x="988" y="1107" width="1" height="15" fill="#0023ff"/><rect x="988" y="1090" width="1" height="8" fill="#0000f9"/><rect x="988" y="1065" width="1" height="25" fill="url(#sg12)"/><rect x="989" y="1098" width="2" height="9" fill="#0023ff"/><rect x="989" y="1107" width="2" height="15" fill="#0000f9"/><rect x="989" y="1090" width="2" height="8" fill="#0000f9"/><rect x="989" y="1068" width="2" height="22" fill="url(#sg8)"/><rect x="993" y="1098" width="1" height="9" fill="#00b2ff"/><rect x="993" y="1107" width="1" height="15" fill="#007fff"/><rect x="993" y="1090" width="1" height="8" fill="#004cff"/><rect x="993" y="1042" width="1" height="48" fill="url(#sg16)"/><rect x="994" y="1098" width="2" height="9" fill="#00b2ff"/><rect x="994" y="1107" width="2" height="15" fill="#007fff"/><rect x="994" y="1090" width="2" height="8" fill="#007fff"/><rect x="994" y="1077" width="2" height="13" fill="url(#sg20)"/><rect x="996" y="1098" width="2" height="9" fill="#0000f9"/><rect x="996" y="1107" width="2" height="15" fill="#0000f9"/><rect x="996" y="1090" width="2" height="8" fill="#0000f9"/><rect x="996" y="1082" width="2" height="8" fill="url(#sg8)"/><rect x="998" y="1098" width="1" height="9" fill="#0000f9"/><rect x="998" y="1107" width="1" height="15" fill="#0000f9"/><rect x="998" y="1090" width="1" height="8" fill="#0000d1"/><rect x="999" y="1098" width="2" height="9" fill="#0023ff"/><rect x="999" y="1107" width="2" height="15" fill="#0023ff"/><rect x="999" y="1090" width="2" height="8" fill="#0023ff"/><rect x="999" y="1075" width="2" height="15" fill="url(#sg12)"/><rect x="1001" y="1098" width="1" height="9" fill="#007fff"/><rect x="1001" y="1107" width="1" height="15" fill="#004cff"/><rect x="1001" y="1090" width="1" height="8" fill="#0023ff"/><rect x="1001" y="1063" width="1" height="27" fill="url(#sg12)"/><rect x="1003" y="1098" width="1" height="9" fill="#0000f9"/><rect x="1003" y="1107" width="1" height="15" fill="#0000f9"/><rect x="1004" y="1098" width="2" height="9" fill="#0000f9"/><rect x="1004" y="1107" width="2" height="15" fill="#0000f9"/><rect x="1004" y="1090" width="2" height="8" fill="#0000f9"/><rect x="1004" y="1064" width="2" height="26" fill="url(#sg8)"/><rect x="1006" y="1098" width="1" height="9" fill="#00b2ff"/><rect x="1006" y="1107" width="1" height="15" fill="#007fff"/><rect x="1006" y="1090" width="1" height="8" fill="#004cff"/><rect x="1006" y="1042" width="1" height="48" fill="url(#sg16)"/><rect x="1007" y="1098" width="1" height="9" fill="#004cff"/><rect x="1007" y="1107" width="1" height="15" fill="#0023ff"/><rect x="1007" y="1090" width="1" height="8" fill="#0023ff"/><rect x="1007" y="1068" width="1" height="22" fill="url(#sg12)"/><rect x="1008" y="1098" width="2" height="9" fill="#007fff"/><rect x="1008" y="1107" width="2" height="15" fill="#004cff"/><rect x="1008" y="1090" width="2" height="8" fill="#0023ff"/><rect x="1008" y="1065" width="2" height="25" fill="url(#sg12)"/><rect x="1012" y="1098" width="2" height="9" fill="#0000f9"/><rect x="1012" y="1107" width="2" height="15" fill="#0000f9"/><rect x="1012" y="1090" width="2" height="8" fill="#0000d1"/><rect x="1012" y="1078" width="2" height="12" fill="url(#sg8)"/><rect x="1014" y="1098" width="2" height="9" fill="#0000f9"/><rect x="1014" y="1107" width="2" height="15" fill="#0000f9"/><rect x="1014" y="1090" width="2" height="8" fill="#0000f9"/><rect x="1014" y="1068" width="2" height="22" fill="url(#sg8)"/><rect x="1017" y="1098" width="2" height="9" fill="#0023ff"/><rect x="1017" y="1107" width="2" height="15" fill="#0000f9"/><rect x="1017" y="1090" width="2" height="8" fill="#0000d1"/><rect x="1017" y="1073" width="2" height="17" fill="url(#sg8)"/><rect x="1019" y="1098" width="2" height="9" fill="#0000f9"/><rect x="1019" y="1107" width="2" height="15" fill="#0000f9"/><rect x="1019" y="1090" width="2" height="8" fill="#0000f9"/><rect x="1019" y="1081" width="2" height="9" fill="url(#sg8)"/><rect x="1021" y="1098" width="1" height="9" fill="#004cff"/><rect x="1021" y="1107" width="1" height="15" fill="#0023ff"/><rect x="1021" y="1090" width="1" height="8" fill="#0023ff"/><rect x="1021" y="1082" width="1" height="8" fill="url(#sg12)"/><rect x="1022" y="1098" width="1" height="9" fill="#0000d1"/><rect x="1022" y="1107" width="1" height="15" fill="#0000d1"/><rect x="1024" y="1098" width="1" height="9" fill="#0023ff"/><rect x="1024" y="1107" width="1" height="15" fill="#0000f9"/><rect x="1024" y="1090" width="1" height="8" fill="#0000f9"/><rect x="1024" y="1076" width="1" height="14" fill="url(#sg8)"/><rect x="1028" y="1098" width="1" height="9" fill="#0023ff"/><rect x="1028" y="1107" width="1" height="15" fill="#0023ff"/><rect x="1028" y="1090" width="1" height="8" fill="#0023ff"/><rect x="1028" y="1078" width="1" height="12" fill="url(#sg12)"/><rect x="1029" y="1098" width="1" height="9" fill="#0000d1"/><rect x="1029" y="1107" width="1" height="15" fill="#0000d1"/><rect x="1030" y="1098" width="2" height="9" fill="#004cff"/><rect x="1030" y="1107" width="2" height="15" fill="#0023ff"/><rect x="1030" y="1090" width="2" height="8" fill="#0023ff"/><rect x="1030" y="1062" width="2" height="28" fill="url(#sg12)"/><rect x="1032" y="1098" width="2" height="9" fill="#0000f9"/><rect x="1032" y="1107" width="2" height="15" fill="#0000d1"/><rect x="1036" y="1098" width="2" height="9" fill="#0000f9"/><rect x="1036" y="1107" width="2" height="15" fill="#0000f9"/><rect x="1040" y="1098" width="2" height="9" fill="#0023ff"/><rect x="1040" y="1107" width="2" height="15" fill="#0023ff"/><rect x="1040" y="1090" width="2" height="8" fill="#0023ff"/><rect x="1040" y="1065" width="2" height="25" fill="url(#sg12)"/><rect x="1042" y="1098" width="1" height="9" fill="#004cff"/><rect x="1042" y="1107" width="1" height="15" fill="#0023ff"/><rect x="1042" y="1090" width="1" height="8" fill="#0023ff"/><rect x="1042" y="1072" width="1" height="18" fill="url(#sg12)"/><rect x="1043" y="1098" width="1" height="9" fill="#19ffe5"/><rect x="1043" y="1107" width="1" height="15" fill="#00b2ff"/><rect x="1043" y="1090" width="1" height="8" fill="#00e5ff"/><rect x="1043" y="1012" width="1" height="78" fill="url(#sg30)"/><rect x="1044" y="1098" width="2" height="9" fill="#00b2ff"/><rect x="1044" y="1107" width="2" height="15" fill="#007fff"/><rect x="1044" y="1090" width="2" height="8" fill="#004cff"/><rect x="1044" y="1071" width="2" height="19" fill="url(#sg16)"/><rect x="1046" y="1098" width="1" height="9" fill="#4cffb2"/><rect x="1046" y="1107" width="1" height="15" fill="#19ffe5"/><rect x="1046" y="1090" width="1" height="8" fill="#00b2ff"/><rect x="1046" y="1058" width="1" height="32" fill="url(#sg25)"/><rect x="1047" y="1098" width="1" height="9" fill="#007fff"/><rect x="1047" y="1107" width="1" height="15" fill="#007fff"/><rect x="1047" y="1090" width="1" height="8" fill="#004cff"/><rect x="1047" y="1076" width="1" height="14" fill="url(#sg16)"/><rect x="1048" y="1098" width="2" height="9" fill="#19ffe5"/><rect x="1048" y="1107" width="2" height="15" fill="#00e5ff"/><rect x="1048" y="1090" width="2" height="8" fill="#00e5ff"/><rect x="1048" y="1036" width="2" height="54" fill="url(#sg30)"/><rect x="1050" y="1098" width="1" height="9" fill="#19ffe5"/><rect x="1050" y="1107" width="1" height="15" fill="#00e5ff"/><rect x="1050" y="1090" width="1" height="8" fill="#007fff"/><rect x="1050" y="1080" width="1" height="10" fill="url(#sg20)"/><rect x="1051" y="1098" width="1" height="9" fill="#00e5ff"/><rect x="1051" y="1107" width="1" height="15" fill="#00b2ff"/><rect x="1051" y="1090" width="1" height="8" fill="#00b2ff"/><rect x="1051" y="1039" width="1" height="51" fill="url(#sg25)"/><rect x="1052" y="1098" width="2" height="9" fill="#0023ff"/><rect x="1052" y="1107" width="2" height="15" fill="#0023ff"/><rect x="1052" y="1090" width="2" height="8" fill="#0023ff"/><rect x="1052" y="1082" width="2" height="8" fill="url(#sg12)"/><rect x="1054" y="1098" width="1" height="9" fill="#19ffe5"/><rect x="1054" y="1107" width="1" height="15" fill="#00e5ff"/><rect x="1054" y="1090" width="1" height="8" fill="#007fff"/><rect x="1054" y="1053" width="1" height="37" fill="url(#sg20)"/><rect x="1055" y="1098" width="1" height="9" fill="#19ffe5"/><rect x="1055" y="1107" width="1" height="15" fill="#00e5ff"/><rect x="1055" y="1090" width="1" height="8" fill="#007fff"/><rect x="1055" y="1070" width="1" height="20" fill="url(#sg20)"/><rect x="1056" y="1098" width="2" height="9" fill="#00b2ff"/><rect x="1056" y="1107" width="2" height="15" fill="#007fff"/><rect x="1056" y="1090" width="2" height="8" fill="#007fff"/><rect x="1056" y="1067" width="2" height="23" fill="url(#sg20)"/><rect x="1058" y="1098" width="2" height="9" fill="#00e5ff"/><rect x="1058" y="1107" width="2" height="15" fill="#00b2ff"/><rect x="1058" y="1090" width="2" height="8" fill="#00b2ff"/><rect x="1058" y="1039" width="2" height="51" fill="url(#sg25)"/><rect x="1060" y="1098" width="2" height="9" fill="#4cffb2"/><rect x="1060" y="1107" width="2" height="15" fill="#19ffe5"/><rect x="1060" y="1090" width="2" height="8" fill="#19ffe5"/><rect x="1060" y="1023" width="2" height="67" fill="url(#sg30)"/><rect x="1062" y="1098" width="2" height="9" fill="#19ffe5"/><rect x="1062" y="1107" width="2" height="15" fill="#00e5ff"/><rect x="1062" y="1090" width="2" height="8" fill="#19ffe5"/><rect x="1062" y="1005" width="2" height="85" fill="url(#sg30)"/><rect x="1064" y="1098" width="2" height="9" fill="#00b2ff"/><rect x="1064" y="1107" width="2" height="15" fill="#007fff"/><rect x="1064" y="1090" width="2" height="8" fill="#00b2ff"/><rect x="1064" y="1057" width="2" height="33" fill="url(#sg20)"/><rect x="1066" y="1098" width="1" height="9" fill="#004cff"/><rect x="1066" y="1107" width="1" height="15" fill="#0023ff"/><rect x="1066" y="1090" width="1" height="8" fill="#004cff"/><rect x="1066" y="1070" width="1" height="20" fill="url(#sg16)"/><rect x="1067" y="1098" width="1" height="9" fill="#004cff"/><rect x="1067" y="1107" width="1" height="15" fill="#004cff"/><rect x="1067" y="1090" width="1" height="8" fill="#0023ff"/><rect x="1067" y="1057" width="1" height="33" fill="url(#sg12)"/><rect x="1068" y="1098" width="1" height="9" fill="#0000f9"/><rect x="1068" y="1107" width="1" height="15" fill="#0000f9"/><rect x="1068" y="1090" width="1" height="8" fill="#0000f9"/><rect x="1068" y="1071" width="1" height="19" fill="url(#sg8)"/><rect x="1069" y="1098" width="1" height="9" fill="#0023ff"/><rect x="1069" y="1107" width="1" height="15" fill="#0023ff"/><rect x="1069" y="1090" width="1" height="8" fill="#0000f9"/><rect x="1069" y="1062" width="1" height="28" fill="url(#sg12)"/><rect x="1070" y="1098" width="1" height="9" fill="#0000f9"/><rect x="1070" y="1107" width="1" height="15" fill="#0000d1"/><rect x="1071" y="1098" width="1" height="9" fill="#4cffb2"/><rect x="1071" y="1107" width="1" height="15" fill="#19ffe5"/><rect x="1071" y="1090" width="1" height="8" fill="#00b2ff"/><rect x="1071" y="1069" width="1" height="21" fill="url(#sg25)"/><rect x="1072" y="1098" width="1" height="9" fill="#007fff"/><rect x="1072" y="1107" width="1" height="15" fill="#004cff"/><rect x="1072" y="1090" width="1" height="8" fill="#0023ff"/><rect x="1072" y="1066" width="1" height="24" fill="url(#sg12)"/><rect x="1073" y="1098" width="2" height="9" fill="#00e5ff"/><rect x="1073" y="1107" width="2" height="15" fill="#00b2ff"/><rect x="1073" y="1090" width="2" height="8" fill="#00e5ff"/><rect x="1073" y="1019" width="2" height="71" fill="url(#sg25)"/><rect x="1075" y="1098" width="1" height="9" fill="#19ffe5"/><rect x="1075" y="1107" width="1" height="15" fill="#00e5ff"/><rect x="1075" y="1090" width="1" height="8" fill="#00b2ff"/><rect x="1075" y="1067" width="1" height="23" fill="url(#sg25)"/><rect x="1076" y="1098" width="1" height="9" fill="#bcff42"/><rect x="1076" y="1107" width="1" height="15" fill="#4cffb2"/><rect x="1076" y="1090" width="1" height="8" fill="#19ffe5"/><rect x="1076" y="1036" width="1" height="54" fill="url(#sg30)"/><rect x="1077" y="1098" width="1" height="9" fill="#00b2ff"/><rect x="1077" y="1107" width="1" height="15" fill="#007fff"/><rect x="1077" y="1090" width="1" height="8" fill="#007fff"/><rect x="1077" y="1071" width="1" height="19" fill="url(#sg20)"/><rect x="1078" y="1098" width="1" height="9" fill="#00e5ff"/><rect x="1078" y="1107" width="1" height="15" fill="#00b2ff"/><rect x="1078" y="1090" width="1" height="8" fill="#00b2ff"/><rect x="1078" y="1035" width="1" height="55" fill="url(#sg25)"/><rect x="1079" y="1098" width="2" height="9" fill="#0000f9"/><rect x="1079" y="1107" width="2" height="15" fill="#0000d1"/><rect x="1081" y="1098" width="1" height="9" fill="#7fff7f"/><rect x="1081" y="1107" width="1" height="15" fill="#4cffb2"/><rect x="1081" y="1090" width="1" height="8" fill="#19ffe5"/><rect x="1081" y="993" width="1" height="97" fill="url(#sg35)"/><rect x="1082" y="1098" width="1" height="9" fill="#004cff"/><rect x="1082" y="1107" width="1" height="15" fill="#0023ff"/><rect x="1082" y="1090" width="1" height="8" fill="#0023ff"/><rect x="1083" y="1098" width="2" height="9" fill="#7fff7f"/><rect x="1083" y="1107" width="2" height="15" fill="#4cffb2"/><rect x="1083" y="1090" width="2" height="8" fill="#00b2ff"/><rect x="1083" y="1064" width="2" height="26" fill="url(#sg25)"/><rect x="1085" y="1098" width="2" height="9" fill="#004cff"/><rect x="1085" y="1107" width="2" height="15" fill="#0023ff"/><rect x="1085" y="1090" width="2" height="8" fill="#0023ff"/><rect x="1085" y="1055" width="2" height="35" fill="url(#sg12)"/><rect x="1087" y="1098" width="2" height="9" fill="#7fff7f"/><rect x="1087" y="1107" width="2" height="15" fill="#4cffb2"/><rect x="1087" y="1090" width="2" height="8" fill="#4cffb2"/><rect x="1087" y="1038" width="2" height="52" fill="url(#sg35)"/><rect x="1089" y="1098" width="2" height="9" fill="#004cff"/><rect x="1089" y="1107" width="2" height="15" fill="#0023ff"/><rect x="1089" y="1090" width="2" height="8" fill="#0000f9"/><rect x="1089" y="1071" width="2" height="19" fill="url(#sg12)"/><rect x="1091" y="1098" width="1" height="9" fill="#007fff"/><rect x="1091" y="1107" width="1" height="15" fill="#004cff"/><rect x="1091" y="1090" width="1" height="8" fill="#0023ff"/><rect x="1091" y="1074" width="1" height="16" fill="url(#sg12)"/><rect x="1092" y="1098" width="1" height="9" fill="#00b2ff"/><rect x="1092" y="1107" width="1" height="15" fill="#007fff"/><rect x="1092" y="1090" width="1" height="8" fill="#007fff"/><rect x="1092" y="1064" width="1" height="26" fill="url(#sg20)"/><rect x="1093" y="1098" width="2" height="9" fill="#004cff"/><rect x="1093" y="1107" width="2" height="15" fill="#004cff"/><rect x="1093" y="1090" width="2" height="8" fill="#0023ff"/><rect x="1093" y="1054" width="2" height="36" fill="url(#sg12)"/><rect x="1095" y="1098" width="2" height="9" fill="#004cff"/><rect x="1095" y="1107" width="2" height="15" fill="#004cff"/><rect x="1095" y="1090" width="2" height="8" fill="#0023ff"/><rect x="1095" y="1063" width="2" height="27" fill="url(#sg12)"/><rect x="1097" y="1098" width="1" height="9" fill="#19ffe5"/><rect x="1097" y="1107" width="1" height="15" fill="#00e5ff"/><rect x="1097" y="1090" width="1" height="8" fill="#004cff"/><rect x="1097" y="1039" width="1" height="51" fill="url(#sg16)"/><rect x="1098" y="1098" width="2" height="9" fill="#007fff"/><rect x="1098" y="1107" width="2" height="15" fill="#004cff"/><rect x="1098" y="1090" width="2" height="8" fill="#0023ff"/><rect x="1098" y="1071" width="2" height="19" fill="url(#sg12)"/><rect x="1100" y="1098" width="1" height="9" fill="#00b2ff"/><rect x="1100" y="1107" width="1" height="15" fill="#007fff"/><rect x="1100" y="1090" width="1" height="8" fill="#004cff"/><rect x="1100" y="1055" width="1" height="35" fill="url(#sg16)"/><rect x="1101" y="1098" width="1" height="9" fill="#007fff"/><rect x="1101" y="1107" width="1" height="15" fill="#004cff"/><rect x="1101" y="1090" width="1" height="8" fill="#0023ff"/><rect x="1101" y="1051" width="1" height="39" fill="url(#sg12)"/><rect x="1102" y="1098" width="2" height="9" fill="#4cffb2"/><rect x="1102" y="1107" width="2" height="15" fill="#19ffe5"/><rect x="1102" y="1090" width="2" height="8" fill="#19ffe5"/><rect x="1102" y="1069" width="2" height="21" fill="url(#sg30)"/><rect x="1104" y="1098" width="1" height="9" fill="#004cff"/><rect x="1104" y="1107" width="1" height="15" fill="#0023ff"/><rect x="1104" y="1090" width="1" height="8" fill="#0023ff"/><rect x="1104" y="1077" width="1" height="13" fill="url(#sg12)"/><rect x="1105" y="1098" width="1" height="9" fill="#7fff7f"/><rect x="1105" y="1107" width="1" height="15" fill="#4cffb2"/><rect x="1105" y="1090" width="1" height="8" fill="#00b2ff"/><rect x="1105" y="1066" width="1" height="24" fill="url(#sg25)"/><rect x="1106" y="1098" width="1" height="9" fill="#004cff"/><rect x="1106" y="1107" width="1" height="15" fill="#004cff"/><rect x="1106" y="1090" width="1" height="8" fill="#0000f9"/><rect x="1106" y="1062" width="1" height="28" fill="url(#sg12)"/><rect x="1107" y="1098" width="1" height="9" fill="#19ffe5"/><rect x="1107" y="1107" width="1" height="15" fill="#00b2ff"/><rect x="1107" y="1090" width="1" height="8" fill="#00b2ff"/><rect x="1107" y="1026" width="1" height="64" fill="url(#sg25)"/><rect x="1108" y="1098" width="1" height="9" fill="#00b2ff"/><rect x="1108" y="1107" width="1" height="15" fill="#007fff"/><rect x="1108" y="1090" width="1" height="8" fill="#0023ff"/><rect x="1108" y="1070" width="1" height="20" fill="url(#sg12)"/><rect x="1109" y="1098" width="2" height="9" fill="#bcff42"/><rect x="1109" y="1107" width="2" height="15" fill="#7fff7f"/><rect x="1109" y="1090" width="2" height="8" fill="#4cffb2"/><rect x="1109" y="1018" width="2" height="72" fill="url(#sg35)"/><rect x="1111" y="1098" width="1" height="9" fill="#00b2ff"/><rect x="1111" y="1107" width="1" height="15" fill="#007fff"/><rect x="1111" y="1090" width="1" height="8" fill="#007fff"/><rect x="1111" y="1076" width="1" height="14" fill="url(#sg20)"/><rect x="1112" y="1098" width="1" height="9" fill="#007fff"/><rect x="1112" y="1107" width="1" height="15" fill="#004cff"/><rect x="1112" y="1090" width="1" height="8" fill="#007fff"/><rect x="1112" y="1054" width="1" height="36" fill="url(#sg20)"/><rect x="1113" y="1098" width="1" height="9" fill="#00e5ff"/><rect x="1113" y="1107" width="1" height="15" fill="#00b2ff"/><rect x="1113" y="1090" width="1" height="8" fill="#007fff"/><rect x="1113" y="1063" width="1" height="27" fill="url(#sg20)"/><rect x="1114" y="1098" width="1" height="9" fill="#0023ff"/><rect x="1114" y="1107" width="1" height="15" fill="#0000f9"/><rect x="1114" y="1090" width="1" height="8" fill="#0023ff"/><rect x="1114" y="1069" width="1" height="21" fill="url(#sg12)"/><rect x="1115" y="1098" width="2" height="9" fill="#0023ff"/><rect x="1115" y="1107" width="2" height="15" fill="#0023ff"/><rect x="1115" y="1090" width="2" height="8" fill="#0023ff"/><rect x="1115" y="1064" width="2" height="26" fill="url(#sg12)"/><rect x="1118" y="1098" width="2" height="9" fill="#00b2ff"/><rect x="1118" y="1107" width="2" height="15" fill="#007fff"/><rect x="1118" y="1090" width="2" height="8" fill="#00b2ff"/><rect x="1118" y="1060" width="2" height="30" fill="url(#sg25)"/><rect x="1120" y="1098" width="1" height="9" fill="#0023ff"/><rect x="1120" y="1107" width="1" height="15" fill="#0000f9"/><rect x="1120" y="1090" width="1" height="8" fill="#0000d1"/><rect x="1120" y="1070" width="1" height="20" fill="url(#sg8)"/><rect x="1121" y="1098" width="1" height="9" fill="#007fff"/><rect x="1121" y="1107" width="1" height="15" fill="#007fff"/><rect x="1121" y="1090" width="1" height="8" fill="#0023ff"/><rect x="1121" y="1051" width="1" height="39" fill="url(#sg16)"/><rect x="1122" y="1098" width="2" height="9" fill="#00e5ff"/><rect x="1122" y="1107" width="2" height="15" fill="#00b2ff"/><rect x="1122" y="1090" width="2" height="8" fill="#004cff"/><rect x="1122" y="1049" width="2" height="41" fill="url(#sg16)"/><rect x="1124" y="1098" width="1" height="9" fill="#004cff"/><rect x="1124" y="1107" width="1" height="15" fill="#0023ff"/><rect x="1124" y="1090" width="1" height="8" fill="#0023ff"/><rect x="1124" y="1061" width="1" height="29" fill="url(#sg12)"/><rect x="1125" y="1098" width="1" height="9" fill="#0000f9"/><rect x="1125" y="1107" width="1" height="15" fill="#0000f9"/><rect x="1126" y="1098" width="1" height="9" fill="#19ffe5"/><rect x="1126" y="1107" width="1" height="15" fill="#00e5ff"/><rect x="1126" y="1090" width="1" height="8" fill="#00b2ff"/><rect x="1126" y="1060" width="1" height="30" fill="url(#sg25)"/><rect x="1127" y="1098" width="2" height="9" fill="#00b2ff"/><rect x="1127" y="1107" width="2" height="15" fill="#007fff"/><rect x="1127" y="1090" width="2" height="8" fill="#007fff"/><rect x="1127" y="1041" width="2" height="49" fill="url(#sg20)"/><rect x="1129" y="1098" width="1" height="9" fill="#0023ff"/><rect x="1129" y="1107" width="1" height="15" fill="#0023ff"/><rect x="1129" y="1090" width="1" height="8" fill="#0000f9"/><rect x="1129" y="1078" width="1" height="12" fill="url(#sg8)"/><rect x="1130" y="1098" width="2" height="9" fill="#0023ff"/><rect x="1130" y="1107" width="2" height="15" fill="#0000f9"/><rect x="1130" y="1090" width="2" height="8" fill="#0000f9"/><rect x="1130" y="1074" width="2" height="16" fill="url(#sg8)"/><rect x="1132" y="1098" width="1" height="9" fill="#0023ff"/><rect x="1132" y="1107" width="1" height="15" fill="#0000f9"/><rect x="1132" y="1090" width="1" height="8" fill="#0000f9"/><rect x="1132" y="1082" width="1" height="8" fill="url(#sg8)"/><rect x="1133" y="1098" width="2" height="9" fill="#00b2ff"/><rect x="1133" y="1107" width="2" height="15" fill="#007fff"/><rect x="1133" y="1090" width="2" height="8" fill="#004cff"/><rect x="1133" y="1058" width="2" height="32" fill="url(#sg16)"/><rect x="1135" y="1098" width="2" height="9" fill="#00b2ff"/><rect x="1135" y="1107" width="2" height="15" fill="#00b2ff"/><rect x="1135" y="1090" width="2" height="8" fill="#007fff"/><rect x="1135" y="1033" width="2" height="57" fill="url(#sg20)"/><rect x="1137" y="1098" width="2" height="9" fill="#00e5ff"/><rect x="1137" y="1107" width="2" height="15" fill="#00b2ff"/><rect x="1137" y="1090" width="2" height="8" fill="#007fff"/><rect x="1137" y="1052" width="2" height="38" fill="url(#sg20)"/><rect x="1139" y="1098" width="2" height="9" fill="#007fff"/><rect x="1139" y="1107" width="2" height="15" fill="#004cff"/><rect x="1139" y="1090" width="2" height="8" fill="#004cff"/><rect x="1139" y="1049" width="2" height="41" fill="url(#sg16)"/><rect x="1141" y="1098" width="1" height="9" fill="#0000f9"/><rect x="1141" y="1107" width="1" height="15" fill="#0000f9"/><rect x="1141" y="1090" width="1" height="8" fill="#0000f9"/><rect x="1141" y="1068" width="1" height="22" fill="url(#sg8)"/><rect x="1142" y="1098" width="2" height="9" fill="#00b2ff"/><rect x="1142" y="1107" width="2" height="15" fill="#007fff"/><rect x="1142" y="1090" width="2" height="8" fill="#007fff"/><rect x="1142" y="1077" width="2" height="13" fill="url(#sg20)"/><rect x="1144" y="1098" width="1" height="9" fill="#007fff"/><rect x="1144" y="1107" width="1" height="15" fill="#004cff"/><rect x="1144" y="1090" width="1" height="8" fill="#0023ff"/><rect x="1144" y="1082" width="1" height="8" fill="url(#sg12)"/><rect x="1145" y="1098" width="2" height="9" fill="#0000f9"/><rect x="1145" y="1107" width="2" height="15" fill="#0000f9"/><rect x="1147" y="1098" width="1" height="9" fill="#0000d1"/><rect x="1147" y="1107" width="1" height="15" fill="#0000d1"/><rect x="1148" y="1098" width="2" height="9" fill="#00b2ff"/><rect x="1148" y="1107" width="2" height="15" fill="#007fff"/><rect x="1148" y="1090" width="2" height="8" fill="#004cff"/><rect x="1148" y="1048" width="2" height="42" fill="url(#sg16)"/><rect x="1150" y="1098" width="1" height="9" fill="#00b2ff"/><rect x="1150" y="1107" width="1" height="15" fill="#007fff"/><rect x="1150" y="1090" width="1" height="8" fill="#007fff"/><rect x="1150" y="1075" width="1" height="15" fill="url(#sg20)"/><rect x="1151" y="1098" width="2" height="9" fill="#0000f9"/><rect x="1151" y="1107" width="2" height="15" fill="#0000f9"/><rect x="1151" y="1090" width="2" height="8" fill="#0000f9"/><rect x="1153" y="1098" width="1" height="9" fill="#004cff"/><rect x="1153" y="1107" width="1" height="15" fill="#0023ff"/><rect x="1153" y="1090" width="1" height="8" fill="#0000f9"/><rect x="1153" y="1067" width="1" height="23" fill="url(#sg8)"/><rect x="1154" y="1098" width="2" height="9" fill="#004cff"/><rect x="1154" y="1107" width="2" height="15" fill="#0023ff"/><rect x="1154" y="1090" width="2" height="8" fill="#0023ff"/><rect x="1154" y="1083" width="2" height="7" fill="url(#sg12)"/><rect x="1156" y="1098" width="1" height="9" fill="#00e5ff"/><rect x="1156" y="1107" width="1" height="15" fill="#00b2ff"/><rect x="1156" y="1090" width="1" height="8" fill="#007fff"/><rect x="1156" y="1034" width="1" height="56" fill="url(#sg20)"/><rect x="1157" y="1098" width="2" height="9" fill="#0000f9"/><rect x="1157" y="1107" width="2" height="15" fill="#0000d1"/><rect x="1159" y="1098" width="2" height="9" fill="#0023ff"/><rect x="1159" y="1107" width="2" height="15" fill="#0023ff"/><rect x="1159" y="1090" width="2" height="8" fill="#0023ff"/><rect x="1159" y="1074" width="2" height="16" fill="url(#sg12)"/><rect x="1161" y="1098" width="1" height="9" fill="#0023ff"/><rect x="1161" y="1107" width="1" height="15" fill="#0000f9"/><rect x="1161" y="1090" width="1" height="8" fill="#0023ff"/><rect x="1161" y="1079" width="1" height="11" fill="url(#sg12)"/><rect x="1162" y="1098" width="2" height="9" fill="#0023ff"/><rect x="1162" y="1107" width="2" height="15" fill="#0000f9"/><rect x="1164" y="1098" width="1" height="9" fill="#00b2ff"/><rect x="1164" y="1107" width="1" height="15" fill="#007fff"/><rect x="1164" y="1090" width="1" height="8" fill="#007fff"/><rect x="1164" y="1035" width="1" height="55" fill="url(#sg20)"/><rect x="1165" y="1098" width="2" height="9" fill="#0023ff"/><rect x="1165" y="1107" width="2" height="15" fill="#0000f9"/><rect x="1165" y="1090" width="2" height="8" fill="#0000f9"/><rect x="1165" y="1073" width="2" height="17" fill="url(#sg12)"/><rect x="1167" y="1098" width="1" height="9" fill="#0023ff"/><rect x="1167" y="1107" width="1" height="15" fill="#0000f9"/><rect x="1167" y="1090" width="1" height="8" fill="#0000f9"/><rect x="1167" y="1080" width="1" height="10" fill="url(#sg12)"/><rect x="1168" y="1098" width="1" height="9" fill="#0023ff"/><rect x="1168" y="1107" width="1" height="15" fill="#0023ff"/><rect x="1168" y="1090" width="1" height="8" fill="#0023ff"/><rect x="1168" y="1074" width="1" height="16" fill="url(#sg12)"/><rect x="1169" y="1098" width="2" height="9" fill="#00e5ff"/><rect x="1169" y="1107" width="2" height="15" fill="#00b2ff"/><rect x="1169" y="1090" width="2" height="8" fill="#004cff"/><rect x="1169" y="1070" width="2" height="20" fill="url(#sg16)"/><rect x="1171" y="1098" width="2" height="9" fill="#00b2ff"/><rect x="1171" y="1107" width="2" height="15" fill="#007fff"/><rect x="1171" y="1090" width="2" height="8" fill="#004cff"/><rect x="1171" y="1078" width="2" height="12" fill="url(#sg16)"/><rect x="1173" y="1098" width="2" height="9" fill="#004cff"/><rect x="1173" y="1107" width="2" height="15" fill="#004cff"/><rect x="1173" y="1090" width="2" height="8" fill="#0023ff"/><rect x="1173" y="1082" width="2" height="8" fill="url(#sg12)"/><rect x="1175" y="1098" width="2" height="9" fill="#0023ff"/><rect x="1175" y="1107" width="2" height="15" fill="#0023ff"/><rect x="1175" y="1090" width="2" height="8" fill="#0023ff"/><rect x="1175" y="1082" width="2" height="8" fill="url(#sg12)"/><rect x="1177" y="1098" width="1" height="9" fill="#0023ff"/><rect x="1177" y="1107" width="1" height="15" fill="#0000f9"/><rect x="1177" y="1090" width="1" height="8" fill="#0000d1"/><rect x="1177" y="1075" width="1" height="15" fill="url(#sg8)"/><rect x="1178" y="1098" width="1" height="9" fill="#00e5ff"/><rect x="1178" y="1107" width="1" height="15" fill="#00b2ff"/><rect x="1178" y="1090" width="1" height="8" fill="#004cff"/><rect x="1178" y="1066" width="1" height="24" fill="url(#sg16)"/><rect x="1179" y="1098" width="2" height="9" fill="#004cff"/><rect x="1179" y="1107" width="2" height="15" fill="#0023ff"/><rect x="1179" y="1090" width="2" height="8" fill="#0023ff"/><rect x="1179" y="1079" width="2" height="11" fill="url(#sg12)"/><rect x="1181" y="1098" width="2" height="9" fill="#007fff"/><rect x="1181" y="1107" width="2" height="15" fill="#007fff"/><rect x="1181" y="1090" width="2" height="8" fill="#004cff"/><rect x="1181" y="1048" width="2" height="42" fill="url(#sg16)"/><rect x="1183" y="1098" width="1" height="9" fill="#007fff"/><rect x="1183" y="1107" width="1" height="15" fill="#004cff"/><rect x="1183" y="1090" width="1" height="8" fill="#004cff"/><rect x="1183" y="1063" width="1" height="27" fill="url(#sg16)"/><rect x="1184" y="1098" width="2" height="9" fill="#0023ff"/><rect x="1184" y="1107" width="2" height="15" fill="#0000f9"/><rect x="1184" y="1090" width="2" height="8" fill="#0000d1"/><rect x="1184" y="1075" width="2" height="15" fill="url(#sg8)"/><rect x="1186" y="1098" width="1" height="9" fill="#004cff"/><rect x="1186" y="1107" width="1" height="15" fill="#004cff"/><rect x="1186" y="1090" width="1" height="8" fill="#004cff"/><rect x="1186" y="1053" width="1" height="37" fill="url(#sg16)"/><rect x="1187" y="1098" width="1" height="9" fill="#0000f9"/><rect x="1187" y="1107" width="1" height="15" fill="#0000d1"/><rect x="1187" y="1090" width="1" height="8" fill="#0000d1"/><rect x="1187" y="1077" width="1" height="13" fill="url(#sg8)"/><rect x="1188" y="1098" width="1" height="9" fill="#007fff"/><rect x="1188" y="1107" width="1" height="15" fill="#004cff"/><rect x="1188" y="1090" width="1" height="8" fill="#004cff"/><rect x="1188" y="1048" width="1" height="42" fill="url(#sg16)"/><rect x="1190" y="1098" width="1" height="9" fill="#004cff"/><rect x="1190" y="1107" width="1" height="15" fill="#004cff"/><rect x="1190" y="1090" width="1" height="8" fill="#0023ff"/><rect x="1190" y="1062" width="1" height="28" fill="url(#sg12)"/><rect x="1191" y="1098" width="1" height="9" fill="#00e5ff"/><rect x="1191" y="1107" width="1" height="15" fill="#00b2ff"/><rect x="1191" y="1090" width="1" height="8" fill="#007fff"/><rect x="1191" y="1040" width="1" height="50" fill="url(#sg20)"/><rect x="1192" y="1098" width="1" height="9" fill="#0023ff"/><rect x="1192" y="1107" width="1" height="15" fill="#0000f9"/><rect x="1193" y="1098" width="1" height="9" fill="#007fff"/><rect x="1193" y="1107" width="1" height="15" fill="#004cff"/><rect x="1193" y="1090" width="1" height="8" fill="#0023ff"/><rect x="1193" y="1063" width="1" height="27" fill="url(#sg12)"/><rect x="1194" y="1098" width="1" height="9" fill="#0023ff"/><rect x="1194" y="1107" width="1" height="15" fill="#0000f9"/><rect x="1194" y="1090" width="1" height="8" fill="#0000f9"/><rect x="1194" y="1083" width="1" height="7" fill="url(#sg8)"/><rect x="1195" y="1098" width="2" height="9" fill="#00b2ff"/><rect x="1195" y="1107" width="2" height="15" fill="#007fff"/><rect x="1195" y="1090" width="2" height="8" fill="#004cff"/><rect x="1195" y="1068" width="2" height="22" fill="url(#sg16)"/><rect x="1197" y="1098" width="1" height="9" fill="#0023ff"/><rect x="1197" y="1107" width="1" height="15" fill="#0000f9"/><rect x="1197" y="1090" width="1" height="8" fill="#0000d1"/><rect x="1197" y="1077" width="1" height="13" fill="url(#sg8)"/><rect x="1198" y="1098" width="2" height="9" fill="#0023ff"/><rect x="1198" y="1107" width="2" height="15" fill="#0023ff"/><rect x="1198" y="1090" width="2" height="8" fill="#0000f9"/><rect x="1198" y="1066" width="2" height="24" fill="url(#sg12)"/><rect x="1200" y="1098" width="1" height="9" fill="#0023ff"/><rect x="1200" y="1107" width="1" height="15" fill="#0023ff"/><rect x="1200" y="1090" width="1" height="8" fill="#0000f9"/><rect x="1200" y="1078" width="1" height="12" fill="url(#sg8)"/><rect x="1201" y="1098" width="1" height="9" fill="#0000f9"/><rect x="1201" y="1107" width="1" height="15" fill="#0000d1"/><rect x="1202" y="1098" width="2" height="9" fill="#00b2ff"/><rect x="1202" y="1107" width="2" height="15" fill="#007fff"/><rect x="1202" y="1090" width="2" height="8" fill="#004cff"/><rect x="1202" y="1073" width="2" height="17" fill="url(#sg16)"/><rect x="1204" y="1098" width="2" height="9" fill="#0023ff"/><rect x="1204" y="1107" width="2" height="15" fill="#0023ff"/><rect x="1204" y="1090" width="2" height="8" fill="#0023ff"/><rect x="1204" y="1073" width="2" height="17" fill="url(#sg12)"/><rect x="1206" y="1098" width="1" height="9" fill="#00e5ff"/><rect x="1206" y="1107" width="1" height="15" fill="#00b2ff"/><rect x="1206" y="1090" width="1" height="8" fill="#004cff"/><rect x="1206" y="1067" width="1" height="23" fill="url(#sg16)"/><rect x="1207" y="1098" width="2" height="9" fill="#0000f9"/><rect x="1207" y="1107" width="2" height="15" fill="#0000f9"/><rect x="1207" y="1090" width="2" height="8" fill="#0000f9"/><rect x="1207" y="1069" width="2" height="21" fill="url(#sg8)"/><rect x="1209" y="1098" width="2" height="9" fill="#00e5ff"/><rect x="1209" y="1107" width="2" height="15" fill="#00b2ff"/><rect x="1209" y="1090" width="2" height="8" fill="#007fff"/><rect x="1209" y="1042" width="2" height="48" fill="url(#sg20)"/><rect x="1211" y="1098" width="1" height="9" fill="#0023ff"/><rect x="1211" y="1107" width="1" height="15" fill="#0000f9"/><rect x="1211" y="1090" width="1" height="8" fill="#0000f9"/><rect x="1211" y="1082" width="1" height="8" fill="url(#sg8)"/><rect x="1213" y="1098" width="1" height="9" fill="#007fff"/><rect x="1213" y="1107" width="1" height="15" fill="#004cff"/><rect x="1213" y="1090" width="1" height="8" fill="#0023ff"/><rect x="1213" y="1051" width="1" height="39" fill="url(#sg12)"/><rect x="1214" y="1098" width="2" height="9" fill="#0023ff"/><rect x="1214" y="1107" width="2" height="15" fill="#0000f9"/><rect x="1214" y="1090" width="2" height="8" fill="#0000f9"/><rect x="1216" y="1098" width="2" height="9" fill="#004cff"/><rect x="1216" y="1107" width="2" height="15" fill="#004cff"/><rect x="1216" y="1090" width="2" height="8" fill="#0000f9"/><rect x="1216" y="1081" width="2" height="9" fill="url(#sg8)"/><rect x="1218" y="1098" width="1" height="9" fill="#004cff"/><rect x="1218" y="1107" width="1" height="15" fill="#004cff"/><rect x="1218" y="1090" width="1" height="8" fill="#004cff"/><rect x="1218" y="1073" width="1" height="17" fill="url(#sg16)"/><rect x="1219" y="1098" width="1" height="9" fill="#0023ff"/><rect x="1219" y="1107" width="1" height="15" fill="#0000f9"/><rect x="1219" y="1090" width="1" height="8" fill="#0000f9"/><rect x="1219" y="1069" width="1" height="21" fill="url(#sg8)"/><rect x="1220" y="1098" width="2" height="9" fill="#004cff"/><rect x="1220" y="1107" width="2" height="15" fill="#0023ff"/><rect x="1220" y="1090" width="2" height="8" fill="#0000f9"/><rect x="1220" y="1076" width="2" height="14" fill="url(#sg8)"/><rect x="1222" y="1098" width="1" height="9" fill="#00e5ff"/><rect x="1222" y="1107" width="1" height="15" fill="#00b2ff"/><rect x="1222" y="1090" width="1" height="8" fill="#00b2ff"/><rect x="1222" y="1047" width="1" height="43" fill="url(#sg25)"/><rect x="1223" y="1098" width="1" height="9" fill="#0000f9"/><rect x="1223" y="1107" width="1" height="15" fill="#0000d1"/><rect x="1224" y="1098" width="1" height="9" fill="#0000f9"/><rect x="1224" y="1107" width="1" height="15" fill="#0000f9"/><rect x="1224" y="1090" width="1" height="8" fill="#0000d1"/><rect x="1224" y="1078" width="1" height="12" fill="url(#sg8)"/><rect x="1225" y="1098" width="1" height="9" fill="#0023ff"/><rect x="1225" y="1107" width="1" height="15" fill="#0000f9"/><rect x="1225" y="1090" width="1" height="8" fill="#0000f9"/><rect x="1225" y="1072" width="1" height="18" fill="url(#sg8)"/><rect x="1228" y="1098" width="1" height="9" fill="#00b2ff"/><rect x="1228" y="1107" width="1" height="15" fill="#007fff"/><rect x="1228" y="1090" width="1" height="8" fill="#004cff"/><rect x="1228" y="1044" width="1" height="46" fill="url(#sg16)"/><rect x="1229" y="1098" width="1" height="9" fill="#004cff"/><rect x="1229" y="1107" width="1" height="15" fill="#0023ff"/><rect x="1229" y="1090" width="1" height="8" fill="#0000f9"/><rect x="1230" y="1098" width="1" height="9" fill="#00b2ff"/><rect x="1230" y="1107" width="1" height="15" fill="#007fff"/><rect x="1230" y="1090" width="1" height="8" fill="#007fff"/><rect x="1230" y="1032" width="1" height="58" fill="url(#sg20)"/><rect x="1231" y="1098" width="1" height="9" fill="#00b2ff"/><rect x="1231" y="1107" width="1" height="15" fill="#007fff"/><rect x="1231" y="1090" width="1" height="8" fill="#004cff"/><rect x="1231" y="1057" width="1" height="33" fill="url(#sg16)"/><rect x="1232" y="1098" width="2" height="9" fill="#19ffe5"/><rect x="1232" y="1107" width="2" height="15" fill="#00b2ff"/><rect x="1232" y="1090" width="2" height="8" fill="#007fff"/><rect x="1232" y="1051" width="2" height="39" fill="url(#sg20)"/><rect x="1234" y="1098" width="1" height="9" fill="#007fff"/><rect x="1234" y="1107" width="1" height="15" fill="#004cff"/><rect x="1234" y="1090" width="1" height="8" fill="#0000f9"/><rect x="1234" y="1075" width="1" height="15" fill="url(#sg12)"/><rect x="1235" y="1098" width="1" height="9" fill="#007fff"/><rect x="1235" y="1107" width="1" height="15" fill="#004cff"/><rect x="1235" y="1090" width="1" height="8" fill="#0023ff"/><rect x="1235" y="1072" width="1" height="18" fill="url(#sg12)"/><rect x="1236" y="1098" width="1" height="9" fill="#0023ff"/><rect x="1236" y="1107" width="1" height="15" fill="#0000f9"/><rect x="1236" y="1090" width="1" height="8" fill="#0000f9"/><rect x="1237" y="1098" width="1" height="9" fill="#0000f9"/><rect x="1237" y="1107" width="1" height="15" fill="#0000d1"/><rect x="1237" y="1090" width="1" height="8" fill="#0000d1"/><rect x="1237" y="1074" width="1" height="16" fill="url(#sg8)"/><rect x="1238" y="1098" width="2" height="9" fill="#0023ff"/><rect x="1238" y="1107" width="2" height="15" fill="#0000f9"/><rect x="1238" y="1090" width="2" height="8" fill="#0000f9"/><rect x="1238" y="1078" width="2" height="12" fill="url(#sg8)"/><rect x="1241" y="1098" width="1" height="9" fill="#0023ff"/><rect x="1241" y="1107" width="1" height="15" fill="#0000f9"/><rect x="1241" y="1090" width="1" height="8" fill="#0000f9"/><rect x="1241" y="1080" width="1" height="10" fill="url(#sg8)"/><rect x="1242" y="1098" width="1" height="9" fill="#0000f9"/><rect x="1242" y="1107" width="1" height="15" fill="#0000f9"/><rect x="1242" y="1090" width="1" height="8" fill="#0000d1"/><rect x="1242" y="1081" width="1" height="9" fill="url(#sg8)"/><rect x="1243" y="1098" width="2" height="9" fill="#0000d1"/><rect x="1243" y="1107" width="2" height="15" fill="#0000d1"/><rect x="1245" y="1098" width="2" height="9" fill="#0000f9"/><rect x="1245" y="1107" width="2" height="15" fill="#0000f9"/><rect x="1245" y="1090" width="2" height="8" fill="#0000f9"/><rect x="1245" y="1068" width="2" height="22" fill="url(#sg8)"/><rect x="1247" y="1098" width="2" height="9" fill="#0023ff"/><rect x="1247" y="1107" width="2" height="15" fill="#0023ff"/><rect x="1247" y="1090" width="2" height="8" fill="#0000f9"/><rect x="1247" y="1079" width="2" height="11" fill="url(#sg8)"/><rect x="1249" y="1098" width="2" height="9" fill="#004cff"/><rect x="1249" y="1107" width="2" height="15" fill="#0023ff"/><rect x="1249" y="1090" width="2" height="8" fill="#004cff"/><rect x="1249" y="1082" width="2" height="8" fill="url(#sg16)"/><rect x="1251" y="1098" width="1" height="9" fill="#0023ff"/><rect x="1251" y="1107" width="1" height="15" fill="#0000f9"/><rect x="1251" y="1090" width="1" height="8" fill="#0000f9"/><rect x="1251" y="1066" width="1" height="24" fill="url(#sg8)"/><rect x="1256" y="1098" width="1" height="9" fill="#0023ff"/><rect x="1256" y="1107" width="1" height="15" fill="#0023ff"/><rect x="1256" y="1090" width="1" height="8" fill="#0000f9"/><rect x="1256" y="1070" width="1" height="20" fill="url(#sg12)"/><rect x="1257" y="1098" width="2" height="9" fill="#004cff"/><rect x="1257" y="1107" width="2" height="15" fill="#004cff"/><rect x="1257" y="1090" width="2" height="8" fill="#0023ff"/><rect x="1257" y="1058" width="2" height="32" fill="url(#sg12)"/><rect x="1259" y="1098" width="1" height="9" fill="#004cff"/><rect x="1259" y="1107" width="1" height="15" fill="#0023ff"/><rect x="1259" y="1090" width="1" height="8" fill="#0023ff"/><rect x="1259" y="1056" width="1" height="34" fill="url(#sg12)"/><rect x="1260" y="1098" width="2" height="9" fill="#0000d1"/><rect x="1260" y="1107" width="2" height="15" fill="#0000d1"/><rect x="1262" y="1098" width="2" height="9" fill="#0000f9"/><rect x="1262" y="1107" width="2" height="15" fill="#0000f9"/><rect x="1262" y="1090" width="2" height="8" fill="#0000f9"/><rect x="1262" y="1075" width="2" height="15" fill="url(#sg8)"/><rect x="1264" y="1098" width="1" height="9" fill="#0000f9"/><rect x="1264" y="1107" width="1" height="15" fill="#0000d1"/><rect x="1267" y="1098" width="1" height="9" fill="#0000f9"/><rect x="1267" y="1107" width="1" height="15" fill="#0000f9"/><rect x="1267" y="1090" width="1" height="8" fill="#0000f9"/><rect x="1267" y="1083" width="1" height="7" fill="url(#sg8)"/><rect x="1268" y="1098" width="2" height="9" fill="#0000f9"/><rect x="1268" y="1107" width="2" height="15" fill="#0000d1"/><rect x="1270" y="1098" width="1" height="9" fill="#004cff"/><rect x="1270" y="1107" width="1" height="15" fill="#0023ff"/><rect x="1270" y="1090" width="1" height="8" fill="#0023ff"/><rect x="1270" y="1076" width="1" height="14" fill="url(#sg12)"/><rect x="1271" y="1098" width="2" height="9" fill="#0000f9"/><rect x="1271" y="1107" width="2" height="15" fill="#0000f9"/><rect x="1271" y="1090" width="2" height="8" fill="#0000f9"/><rect x="1271" y="1069" width="2" height="21" fill="url(#sg8)"/><rect x="1273" y="1098" width="2" height="9" fill="#0023ff"/><rect x="1273" y="1107" width="2" height="15" fill="#0000f9"/><rect x="1273" y="1090" width="2" height="8" fill="#0000f9"/><rect x="1273" y="1069" width="2" height="21" fill="url(#sg12)"/><rect x="1275" y="1098" width="2" height="9" fill="#0000d1"/><rect x="1275" y="1107" width="2" height="15" fill="#0000d1"/><rect x="1279" y="1098" width="1" height="9" fill="#0023ff"/><rect x="1279" y="1107" width="1" height="15" fill="#0000f9"/><rect x="1279" y="1090" width="1" height="8" fill="#0023ff"/><rect x="1279" y="1080" width="1" height="10" fill="url(#sg12)"/><rect x="1280" y="1098" width="2" height="9" fill="#0000f9"/><rect x="1280" y="1107" width="2" height="15" fill="#0000f9"/><rect x="1280" y="1090" width="2" height="8" fill="#0000d1"/><rect x="1280" y="1069" width="2" height="21" fill="url(#sg8)"/><rect x="1285" y="1098" width="2" height="9" fill="#0000f9"/><rect x="1285" y="1107" width="2" height="15" fill="#0000d1"/><rect x="1287" y="1098" width="1" height="9" fill="#0023ff"/><rect x="1287" y="1107" width="1" height="15" fill="#0000f9"/><rect x="1287" y="1090" width="1" height="8" fill="#0000f9"/><rect x="1287" y="1079" width="1" height="11" fill="url(#sg8)"/><rect x="1288" y="1098" width="2" height="9" fill="#004cff"/><rect x="1288" y="1107" width="2" height="15" fill="#0023ff"/><rect x="1288" y="1090" width="2" height="8" fill="#0023ff"/><rect x="1288" y="1067" width="2" height="23" fill="url(#sg12)"/><rect x="1290" y="1098" width="2" height="9" fill="#004cff"/><rect x="1290" y="1107" width="2" height="15" fill="#004cff"/><rect x="1290" y="1090" width="2" height="8" fill="#004cff"/><rect x="1290" y="1063" width="2" height="27" fill="url(#sg16)"/><rect x="1294" y="1098" width="1" height="9" fill="#004cff"/><rect x="1294" y="1107" width="1" height="15" fill="#004cff"/><rect x="1294" y="1090" width="1" height="8" fill="#0023ff"/><rect x="1294" y="1080" width="1" height="10" fill="url(#sg12)"/><rect x="1296" y="1098" width="1" height="9" fill="#0023ff"/><rect x="1296" y="1107" width="1" height="15" fill="#0023ff"/><rect x="1296" y="1090" width="1" height="8" fill="#0000f9"/><rect x="1296" y="1076" width="1" height="14" fill="url(#sg8)"/><rect x="1298" y="1098" width="1" height="9" fill="#004cff"/><rect x="1298" y="1107" width="1" height="15" fill="#0023ff"/><rect x="1298" y="1090" width="1" height="8" fill="#0000f9"/><rect x="1298" y="1081" width="1" height="9" fill="url(#sg8)"/><rect x="1299" y="1098" width="1" height="9" fill="#0000f9"/><rect x="1299" y="1107" width="1" height="15" fill="#0000d1"/><rect x="1299" y="1090" width="1" height="8" fill="#0000f9"/><rect x="1299" y="1076" width="1" height="14" fill="url(#sg8)"/><rect x="1300" y="1098" width="1" height="9" fill="#004cff"/><rect x="1300" y="1107" width="1" height="15" fill="#0023ff"/><rect x="1300" y="1090" width="1" height="8" fill="#0000f9"/><rect x="1300" y="1074" width="1" height="16" fill="url(#sg8)"/><rect x="1301" y="1098" width="2" height="9" fill="#0023ff"/><rect x="1301" y="1107" width="2" height="15" fill="#0023ff"/><rect x="1301" y="1090" width="2" height="8" fill="#0023ff"/><rect x="1301" y="1058" width="2" height="32" fill="url(#sg12)"/><rect x="1303" y="1098" width="2" height="9" fill="#0000f9"/><rect x="1303" y="1107" width="2" height="15" fill="#0000f9"/><rect x="1303" y="1090" width="2" height="8" fill="#0000f9"/><rect x="1303" y="1082" width="2" height="8" fill="url(#sg8)"/><rect x="1306" y="1098" width="1" height="9" fill="#0000f9"/><rect x="1306" y="1107" width="1" height="15" fill="#0000f9"/><rect x="1310" y="1098" width="2" height="9" fill="#004cff"/><rect x="1310" y="1107" width="2" height="15" fill="#0023ff"/><rect x="1310" y="1090" width="2" height="8" fill="#0000f9"/><rect x="1310" y="1063" width="2" height="27" fill="url(#sg12)"/><rect x="1312" y="1098" width="2" height="9" fill="#004cff"/><rect x="1312" y="1107" width="2" height="15" fill="#0023ff"/><rect x="1312" y="1090" width="2" height="8" fill="#0000f9"/><rect x="1312" y="1065" width="2" height="25" fill="url(#sg8)"/><rect x="1314" y="1098" width="1" height="9" fill="#0023ff"/><rect x="1314" y="1107" width="1" height="15" fill="#0023ff"/><rect x="1314" y="1090" width="1" height="8" fill="#0023ff"/><rect x="1314" y="1083" width="1" height="7" fill="url(#sg12)"/><rect x="1315" y="1098" width="2" height="9" fill="#0000f9"/><rect x="1315" y="1107" width="2" height="15" fill="#0000d1"/><rect x="1317" y="1098" width="2" height="9" fill="#004cff"/><rect x="1317" y="1107" width="2" height="15" fill="#0023ff"/><rect x="1317" y="1090" width="2" height="8" fill="#0023ff"/><rect x="1317" y="1073" width="2" height="17" fill="url(#sg12)"/><rect x="1319" y="1098" width="1" height="9" fill="#004cff"/><rect x="1319" y="1107" width="1" height="15" fill="#0023ff"/><rect x="1319" y="1090" width="1" height="8" fill="#0000f9"/><rect x="1319" y="1077" width="1" height="13" fill="url(#sg8)"/><rect x="1320" y="1098" width="2" height="9" fill="#0000f9"/><rect x="1320" y="1107" width="2" height="15" fill="#0000d1"/><rect x="1324" y="1098" width="1" height="9" fill="#0000f9"/><rect x="1324" y="1107" width="1" height="15" fill="#0000f9"/><rect x="1325" y="1098" width="1" height="9" fill="#004cff"/><rect x="1325" y="1107" width="1" height="15" fill="#0023ff"/><rect x="1325" y="1090" width="1" height="8" fill="#0023ff"/><rect x="1325" y="1054" width="1" height="36" fill="url(#sg12)"/><rect x="1326" y="1098" width="1" height="9" fill="#00e5ff"/><rect x="1326" y="1107" width="1" height="15" fill="#00b2ff"/><rect x="1326" y="1090" width="1" height="8" fill="#00b2ff"/><rect x="1326" y="1074" width="1" height="16" fill="url(#sg20)"/><rect x="1327" y="1098" width="2" height="9" fill="#004cff"/><rect x="1327" y="1107" width="2" height="15" fill="#004cff"/><rect x="1327" y="1090" width="2" height="8" fill="#0000f9"/><rect x="1327" y="1074" width="2" height="16" fill="url(#sg12)"/><rect x="1329" y="1098" width="2" height="9" fill="#0023ff"/><rect x="1329" y="1107" width="2" height="15" fill="#0000f9"/><rect x="1329" y="1090" width="2" height="8" fill="#0000f9"/><rect x="1329" y="1062" width="2" height="28" fill="url(#sg12)"/><rect x="1331" y="1098" width="1" height="9" fill="#0023ff"/><rect x="1331" y="1107" width="1" height="15" fill="#0000f9"/><rect x="1331" y="1090" width="1" height="8" fill="#0023ff"/><rect x="1331" y="1080" width="1" height="10" fill="url(#sg12)"/><rect x="1332" y="1098" width="2" height="9" fill="#004cff"/><rect x="1332" y="1107" width="2" height="15" fill="#0023ff"/><rect x="1332" y="1090" width="2" height="8" fill="#0000f9"/><rect x="1332" y="1069" width="2" height="21" fill="url(#sg12)"/><rect x="1334" y="1098" width="2" height="9" fill="#00b2ff"/><rect x="1334" y="1107" width="2" height="15" fill="#00b2ff"/><rect x="1334" y="1090" width="2" height="8" fill="#007fff"/><rect x="1334" y="1054" width="2" height="36" fill="url(#sg20)"/><rect x="1336" y="1098" width="1" height="9" fill="#00b2ff"/><rect x="1336" y="1107" width="1" height="15" fill="#007fff"/><rect x="1336" y="1090" width="1" height="8" fill="#007fff"/><rect x="1336" y="1051" width="1" height="39" fill="url(#sg20)"/><rect x="1337" y="1098" width="1" height="9" fill="#0000f9"/><rect x="1337" y="1107" width="1" height="15" fill="#0000d1"/><rect x="1338" y="1098" width="2" height="9" fill="#0000f9"/><rect x="1338" y="1107" width="2" height="15" fill="#0000f9"/><rect x="1338" y="1090" width="2" height="8" fill="#0000d1"/><rect x="1338" y="1078" width="2" height="12" fill="url(#sg8)"/><rect x="1340" y="1098" width="2" height="9" fill="#007fff"/><rect x="1340" y="1107" width="2" height="15" fill="#004cff"/><rect x="1340" y="1090" width="2" height="8" fill="#0023ff"/><rect x="1340" y="1069" width="2" height="21" fill="url(#sg12)"/><rect x="1342" y="1098" width="2" height="9" fill="#00b2ff"/><rect x="1342" y="1107" width="2" height="15" fill="#007fff"/><rect x="1342" y="1090" width="2" height="8" fill="#007fff"/><rect x="1342" y="1032" width="2" height="58" fill="url(#sg20)"/><rect x="1344" y="1098" width="1" height="9" fill="#0023ff"/><rect x="1344" y="1107" width="1" height="15" fill="#0000f9"/><rect x="1344" y="1090" width="1" height="8" fill="#0023ff"/><rect x="1344" y="1069" width="1" height="21" fill="url(#sg12)"/><rect x="1345" y="1098" width="1" height="9" fill="#00b2ff"/><rect x="1345" y="1107" width="1" height="15" fill="#007fff"/><rect x="1345" y="1090" width="1" height="8" fill="#00b2ff"/><rect x="1345" y="1031" width="1" height="59" fill="url(#sg25)"/><rect x="1346" y="1098" width="2" height="9" fill="#007fff"/><rect x="1346" y="1107" width="2" height="15" fill="#004cff"/><rect x="1346" y="1090" width="2" height="8" fill="#0000f9"/><rect x="1346" y="1061" width="2" height="29" fill="url(#sg12)"/><rect x="1348" y="1098" width="2" height="9" fill="#0023ff"/><rect x="1348" y="1107" width="2" height="15" fill="#0023ff"/><rect x="1348" y="1090" width="2" height="8" fill="#0000f9"/><rect x="1348" y="1072" width="2" height="18" fill="url(#sg12)"/><rect x="1350" y="1098" width="2" height="9" fill="#0023ff"/><rect x="1350" y="1107" width="2" height="15" fill="#0000f9"/><rect x="1350" y="1090" width="2" height="8" fill="#0000f9"/><rect x="1350" y="1083" width="2" height="7" fill="url(#sg12)"/><rect x="1352" y="1098" width="2" height="9" fill="#00b2ff"/><rect x="1352" y="1107" width="2" height="15" fill="#007fff"/><rect x="1352" y="1090" width="2" height="8" fill="#004cff"/><rect x="1352" y="1051" width="2" height="39" fill="url(#sg16)"/><rect x="1354" y="1098" width="2" height="9" fill="#00b2ff"/><rect x="1354" y="1107" width="2" height="15" fill="#007fff"/><rect x="1354" y="1090" width="2" height="8" fill="#00b2ff"/><rect x="1354" y="1036" width="2" height="54" fill="url(#sg20)"/><rect x="1356" y="1098" width="1" height="9" fill="#0000f9"/><rect x="1356" y="1107" width="1" height="15" fill="#0000d1"/><rect x="1357" y="1098" width="1" height="9" fill="#00e5ff"/><rect x="1357" y="1107" width="1" height="15" fill="#00b2ff"/><rect x="1357" y="1090" width="1" height="8" fill="#004cff"/><rect x="1357" y="1076" width="1" height="14" fill="url(#sg16)"/><rect x="1358" y="1098" width="1" height="9" fill="#00b2ff"/><rect x="1358" y="1107" width="1" height="15" fill="#007fff"/><rect x="1358" y="1090" width="1" height="8" fill="#00b2ff"/><rect x="1358" y="1076" width="1" height="14" fill="url(#sg25)"/><rect x="1359" y="1098" width="2" height="9" fill="#0023ff"/><rect x="1359" y="1107" width="2" height="15" fill="#0000f9"/><rect x="1359" y="1090" width="2" height="8" fill="#0023ff"/><rect x="1359" y="1064" width="2" height="26" fill="url(#sg12)"/><rect x="1361" y="1098" width="1" height="9" fill="#00b2ff"/><rect x="1361" y="1107" width="1" height="15" fill="#007fff"/><rect x="1361" y="1090" width="1" height="8" fill="#0023ff"/><rect x="1361" y="1074" width="1" height="16" fill="url(#sg12)"/><rect x="1362" y="1098" width="1" height="9" fill="#007fff"/><rect x="1362" y="1107" width="1" height="15" fill="#007fff"/><rect x="1362" y="1090" width="1" height="8" fill="#004cff"/><rect x="1362" y="1053" width="1" height="37" fill="url(#sg16)"/><rect x="1363" y="1098" width="1" height="9" fill="#0023ff"/><rect x="1363" y="1107" width="1" height="15" fill="#0000f9"/><rect x="1363" y="1090" width="1" height="8" fill="#0000f9"/><rect x="1363" y="1083" width="1" height="7" fill="url(#sg8)"/><rect x="1364" y="1098" width="1" height="9" fill="#00e5ff"/><rect x="1364" y="1107" width="1" height="15" fill="#00b2ff"/><rect x="1364" y="1090" width="1" height="8" fill="#007fff"/><rect x="1364" y="1072" width="1" height="18" fill="url(#sg20)"/><rect x="1365" y="1098" width="2" height="9" fill="#00b2ff"/><rect x="1365" y="1107" width="2" height="15" fill="#007fff"/><rect x="1365" y="1090" width="2" height="8" fill="#004cff"/><rect x="1365" y="1071" width="2" height="19" fill="url(#sg16)"/><rect x="1367" y="1098" width="1" height="9" fill="#0023ff"/><rect x="1367" y="1107" width="1" height="15" fill="#0000f9"/><rect x="1367" y="1090" width="1" height="8" fill="#0000f9"/><rect x="1367" y="1069" width="1" height="21" fill="url(#sg8)"/><rect x="1368" y="1098" width="1" height="9" fill="#004cff"/><rect x="1368" y="1107" width="1" height="15" fill="#004cff"/><rect x="1368" y="1090" width="1" height="8" fill="#004cff"/><rect x="1368" y="1068" width="1" height="22" fill="url(#sg16)"/><rect x="1369" y="1098" width="2" height="9" fill="#0023ff"/><rect x="1369" y="1107" width="2" height="15" fill="#0023ff"/><rect x="1369" y="1090" width="2" height="8" fill="#0000f9"/><rect x="1369" y="1066" width="2" height="24" fill="url(#sg8)"/><rect x="1371" y="1098" width="1" height="9" fill="#00b2ff"/><rect x="1371" y="1107" width="1" height="15" fill="#007fff"/><rect x="1371" y="1090" width="1" height="8" fill="#004cff"/><rect x="1371" y="1042" width="1" height="48" fill="url(#sg16)"/><rect x="1372" y="1098" width="1" height="9" fill="#007fff"/><rect x="1372" y="1107" width="1" height="15" fill="#007fff"/><rect x="1372" y="1090" width="1" height="8" fill="#004cff"/><rect x="1372" y="1080" width="1" height="10" fill="url(#sg16)"/><rect x="1373" y="1098" width="1" height="9" fill="#0023ff"/><rect x="1373" y="1107" width="1" height="15" fill="#0000f9"/><rect x="1373" y="1090" width="1" height="8" fill="#0023ff"/><rect x="1373" y="1075" width="1" height="15" fill="url(#sg12)"/><rect x="1374" y="1098" width="2" height="9" fill="#0000f9"/><rect x="1374" y="1107" width="2" height="15" fill="#0000f9"/><rect x="1374" y="1090" width="2" height="8" fill="#0000d1"/><rect x="1376" y="1098" width="2" height="9" fill="#0023ff"/><rect x="1376" y="1107" width="2" height="15" fill="#0000f9"/><rect x="1376" y="1090" width="2" height="8" fill="#0000f9"/><rect x="1376" y="1068" width="2" height="22" fill="url(#sg8)"/><rect x="1378" y="1098" width="2" height="9" fill="#007fff"/><rect x="1378" y="1107" width="2" height="15" fill="#004cff"/><rect x="1378" y="1090" width="2" height="8" fill="#0000f9"/><rect x="1378" y="1060" width="2" height="30" fill="url(#sg12)"/><rect x="1380" y="1098" width="1" height="9" fill="#004cff"/><rect x="1380" y="1107" width="1" height="15" fill="#0023ff"/><rect x="1380" y="1090" width="1" height="8" fill="#0023ff"/><rect x="1380" y="1064" width="1" height="26" fill="url(#sg12)"/><rect x="1381" y="1098" width="1" height="9" fill="#00b2ff"/><rect x="1381" y="1107" width="1" height="15" fill="#007fff"/><rect x="1381" y="1090" width="1" height="8" fill="#0023ff"/><rect x="1381" y="1062" width="1" height="28" fill="url(#sg12)"/><rect x="1382" y="1098" width="1" height="9" fill="#004cff"/><rect x="1382" y="1107" width="1" height="15" fill="#0023ff"/><rect x="1382" y="1090" width="1" height="8" fill="#0000f9"/><rect x="1382" y="1069" width="1" height="21" fill="url(#sg8)"/><rect x="1383" y="1098" width="2" height="9" fill="#00b2ff"/><rect x="1383" y="1107" width="2" height="15" fill="#007fff"/><rect x="1383" y="1090" width="2" height="8" fill="#00b2ff"/><rect x="1383" y="1055" width="2" height="35" fill="url(#sg25)"/><rect x="1385" y="1098" width="2" height="9" fill="#007fff"/><rect x="1385" y="1107" width="2" height="15" fill="#004cff"/><rect x="1385" y="1090" width="2" height="8" fill="#007fff"/><rect x="1385" y="1078" width="2" height="12" fill="url(#sg20)"/><rect x="1387" y="1098" width="1" height="9" fill="#004cff"/><rect x="1387" y="1107" width="1" height="15" fill="#0023ff"/><rect x="1387" y="1090" width="1" height="8" fill="#0000f9"/><rect x="1387" y="1061" width="1" height="29" fill="url(#sg8)"/><rect x="1388" y="1098" width="1" height="9" fill="#0000d1"/><rect x="1388" y="1107" width="1" height="15" fill="#0000d1"/><rect x="1391" y="1098" width="2" height="9" fill="#007fff"/><rect x="1391" y="1107" width="2" height="15" fill="#004cff"/><rect x="1391" y="1090" width="2" height="8" fill="#0023ff"/><rect x="1391" y="1059" width="2" height="31" fill="url(#sg12)"/><rect x="1393" y="1098" width="2" height="9" fill="#0000f9"/><rect x="1393" y="1107" width="2" height="15" fill="#0000f9"/><rect x="1393" y="1090" width="2" height="8" fill="#0000f9"/><rect x="1395" y="1098" width="2" height="9" fill="#00b2ff"/><rect x="1395" y="1107" width="2" height="15" fill="#007fff"/><rect x="1395" y="1090" width="2" height="8" fill="#0023ff"/><rect x="1395" y="1071" width="2" height="19" fill="url(#sg16)"/><rect x="1397" y="1098" width="1" height="9" fill="#0000f9"/><rect x="1397" y="1107" width="1" height="15" fill="#0000d1"/><rect x="1397" y="1090" width="1" height="8" fill="#0000d1"/><rect x="1397" y="1080" width="1" height="10" fill="url(#sg8)"/><rect x="1398" y="1098" width="1" height="9" fill="#0000f9"/><rect x="1398" y="1107" width="1" height="15" fill="#0000f9"/><rect x="1399" y="1098" width="1" height="9" fill="#004cff"/><rect x="1399" y="1107" width="1" height="15" fill="#004cff"/><rect x="1399" y="1090" width="1" height="8" fill="#004cff"/><rect x="1399" y="1074" width="1" height="16" fill="url(#sg16)"/><rect x="1401" y="1098" width="1" height="9" fill="#007fff"/><rect x="1401" y="1107" width="1" height="15" fill="#004cff"/><rect x="1401" y="1090" width="1" height="8" fill="#004cff"/><rect x="1401" y="1079" width="1" height="11" fill="url(#sg16)"/><rect x="1402" y="1098" width="2" height="9" fill="#0000f9"/><rect x="1402" y="1107" width="2" height="15" fill="#0000f9"/><rect x="1402" y="1090" width="2" height="8" fill="#0000f9"/><rect x="1402" y="1078" width="2" height="12" fill="url(#sg8)"/><rect x="1404" y="1098" width="2" height="9" fill="#00b2ff"/><rect x="1404" y="1107" width="2" height="15" fill="#007fff"/><rect x="1404" y="1090" width="2" height="8" fill="#004cff"/><rect x="1404" y="1082" width="2" height="8" fill="url(#sg16)"/><rect x="1406" y="1098" width="1" height="9" fill="#4cffb2"/><rect x="1406" y="1107" width="1" height="15" fill="#19ffe5"/><rect x="1406" y="1090" width="1" height="8" fill="#19ffe5"/><rect x="1406" y="1064" width="1" height="26" fill="url(#sg30)"/><rect x="1408" y="1098" width="1" height="9" fill="#7fff7f"/><rect x="1408" y="1107" width="1" height="15" fill="#4cffb2"/><rect x="1408" y="1090" width="1" height="8" fill="#4cffb2"/><rect x="1408" y="1070" width="1" height="20" fill="url(#sg35)"/><rect x="1409" y="1098" width="1" height="9" fill="#004cff"/><rect x="1409" y="1107" width="1" height="15" fill="#0023ff"/><rect x="1409" y="1090" width="1" height="8" fill="#0000f9"/><rect x="1409" y="1065" width="1" height="25" fill="url(#sg8)"/><rect x="1410" y="1098" width="1" height="9" fill="#00e5ff"/><rect x="1410" y="1107" width="1" height="15" fill="#00b2ff"/><rect x="1410" y="1090" width="1" height="8" fill="#00b2ff"/><rect x="1410" y="1020" width="1" height="70" fill="url(#sg25)"/><rect x="1411" y="1098" width="2" height="9" fill="#00e5ff"/><rect x="1411" y="1107" width="2" height="15" fill="#00b2ff"/><rect x="1411" y="1090" width="2" height="8" fill="#007fff"/><rect x="1411" y="1066" width="2" height="24" fill="url(#sg20)"/><rect x="1413" y="1098" width="2" height="9" fill="#007fff"/><rect x="1413" y="1107" width="2" height="15" fill="#004cff"/><rect x="1413" y="1090" width="2" height="8" fill="#004cff"/><rect x="1413" y="1065" width="2" height="25" fill="url(#sg16)"/><rect x="1415" y="1098" width="1" height="9" fill="#00b2ff"/><rect x="1415" y="1107" width="1" height="15" fill="#00b2ff"/><rect x="1415" y="1090" width="1" height="8" fill="#004cff"/><rect x="1415" y="1052" width="1" height="38" fill="url(#sg16)"/><rect x="1416" y="1098" width="1" height="9" fill="#00e5ff"/><rect x="1416" y="1107" width="1" height="15" fill="#00b2ff"/><rect x="1416" y="1090" width="1" height="8" fill="#007fff"/><rect x="1416" y="1070" width="1" height="20" fill="url(#sg20)"/><rect x="1417" y="1098" width="1" height="9" fill="#00b2ff"/><rect x="1417" y="1107" width="1" height="15" fill="#007fff"/><rect x="1417" y="1090" width="1" height="8" fill="#007fff"/><rect x="1417" y="1072" width="1" height="18" fill="url(#sg20)"/><rect x="1418" y="1098" width="2" height="9" fill="#0023ff"/><rect x="1418" y="1107" width="2" height="15" fill="#0023ff"/><rect x="1418" y="1090" width="2" height="8" fill="#0000f9"/><rect x="1418" y="1062" width="2" height="28" fill="url(#sg8)"/><rect x="1420" y="1098" width="1" height="9" fill="#00b2ff"/><rect x="1420" y="1107" width="1" height="15" fill="#007fff"/><rect x="1420" y="1090" width="1" height="8" fill="#004cff"/><rect x="1420" y="1060" width="1" height="30" fill="url(#sg16)"/><rect x="1421" y="1098" width="1" height="9" fill="#004cff"/><rect x="1421" y="1107" width="1" height="15" fill="#0023ff"/><rect x="1421" y="1090" width="1" height="8" fill="#0023ff"/><rect x="1421" y="1074" width="1" height="16" fill="url(#sg12)"/><rect x="1422" y="1098" width="1" height="9" fill="#007fff"/><rect x="1422" y="1107" width="1" height="15" fill="#004cff"/><rect x="1422" y="1090" width="1" height="8" fill="#0023ff"/><rect x="1422" y="1082" width="1" height="8" fill="url(#sg12)"/><rect x="1423" y="1098" width="1" height="9" fill="#004cff"/><rect x="1423" y="1107" width="1" height="15" fill="#0023ff"/><rect x="1423" y="1090" width="1" height="8" fill="#0000f9"/><rect x="1423" y="1061" width="1" height="29" fill="url(#sg12)"/><rect x="1424" y="1098" width="1" height="9" fill="#004cff"/><rect x="1424" y="1107" width="1" height="15" fill="#0023ff"/><rect x="1424" y="1090" width="1" height="8" fill="#0000f9"/><rect x="1424" y="1063" width="1" height="27" fill="url(#sg8)"/><rect x="1425" y="1098" width="2" height="9" fill="#004cff"/><rect x="1425" y="1107" width="2" height="15" fill="#0023ff"/><rect x="1425" y="1090" width="2" height="8" fill="#004cff"/><rect x="1425" y="1055" width="2" height="35" fill="url(#sg16)"/><rect x="1427" y="1098" width="2" height="9" fill="#0000f9"/><rect x="1427" y="1107" width="2" height="15" fill="#0000f9"/><rect x="1429" y="1098" width="2" height="9" fill="#007fff"/><rect x="1429" y="1107" width="2" height="15" fill="#007fff"/><rect x="1429" y="1090" width="2" height="8" fill="#004cff"/><rect x="1429" y="1081" width="2" height="9" fill="url(#sg16)"/><rect x="1431" y="1098" width="2" height="9" fill="#00b2ff"/><rect x="1431" y="1107" width="2" height="15" fill="#007fff"/><rect x="1431" y="1090" width="2" height="8" fill="#0023ff"/><rect x="1431" y="1057" width="2" height="33" fill="url(#sg16)"/><rect x="1433" y="1098" width="1" height="9" fill="#00b2ff"/><rect x="1433" y="1107" width="1" height="15" fill="#007fff"/><rect x="1433" y="1090" width="1" height="8" fill="#00b2ff"/><rect x="1433" y="1076" width="1" height="14" fill="url(#sg20)"/><rect x="1434" y="1098" width="2" height="9" fill="#007fff"/><rect x="1434" y="1107" width="2" height="15" fill="#004cff"/><rect x="1434" y="1090" width="2" height="8" fill="#0023ff"/><rect x="1434" y="1069" width="2" height="21" fill="url(#sg12)"/><rect x="1436" y="1098" width="1" height="9" fill="#0023ff"/><rect x="1436" y="1107" width="1" height="15" fill="#0000f9"/><rect x="1436" y="1090" width="1" height="8" fill="#0000f9"/><rect x="1437" y="1098" width="1" height="9" fill="#00e5ff"/><rect x="1437" y="1107" width="1" height="15" fill="#00b2ff"/><rect x="1437" y="1090" width="1" height="8" fill="#007fff"/><rect x="1437" y="1075" width="1" height="15" fill="url(#sg20)"/><rect x="1438" y="1098" width="1" height="9" fill="#004cff"/><rect x="1438" y="1107" width="1" height="15" fill="#0023ff"/><rect x="1438" y="1090" width="1" height="8" fill="#0023ff"/><rect x="1438" y="1056" width="1" height="34" fill="url(#sg12)"/><rect x="1439" y="1098" width="1" height="9" fill="#007fff"/><rect x="1439" y="1107" width="1" height="15" fill="#004cff"/><rect x="1439" y="1090" width="1" height="8" fill="#004cff"/><rect x="1439" y="1078" width="1" height="12" fill="url(#sg16)"/><rect x="1440" y="1098" width="2" height="9" fill="#0000f9"/><rect x="1440" y="1107" width="2" height="15" fill="#0000d1"/><rect x="1442" y="1098" width="1" height="9" fill="#007fff"/><rect x="1442" y="1107" width="1" height="15" fill="#007fff"/><rect x="1442" y="1090" width="1" height="8" fill="#004cff"/><rect x="1442" y="1055" width="1" height="35" fill="url(#sg16)"/><rect x="1443" y="1098" width="1" height="9" fill="#0023ff"/><rect x="1443" y="1107" width="1" height="15" fill="#0000f9"/><rect x="1443" y="1090" width="1" height="8" fill="#0000f9"/><rect x="1443" y="1081" width="1" height="9" fill="url(#sg8)"/><rect x="1444" y="1098" width="2" height="9" fill="#0023ff"/><rect x="1444" y="1107" width="2" height="15" fill="#0000f9"/><rect x="1444" y="1090" width="2" height="8" fill="#0000d1"/><rect x="1444" y="1080" width="2" height="10" fill="url(#sg8)"/><rect x="1446" y="1098" width="2" height="9" fill="#007fff"/><rect x="1446" y="1107" width="2" height="15" fill="#004cff"/><rect x="1446" y="1090" width="2" height="8" fill="#0023ff"/><rect x="1446" y="1053" width="2" height="37" fill="url(#sg16)"/><rect x="1448" y="1098" width="1" height="9" fill="#007fff"/><rect x="1448" y="1107" width="1" height="15" fill="#004cff"/><rect x="1448" y="1090" width="1" height="8" fill="#007fff"/><rect x="1448" y="1067" width="1" height="23" fill="url(#sg20)"/><rect x="1449" y="1098" width="2" height="9" fill="#0023ff"/><rect x="1449" y="1107" width="2" height="15" fill="#0000f9"/><rect x="1449" y="1090" width="2" height="8" fill="#0000f9"/><rect x="1449" y="1070" width="2" height="20" fill="url(#sg12)"/><rect x="1451" y="1098" width="1" height="9" fill="#0000f9"/><rect x="1451" y="1107" width="1" height="15" fill="#0000f9"/><rect x="1452" y="1098" width="2" height="9" fill="#004cff"/><rect x="1452" y="1107" width="2" height="15" fill="#0023ff"/><rect x="1452" y="1090" width="2" height="8" fill="#0023ff"/><rect x="1452" y="1053" width="2" height="37" fill="url(#sg12)"/><rect x="1454" y="1098" width="2" height="9" fill="#004cff"/><rect x="1454" y="1107" width="2" height="15" fill="#004cff"/><rect x="1454" y="1090" width="2" height="8" fill="#0000f9"/><rect x="1454" y="1064" width="2" height="26" fill="url(#sg12)"/><rect x="1456" y="1098" width="1" height="9" fill="#0023ff"/><rect x="1456" y="1107" width="1" height="15" fill="#0023ff"/><rect x="1456" y="1090" width="1" height="8" fill="#0000f9"/><rect x="1456" y="1072" width="1" height="18" fill="url(#sg8)"/><rect x="1457" y="1098" width="2" height="9" fill="#007fff"/><rect x="1457" y="1107" width="2" height="15" fill="#004cff"/><rect x="1457" y="1090" width="2" height="8" fill="#0023ff"/><rect x="1457" y="1057" width="2" height="33" fill="url(#sg12)"/><rect x="1459" y="1098" width="2" height="9" fill="#0023ff"/><rect x="1459" y="1107" width="2" height="15" fill="#0000f9"/><rect x="1459" y="1090" width="2" height="8" fill="#0000f9"/><rect x="1459" y="1080" width="2" height="10" fill="url(#sg12)"/><rect x="1461" y="1098" width="1" height="9" fill="#007fff"/><rect x="1461" y="1107" width="1" height="15" fill="#004cff"/><rect x="1461" y="1090" width="1" height="8" fill="#0000f9"/><rect x="1461" y="1064" width="1" height="26" fill="url(#sg12)"/><rect x="1462" y="1098" width="2" height="9" fill="#00b2ff"/><rect x="1462" y="1107" width="2" height="15" fill="#007fff"/><rect x="1462" y="1090" width="2" height="8" fill="#007fff"/><rect x="1462" y="1061" width="2" height="29" fill="url(#sg20)"/><rect x="1464" y="1098" width="2" height="9" fill="#00b2ff"/><rect x="1464" y="1107" width="2" height="15" fill="#007fff"/><rect x="1464" y="1090" width="2" height="8" fill="#007fff"/><rect x="1464" y="1045" width="2" height="45" fill="url(#sg20)"/><rect x="1467" y="1098" width="1" height="9" fill="#0023ff"/><rect x="1467" y="1107" width="1" height="15" fill="#0023ff"/><rect x="1467" y="1090" width="1" height="8" fill="#0000f9"/><rect x="1467" y="1083" width="1" height="7" fill="url(#sg8)"/><rect x="1468" y="1098" width="1" height="9" fill="#0023ff"/><rect x="1468" y="1107" width="1" height="15" fill="#0023ff"/><rect x="1468" y="1090" width="1" height="8" fill="#0000f9"/><rect x="1468" y="1074" width="1" height="16" fill="url(#sg8)"/><rect x="1469" y="1098" width="2" height="9" fill="#0023ff"/><rect x="1469" y="1107" width="2" height="15" fill="#0000f9"/><rect x="1469" y="1090" width="2" height="8" fill="#0000f9"/><rect x="1469" y="1070" width="2" height="20" fill="url(#sg12)"/><rect x="1471" y="1098" width="1" height="9" fill="#00b2ff"/><rect x="1471" y="1107" width="1" height="15" fill="#007fff"/><rect x="1471" y="1090" width="1" height="8" fill="#007fff"/><rect x="1471" y="1040" width="1" height="50" fill="url(#sg20)"/><rect x="1474" y="1098" width="2" height="9" fill="#004cff"/><rect x="1474" y="1107" width="2" height="15" fill="#0023ff"/><rect x="1474" y="1090" width="2" height="8" fill="#0000f9"/><rect x="1474" y="1074" width="2" height="16" fill="url(#sg8)"/><rect x="1476" y="1098" width="1" height="9" fill="#00b2ff"/><rect x="1476" y="1107" width="1" height="15" fill="#007fff"/><rect x="1476" y="1090" width="1" height="8" fill="#004cff"/><rect x="1476" y="1059" width="1" height="31" fill="url(#sg16)"/><rect x="1477" y="1098" width="1" height="9" fill="#0023ff"/><rect x="1477" y="1107" width="1" height="15" fill="#0000f9"/><rect x="1477" y="1090" width="1" height="8" fill="#0000d1"/><rect x="1477" y="1069" width="1" height="21" fill="url(#sg8)"/><rect x="1478" y="1098" width="2" height="9" fill="#0000f9"/><rect x="1478" y="1107" width="2" height="15" fill="#0000f9"/><rect x="1480" y="1098" width="2" height="9" fill="#0000f9"/><rect x="1480" y="1107" width="2" height="15" fill="#0000f9"/><rect x="1482" y="1098" width="2" height="9" fill="#0000f9"/><rect x="1482" y="1107" width="2" height="15" fill="#0000f9"/><rect x="1484" y="1098" width="1" height="9" fill="#007fff"/><rect x="1484" y="1107" width="1" height="15" fill="#004cff"/><rect x="1484" y="1090" width="1" height="8" fill="#004cff"/><rect x="1484" y="1049" width="1" height="41" fill="url(#sg16)"/><rect x="1485" y="1098" width="2" height="9" fill="#0000f9"/><rect x="1485" y="1107" width="2" height="15" fill="#0000d1"/><rect x="1487" y="1098" width="1" height="9" fill="#007fff"/><rect x="1487" y="1107" width="1" height="15" fill="#004cff"/><rect x="1487" y="1090" width="1" height="8" fill="#0023ff"/><rect x="1487" y="1077" width="1" height="13" fill="url(#sg12)"/><rect x="1488" y="1098" width="2" height="9" fill="#004cff"/><rect x="1488" y="1107" width="2" height="15" fill="#0023ff"/><rect x="1488" y="1090" width="2" height="8" fill="#0000f9"/><rect x="1488" y="1074" width="2" height="16" fill="url(#sg8)"/><rect x="1490" y="1098" width="2" height="9" fill="#00e5ff"/><rect x="1490" y="1107" width="2" height="15" fill="#00b2ff"/><rect x="1490" y="1090" width="2" height="8" fill="#004cff"/><rect x="1490" y="1070" width="2" height="20" fill="url(#sg16)"/><rect x="1492" y="1098" width="1" height="9" fill="#007fff"/><rect x="1492" y="1107" width="1" height="15" fill="#007fff"/><rect x="1492" y="1090" width="1" height="8" fill="#007fff"/><rect x="1492" y="1032" width="1" height="58" fill="url(#sg20)"/><rect x="1493" y="1098" width="2" height="9" fill="#00b2ff"/><rect x="1493" y="1107" width="2" height="15" fill="#007fff"/><rect x="1493" y="1090" width="2" height="8" fill="#0023ff"/><rect x="1493" y="1067" width="2" height="23" fill="url(#sg12)"/><rect x="1495" y="1098" width="2" height="9" fill="#007fff"/><rect x="1495" y="1107" width="2" height="15" fill="#007fff"/><rect x="1495" y="1090" width="2" height="8" fill="#004cff"/><rect x="1495" y="1042" width="2" height="48" fill="url(#sg16)"/><rect x="1497" y="1098" width="1" height="9" fill="#007fff"/><rect x="1497" y="1107" width="1" height="15" fill="#004cff"/><rect x="1497" y="1090" width="1" height="8" fill="#0000f9"/><rect x="1497" y="1082" width="1" height="8" fill="url(#sg12)"/><rect x="1498" y="1098" width="2" height="9" fill="#0023ff"/><rect x="1498" y="1107" width="2" height="15" fill="#0023ff"/><rect x="1498" y="1090" width="2" height="8" fill="#0000d1"/><rect x="1498" y="1071" width="2" height="19" fill="url(#sg8)"/><rect x="1500" y="1098" width="2" height="9" fill="#007fff"/><rect x="1500" y="1107" width="2" height="15" fill="#004cff"/><rect x="1500" y="1090" width="2" height="8" fill="#004cff"/><rect x="1500" y="1051" width="2" height="39" fill="url(#sg16)"/><rect x="1502" y="1098" width="1" height="9" fill="#0000f9"/><rect x="1502" y="1107" width="1" height="15" fill="#0000f9"/><rect x="1502" y="1090" width="1" height="8" fill="#0000f9"/><rect x="1502" y="1067" width="1" height="23" fill="url(#sg8)"/><rect x="1503" y="1098" width="1" height="9" fill="#004cff"/><rect x="1503" y="1107" width="1" height="15" fill="#0023ff"/><rect x="1503" y="1090" width="1" height="8" fill="#0000f9"/><rect x="1503" y="1070" width="1" height="20" fill="url(#sg8)"/><rect x="1504" y="1098" width="1" height="9" fill="#007fff"/><rect x="1504" y="1107" width="1" height="15" fill="#004cff"/><rect x="1504" y="1090" width="1" height="8" fill="#0023ff"/><rect x="1504" y="1061" width="1" height="29" fill="url(#sg12)"/><rect x="1505" y="1098" width="1" height="9" fill="#0023ff"/><rect x="1505" y="1107" width="1" height="15" fill="#0000f9"/><rect x="1505" y="1090" width="1" height="8" fill="#0000d1"/><rect x="1505" y="1083" width="1" height="7" fill="url(#sg8)"/><rect x="1506" y="1098" width="1" height="9" fill="#004cff"/><rect x="1506" y="1107" width="1" height="15" fill="#004cff"/><rect x="1506" y="1090" width="1" height="8" fill="#0023ff"/><rect x="1506" y="1077" width="1" height="13" fill="url(#sg12)"/><rect x="1507" y="1098" width="2" height="9" fill="#0023ff"/><rect x="1507" y="1107" width="2" height="15" fill="#0023ff"/><rect x="1507" y="1090" width="2" height="8" fill="#0000f9"/><rect x="1507" y="1067" width="2" height="23" fill="url(#sg8)"/><rect x="1509" y="1098" width="1" height="9" fill="#0023ff"/><rect x="1509" y="1107" width="1" height="15" fill="#0000f9"/><rect x="1509" y="1090" width="1" height="8" fill="#0000f9"/><rect x="1509" y="1070" width="1" height="20" fill="url(#sg8)"/><rect x="1510" y="1098" width="2" height="9" fill="#00b2ff"/><rect x="1510" y="1107" width="2" height="15" fill="#007fff"/><rect x="1510" y="1090" width="2" height="8" fill="#0023ff"/><rect x="1510" y="1058" width="2" height="32" fill="url(#sg12)"/><rect x="1512" y="1098" width="1" height="9" fill="#0023ff"/><rect x="1512" y="1107" width="1" height="15" fill="#0000f9"/><rect x="1512" y="1090" width="1" height="8" fill="#0023ff"/><rect x="1512" y="1074" width="1" height="16" fill="url(#sg12)"/><rect x="1513" y="1098" width="1" height="9" fill="#00b2ff"/><rect x="1513" y="1107" width="1" height="15" fill="#007fff"/><rect x="1513" y="1090" width="1" height="8" fill="#007fff"/><rect x="1513" y="1076" width="1" height="14" fill="url(#sg20)"/><rect x="1514" y="1098" width="2" height="9" fill="#00b2ff"/><rect x="1514" y="1107" width="2" height="15" fill="#007fff"/><rect x="1514" y="1090" width="2" height="8" fill="#007fff"/><rect x="1514" y="1062" width="2" height="28" fill="url(#sg20)"/><rect x="1516" y="1098" width="1" height="9" fill="#007fff"/><rect x="1516" y="1107" width="1" height="15" fill="#004cff"/><rect x="1516" y="1090" width="1" height="8" fill="#004cff"/><rect x="1516" y="1054" width="1" height="36" fill="url(#sg16)"/><rect x="1517" y="1098" width="1" height="9" fill="#004cff"/><rect x="1517" y="1107" width="1" height="15" fill="#004cff"/><rect x="1517" y="1090" width="1" height="8" fill="#0000f9"/><rect x="1517" y="1062" width="1" height="28" fill="url(#sg12)"/><rect x="1518" y="1098" width="1" height="9" fill="#0023ff"/><rect x="1518" y="1107" width="1" height="15" fill="#0000f9"/><rect x="1518" y="1090" width="1" height="8" fill="#0023ff"/><rect x="1518" y="1058" width="1" height="32" fill="url(#sg12)"/><rect x="1519" y="1098" width="1" height="9" fill="#0023ff"/><rect x="1519" y="1107" width="1" height="15" fill="#0000f9"/><rect x="1519" y="1090" width="1" height="8" fill="#0000f9"/><rect x="1519" y="1059" width="1" height="31" fill="url(#sg12)"/><rect x="1520" y="1098" width="1" height="9" fill="#0000f9"/><rect x="1520" y="1107" width="1" height="15" fill="#0000f9"/><rect x="1520" y="1090" width="1" height="8" fill="#0000f9"/><rect x="1520" y="1068" width="1" height="22" fill="url(#sg8)"/><rect x="740" y="1098" width="2" height="24" fill="#f9ff05"/><rect x="740" y="1060" width="2" height="38" fill="#4cffb2"/><rect x="740" y="1030" width="2" height="30" fill="#00e5ff"/><rect x="740" y="1010" width="2" height="20" fill="url(#sg35)"/><rect x="762" y="1090" width="1" height="32" fill="#4cffb2"/><rect x="762" y="1040" width="1" height="50" fill="#19ffe5"/><rect x="762" y="1005" width="1" height="35" fill="#00b2ff"/><rect x="762" y="985" width="1" height="20" fill="url(#sg30)"/><rect x="941" y="1097" width="2" height="25" fill="#f9ff05"/><rect x="941" y="1040" width="2" height="57" fill="#7fff7f"/><rect x="941" y="1000" width="2" height="40" fill="#19ffe5"/><rect x="941" y="985" width="2" height="15" fill="#00b2ff"/><rect x="941" y="974" width="2" height="11" fill="url(#sg30)"/><rect x="1106" y="1060" width="1" height="38" fill="#00e5ff"/><rect x="1106" y="1030" width="1" height="30" fill="#00b2ff"/><rect x="1106" y="1010" width="1" height="20" fill="url(#sg30)"/><rect x="1130" y="1050" width="1" height="48" fill="#19ffe5"/><rect x="1130" y="1023" width="1" height="27" fill="#00b2ff"/><rect x="1130" y="1003" width="1" height="20" fill="url(#sg30)"/><rect x="1193" y="1070" width="2" height="28" fill="#00e5ff"/><rect x="1193" y="1050" width="2" height="20" fill="#00b2ff"/><rect x="1193" y="1030" width="2" height="20" fill="url(#sg30)"/><rect x="1233" y="1085" width="2" height="37" fill="#4cffb2"/><rect x="1233" y="1060" width="2" height="25" fill="#00e5ff"/><rect x="1233" y="1040" width="2" height="20" fill="#007fff"/><rect x="1233" y="1020" width="2" height="20" fill="url(#sg25)"/><rect x="1370" y="1085" width="1" height="37" fill="#7fff7f"/><rect x="1370" y="1040" width="1" height="45" fill="#19ffe5"/><rect x="1370" y="1010" width="1" height="30" fill="#00b2ff"/><rect x="1370" y="990" width="1" height="20" fill="url(#sg30)"/><rect x="1406" y="1095" width="4" height="27" fill="#7fff7f"/><rect x="1406" y="1075" width="4" height="20" fill="#19ffe5"/><rect x="1406" y="1050" width="4" height="25" fill="#00e5ff"/><rect x="1406" y="1030" width="4" height="20" fill="#007fff"/><rect x="1406" y="1010" width="4" height="20" fill="url(#sg25)"/><rect x="1411" y="1098" width="2" height="24" fill="#bcff42"/><rect x="1411" y="1060" width="2" height="38" fill="#19ffe5"/><rect x="1411" y="1040" width="2" height="20" fill="url(#sg40)"/><rect x="1429" y="1090" width="2" height="32" fill="#19ffe5"/><rect x="1429" y="1070" width="2" height="20" fill="url(#sg40)"/><rect x="1467" y="1060" width="1" height="62" fill="#00e5ff"/><rect x="1467" y="1030" width="1" height="30" fill="#007fff"/><rect x="1467" y="1010" width="1" height="20" fill="url(#sg25)"/><rect x="743" y="983" width="2" height="1" fill="#3050ff"/><rect x="746" y="983" width="2" height="1" fill="#3050ff"/><rect x="749" y="983" width="2" height="1" fill="#3050ff"/><rect x="755" y="983" width="2" height="1" fill="#3050ff"/><rect x="758" y="983" width="2" height="1" fill="#3050ff"/><rect x="761" y="983" width="2" height="1" fill="#3050ff"/><rect x="764" y="983" width="2" height="1" fill="#3050ff"/><rect x="767" y="983" width="2" height="1" fill="#3050ff"/><rect x="770" y="983" width="2" height="1" fill="#3050ff"/><rect x="773" y="983" width="2" height="1" fill="#3050ff"/><rect x="776" y="983" width="2" height="1" fill="#3050ff"/><rect x="779" y="983" width="2" height="1" fill="#3050ff"/><rect x="782" y="983" width="2" height="1" fill="#3050ff"/><rect x="788" y="983" width="2" height="1" fill="#3050ff"/><rect x="738" y="975" width="2" height="1" fill="#3050ff"/><rect x="741" y="975" width="2" height="1" fill="#3050ff"/><rect x="747" y="975" width="2" height="1" fill="#3050ff"/><rect x="1027" y="999" width="2" height="1" fill="#3050ff"/><rect x="1033" y="999" width="2" height="1" fill="#3050ff"/><rect x="1036" y="999" width="2" height="1" fill="#3050ff"/><rect x="1042" y="999" width="2" height="1" fill="#3050ff"/><rect x="1060" y="999" width="2" height="1" fill="#3050ff"/><rect x="1063" y="999" width="2" height="1" fill="#3050ff"/><rect x="1069" y="999" width="2" height="1" fill="#3050ff"/><rect x="1072" y="999" width="2" height="1" fill="#3050ff"/><rect x="1075" y="999" width="2" height="1" fill="#3050ff"/><rect x="1078" y="999" width="2" height="1" fill="#3050ff"/><rect x="1081" y="999" width="2" height="1" fill="#3050ff"/><rect x="1087" y="999" width="2" height="1" fill="#3050ff"/><rect x="1090" y="999" width="2" height="1" fill="#3050ff"/><rect x="1096" y="999" width="2" height="1" fill="#3050ff"/><rect x="1099" y="999" width="2" height="1" fill="#3050ff"/><rect x="1102" y="999" width="2" height="1" fill="#3050ff"/><rect x="1108" y="999" width="2" height="1" fill="#3050ff"/><rect x="1114" y="999" width="2" height="1" fill="#3050ff"/><rect x="1117" y="999" width="2" height="1" fill="#3050ff"/><rect x="1126" y="999" width="2" height="1" fill="#3050ff"/><rect x="1135" y="999" width="2" height="1" fill="#3050ff"/><rect x="1138" y="999" width="2" height="1" fill="#3050ff"/><rect x="1144" y="999" width="2" height="1" fill="#3050ff"/><rect x="1150" y="999" width="2" height="1" fill="#3050ff"/><rect x="1156" y="999" width="2" height="1" fill="#3050ff"/><rect x="1162" y="999" width="2" height="1" fill="#3050ff"/><rect x="1165" y="999" width="2" height="1" fill="#3050ff"/><rect x="1168" y="999" width="2" height="1" fill="#3050ff"/><rect x="1177" y="999" width="2" height="1" fill="#3050ff"/><rect x="1192" y="999" width="2" height="1" fill="#3050ff"/><rect x="1198" y="999" width="2" height="1" fill="#3050ff"/><rect x="1204" y="999" width="2" height="1" fill="#3050ff"/><rect x="1207" y="999" width="2" height="1" fill="#3050ff"/><rect x="1210" y="999" width="2" height="1" fill="#3050ff"/><rect x="1213" y="999" width="2" height="1" fill="#3050ff"/><rect x="1216" y="999" width="2" height="1" fill="#3050ff"/><rect x="1219" y="999" width="2" height="1" fill="#3050ff"/><rect x="1231" y="999" width="2" height="1" fill="#3050ff"/><rect x="1237" y="999" width="2" height="1" fill="#3050ff"/><rect x="1246" y="999" width="2" height="1" fill="#3050ff"/><rect x="1249" y="999" width="2" height="1" fill="#3050ff"/><rect x="1252" y="999" width="2" height="1" fill="#3050ff"/><rect x="1255" y="999" width="2" height="1" fill="#3050ff"/><rect x="1258" y="999" width="2" height="1" fill="#3050ff"/><rect x="1261" y="999" width="2" height="1" fill="#3050ff"/><rect x="1267" y="999" width="2" height="1" fill="#3050ff"/><rect x="1270" y="999" width="2" height="1" fill="#3050ff"/><rect x="1273" y="999" width="2" height="1" fill="#3050ff"/><rect x="1276" y="999" width="2" height="1" fill="#3050ff"/><rect x="1279" y="999" width="2" height="1" fill="#3050ff"/><rect x="1288" y="999" width="2" height="1" fill="#3050ff"/><rect x="1294" y="999" width="2" height="1" fill="#3050ff"/><rect x="1300" y="999" width="2" height="1" fill="#3050ff"/><rect x="1303" y="999" width="2" height="1" fill="#3050ff"/><rect x="1306" y="999" width="2" height="1" fill="#3050ff"/><rect x="1309" y="999" width="2" height="1" fill="#3050ff"/><rect x="1312" y="999" width="2" height="1" fill="#3050ff"/><rect x="1324" y="999" width="2" height="1" fill="#3050ff"/><rect x="1327" y="999" width="2" height="1" fill="#3050ff"/><rect x="1330" y="999" width="2" height="1" fill="#3050ff"/><rect x="1333" y="999" width="2" height="1" fill="#3050ff"/><rect x="1336" y="999" width="2" height="1" fill="#3050ff"/><rect x="1339" y="999" width="2" height="1" fill="#3050ff"/><rect x="1342" y="999" width="2" height="1" fill="#3050ff"/><rect x="1354" y="999" width="2" height="1" fill="#3050ff"/><rect x="1357" y="999" width="2" height="1" fill="#3050ff"/><rect x="1363" y="999" width="2" height="1" fill="#3050ff"/><rect x="1372" y="999" width="2" height="1" fill="#3050ff"/><rect x="1172" y="1040" width="2" height="1" fill="#3050ff"/><rect x="1175" y="1040" width="2" height="1" fill="#3050ff"/><rect x="1184" y="1040" width="2" height="1" fill="#3050ff"/><rect x="1199" y="1040" width="2" height="1" fill="#3050ff"/><rect x="1202" y="1040" width="2" height="1" fill="#3050ff"/><rect x="1205" y="1040" width="2" height="1" fill="#3050ff"/><rect x="1208" y="1040" width="2" height="1" fill="#3050ff"/><rect x="1214" y="1040" width="2" height="1" fill="#3050ff"/><rect x="1217" y="1040" width="2" height="1" fill="#3050ff"/><rect x="1220" y="1040" width="2" height="1" fill="#3050ff"/><rect x="1238" y="1040" width="2" height="1" fill="#3050ff"/><rect x="1247" y="1040" width="2" height="1" fill="#3050ff"/><rect x="1250" y="1040" width="2" height="1" fill="#3050ff"/><rect x="1256" y="1040" width="2" height="1" fill="#3050ff"/><rect x="1262" y="1040" width="2" height="1" fill="#3050ff"/><rect x="1268" y="1040" width="2" height="1" fill="#3050ff"/><rect x="1271" y="1040" width="2" height="1" fill="#3050ff"/><rect x="1280" y="1040" width="2" height="1" fill="#3050ff"/><rect x="1289" y="1040" width="2" height="1" fill="#3050ff"/><rect x="1292" y="1040" width="2" height="1" fill="#3050ff"/><rect x="1307" y="1040" width="2" height="1" fill="#3050ff"/><rect x="1310" y="1040" width="2" height="1" fill="#3050ff"/><rect x="1313" y="1040" width="2" height="1" fill="#3050ff"/><rect x="1316" y="1040" width="2" height="1" fill="#3050ff"/><rect x="1319" y="1040" width="2" height="1" fill="#3050ff"/><rect x="1322" y="1040" width="2" height="1" fill="#3050ff"/><rect x="1325" y="1040" width="2" height="1" fill="#3050ff"/><rect x="1328" y="1040" width="2" height="1" fill="#3050ff"/><rect x="1334" y="1040" width="2" height="1" fill="#3050ff"/><rect x="1340" y="1040" width="2" height="1" fill="#3050ff"/><rect x="1343" y="1040" width="2" height="1" fill="#3050ff"/><rect x="1346" y="1040" width="2" height="1" fill="#3050ff"/><rect x="1349" y="1040" width="2" height="1" fill="#3050ff"/><rect x="1355" y="1040" width="2" height="1" fill="#3050ff"/><rect x="1364" y="1040" width="2" height="1" fill="#3050ff"/><rect x="1367" y="1040" width="2" height="1" fill="#3050ff"/><rect x="1370" y="1040" width="2" height="1" fill="#3050ff"/><rect x="1440" y="1016" width="2" height="1" fill="#3050ff"/><rect x="1443" y="1016" width="2" height="1" fill="#3050ff"/><rect x="1446" y="1016" width="2" height="1" fill="#3050ff"/><rect x="1449" y="1016" width="2" height="1" fill="#3050ff"/><rect x="1461" y="1016" width="2" height="1" fill="#3050ff"/><rect x="1464" y="1016" width="2" height="1" fill="#3050ff"/><rect x="1467" y="1016" width="2" height="1" fill="#3050ff"/><rect x="1473" y="1016" width="2" height="1" fill="#3050ff"/><rect x="1476" y="1016" width="2" height="1" fill="#3050ff"/><rect x="1479" y="1016" width="2" height="1" fill="#3050ff"/><rect x="1482" y="1016" width="2" height="1" fill="#3050ff"/><rect x="1485" y="1016" width="2" height="1" fill="#3050ff"/><rect x="1488" y="1016" width="2" height="1" fill="#3050ff"/><rect x="1491" y="1016" width="2" height="1" fill="#3050ff"/><rect x="1494" y="1016" width="2" height="1" fill="#3050ff"/><rect x="1500" y="1016" width="2" height="1" fill="#3050ff"/><rect x="1503" y="1016" width="2" height="1" fill="#3050ff"/><rect x="1506" y="1016" width="2" height="1" fill="#3050ff"/><rect x="1509" y="1016" width="2" height="1" fill="#3050ff"/><rect x="1512" y="1016" width="2" height="1" fill="#3050ff"/><rect x="1518" y="1016" width="2" height="1" fill="#3050ff"/><rect x="1440" y="1025" width="2" height="1" fill="#3050ff"/><rect x="1443" y="1025" width="2" height="1" fill="#3050ff"/><rect x="1449" y="1025" width="2" height="1" fill="#3050ff"/><rect x="1452" y="1025" width="2" height="1" fill="#3050ff"/><rect x="1455" y="1025" width="2" height="1" fill="#3050ff"/><rect x="1464" y="1025" width="2" height="1" fill="#3050ff"/><rect x="1470" y="1025" width="2" height="1" fill="#3050ff"/><rect x="1473" y="1025" width="2" height="1" fill="#3050ff"/><rect x="1476" y="1025" width="2" height="1" fill="#3050ff"/><rect x="1479" y="1025" width="2" height="1" fill="#3050ff"/><rect x="1482" y="1025" width="2" height="1" fill="#3050ff"/><rect x="1491" y="1025" width="2" height="1" fill="#3050ff"/><rect x="1497" y="1025" width="2" height="1" fill="#3050ff"/><rect x="1503" y="1025" width="2" height="1" fill="#3050ff"/><rect x="1506" y="1025" width="2" height="1" fill="#3050ff"/><rect x="1512" y="1025" width="2" height="1" fill="#3050ff"/><rect x="1518" y="1025" width="2" height="1" fill="#3050ff"/><rect x="1443" y="1040" width="2" height="1" fill="#3050ff"/><rect x="1446" y="1040" width="2" height="1" fill="#3050ff"/><rect x="1452" y="1040" width="2" height="1" fill="#3050ff"/><rect x="1455" y="1040" width="2" height="1" fill="#3050ff"/><rect x="1458" y="1040" width="2" height="1" fill="#3050ff"/><rect x="1464" y="1040" width="2" height="1" fill="#3050ff"/><rect x="1467" y="1040" width="2" height="1" fill="#3050ff"/><rect x="1473" y="1040" width="2" height="1" fill="#3050ff"/><rect x="1476" y="1040" width="2" height="1" fill="#3050ff"/><rect x="1479" y="1040" width="2" height="1" fill="#3050ff"/><rect x="1482" y="1040" width="2" height="1" fill="#3050ff"/><rect x="1494" y="1040" width="2" height="1" fill="#3050ff"/><rect x="1500" y="1040" width="2" height="1" fill="#3050ff"/><rect x="1506" y="1040" width="2" height="1" fill="#3050ff"/><rect x="1509" y="1040" width="2" height="1" fill="#3050ff"/></g>
<g shape-rendering="crispEdges"><rect x="259" y="969" width="1551" height="1" fill="#000"/><rect x="259" y="1122" width="1551" height="1" fill="#000"/></g>
<text x="235.3" y="1005" font-size="28" text-anchor="end" fill="#000" font-weight="normal" letter-spacing="0.6">10</text>
<text x="234.3" y="988" font-size="18.5" text-anchor="start" fill="#000" font-weight="normal"  style="filter:url(#crispb)">-1</text>
<text x="235.3" y="1056" font-size="28" text-anchor="end" fill="#000" font-weight="normal" letter-spacing="0.6">10</text>
<text x="236" y="1039" font-size="18.5" text-anchor="start" fill="#000" font-weight="normal"  style="filter:url(#crispb)">0</text>
<text x="235.3" y="1107" font-size="28" text-anchor="end" fill="#000" font-weight="normal" letter-spacing="0.6">10</text>
<text x="236" y="1090" font-size="18.5" text-anchor="start" fill="#000" font-weight="normal"  style="filter:url(#crispb)">1</text>
<g stroke="#0000ff" stroke-width="13" stroke-linecap="butt" fill="none"><path d="M725.19 540.5 L731.44 550.31"/><path d="M733.94 554.24 L740.2 564.1"/><path d="M742.7 568.05 L748.96 577.94"/><path d="M751.46 581.9 L757.46 591.41"/><path d="M759.96 595.38 L766.22 605.3"/><path d="M768.72 609.27 L774.98 619.19"/><path d="M777.23 622.76 L783.48 632.67"/><path d="M785.99 636.64 L792.24 646.53"/><path d="M794.74 650.48 L800.75 659.94"/></g><g stroke="#0000ff" stroke-width="13" stroke-linecap="butt" fill="none"><path d="M913.02 669.5 L919.52 679.41"/><path d="M922.27 683.56 L928.78 693.23"/><path d="M931.53 697.26 L938.28 707.05"/><path d="M940.78 710.62 L947.79 720.49"/><path d="M950.54 724.31 L957.79 734.22"/><path d="M960.79 738.26 L968.05 747.84"/><path d="M971.05 751.74 L978.8 761.62"/><path d="M982.05 765.68 L990.06 775.47"/><path d="M993.31 779.36 L1001.56 789.01"/><path d="M1005.07 793.01 L1013.82 802.74"/><path d="M1017.32 806.53 L1026.83 816.5"/><path d="M1030.58 820.3 L1040.33 829.87"/><path d="M1044.34 833.66 L1054.09 842.52"/><path d="M1058.09 846.02 L1067.85 854.17"/><path d="M1071.6 857.16 L1081.6 864.77"/><path d="M1085.36 867.48 L1095.11 874.15"/><path d="M1099.11 876.73 L1108.87 882.63"/><path d="M1112.87 884.89 L1122.63 890"/><path d="M1126.38 891.81 L1136.38 896.23"/><path d="M1140.13 897.73 L1149.89 901.21"/><path d="M1153.89 902.47 L1163.65 905.12"/><path d="M1167.65 906.03 L1177.4 907.83"/><path d="M1181.41 908.4 L1191.16 909.38"/><path d="M1194.91 909.6 L1204.92 909.79"/><path d="M1208.67 909.7 L1218.42 909.09"/><path d="M1222.43 908.68 L1232.18 907.29"/><path d="M1236.18 906.56 L1245.94 904.4"/><path d="M1249.69 903.43 L1259.7 900.45"/><path d="M1263.45 899.19 L1273.2 895.56"/><path d="M1277.2 893.92 L1286.96 889.56"/><path d="M1290.96 887.63 L1300.72 882.56"/><path d="M1304.72 880.34 L1314.47 874.58"/><path d="M1318.23 872.24 L1327.98 865.81"/><path d="M1331.98 863.04 L1341.74 855.95"/><path d="M1345.74 852.9 L1355.49 845.16"/><path d="M1359.5 841.85 L1366.5 835.88"/></g>
<defs><clipPath id="mapclip"><rect x="261" y="1134" width="1549" height="221"/></clipPath></defs>
<g shape-rendering="crispEdges"><rect x="261" y="1179" width="1549" height="1" fill="url(#hd)"/><rect x="261" y="1244" width="1549" height="1" fill="url(#hd)"/><rect x="261" y="1309" width="1549" height="1" fill="url(#hd)"/><rect x="440" y="1134" width="1" height="221" fill="url(#vd)"/><rect x="620" y="1134" width="1" height="221" fill="url(#vd)"/><rect x="800" y="1134" width="1" height="221" fill="url(#vd)"/><rect x="1086" y="1134" width="1" height="221" fill="url(#vd)"/><rect x="1267" y="1134" width="1" height="221" fill="url(#vd)"/><rect x="1449" y="1134" width="1" height="221" fill="url(#vd)"/><rect x="1629" y="1134" width="1" height="221" fill="url(#vd)"/><rect x="1809" y="1134" width="1" height="221" fill="url(#vd)"/></g>
<defs><clipPath id="cc0"><path clip-rule="evenodd" d="M261 1134 H487 V1355 H261 Z M440 1170 H540 V1270 H440 Z"/></clipPath><clipPath id="cc1"><path clip-rule="evenodd" d="M487 1134 H710 V1355 H487 Z M440 1170 H540 V1270 H440 Z"/></clipPath><clipPath id="cc2"><path clip-rule="evenodd" d="M710 1134 H945 V1355 H710 Z M440 1170 H540 V1270 H440 Z"/></clipPath><clipPath id="cc3"><path clip-rule="evenodd" d="M945 1134 H1185 V1355 H945 Z M440 1170 H540 V1270 H440 Z"/></clipPath><clipPath id="cc4"><path clip-rule="evenodd" d="M1185 1134 H1425 V1355 H1185 Z M440 1170 H540 V1270 H440 Z"/></clipPath><clipPath id="cc5"><path clip-rule="evenodd" d="M1425 1134 H1655 V1355 H1425 Z M440 1170 H540 V1270 H440 Z"/></clipPath><clipPath id="cc6"><path clip-rule="evenodd" d="M1655 1134 H1810 V1355 H1655 Z M440 1170 H540 V1270 H440 Z"/></clipPath><clipPath id="ccb"><rect x="440" y="1170" width="100" height="100"/></clipPath></defs><g clip-path="url(#mapclip)"><g fill="none" stroke="#000" stroke-width="2" stroke-linejoin="round" stroke-linecap="round"><path clip-path="url(#cc0)" d="M281.26 1136.06 L284.02 1134.67 L290.93 1134.4 L296.46 1134.95 L295.08 1136.75 L289.55 1137.71 L284.71 1138.13 L281.26 1136.06 M301.99 1133.98 L304.06 1136.06 L310.28 1138.82 L315.81 1142.27 L318.57 1145.73 L316.5 1150.57 L311.66 1154.02 L308.9 1158.17 L309.59 1160.93 L304.75 1164.39 L299.22 1167.15 L296.46 1169.91 L291.62 1170.61 L288.17 1172.68 L284.71 1175.44 L282.64 1177.52 L277.11 1178.9 L271.58 1180.97 L268.13 1183.04 L263.29 1184.43 L260.53 1185.81 M260.53 1196.86 L264.67 1195.48 L270.2 1194.79 L275.73 1192.72 L279.18 1191.61 L281.26 1194.1 L280.57 1198.24 L279.18 1202.39 L277.11 1206.54 L275.73 1209.3 L272.97 1214.83 L272.27 1218.97 L268.82 1223.12 L266.06 1227.27 L260.53 1232.79 M289.55 1189.26 L291.62 1188.57 L294.39 1189.68 L292.31 1191.06 L289.83 1190.51 L289.55 1189.26 M348.97 1133.98 L351.74 1137.44 L357.27 1141.58 L361.41 1142.97 L363.49 1144.35 L360.03 1147.11 L357.96 1145.73 L357.96 1149.18 L360.72 1151.95 L365.56 1153.33 L369.7 1152.64 L371.78 1147.11 L373.16 1151.95 L373.85 1160.93 L375.92 1171.99 L380.07 1180.28 L383.52 1188.57 L387.67 1198.24 L389.74 1203.77 L391.82 1208.61 L394.58 1207.92 L398.73 1203.08 L403.56 1198.24 L404.25 1192.72 L407.02 1183.04 L406.33 1176.13 L412.55 1172.68 L420.84 1165.77 L427.75 1158.17 L433.97 1154.71 L436.04 1149.18 L440.19 1148.49 L448.48 1147.8 L454 1143.66 L458.15 1151.26 L462.3 1156.09 L465.06 1159.55 L467.13 1167.84 L468.52 1174.75 L473.35 1175.44 L478.19 1170.61 M404.94 1201.7 L408.4 1203.77 L411.16 1207.92 L413.24 1213.45 L412.55 1217.59 L408.4 1219.67 L404.94 1217.59 L403.56 1213.45 L404.25 1207.92 L404.94 1201.7 M260.53 1310.88 L263.29 1308.8 L266.06 1303.28 L268.82 1299.13 L271.58 1296.37 L273.66 1297.06 L275.73 1303.28 L277.8 1308.8 L277.11 1312.95 L275.04 1315.71 L273.66 1322.62 L271.58 1329.53 L268.82 1337.82 L266.75 1346.12 L263.98 1354.41 M297.84 1335.75 L299.5 1335.06 L300.88 1337.13 L298.95 1337.82 L297.84 1335.75 M307.24 1332.99 L308.9 1332.02 L309.73 1333.96 L308.07 1334.23 L307.24 1332.99"/><path clip-path="url(#cc1)" d="M570.11 1134.06 L563.34 1139.47 L556.58 1143.53 L548.46 1144.88 L543.05 1147.59 L537.64 1150.29 L534.94 1153.67 L532.23 1150.29 L529.52 1147.59 L525.47 1148.26 L518.7 1154.35 L514.64 1159.76 L517.35 1165.17 L524.11 1170.58 L528.17 1176 L529.52 1182.76 L528.17 1189.52 L528.17 1194.94 L524.11 1197.64 L520.05 1198.99 L516 1203.05 L511.94 1205.76 L510.58 1203.05 L505.17 1197.64 L501.11 1193.58 L495.7 1188.17 L491.65 1185.47 L490.29 1189.52 L487.59 1197.64 L484.88 1203.05 L486.23 1205.76 M470 1174.64 L474.06 1172.61 L478.12 1170.58 L480.82 1173.29 L483.53 1182.76 L484.88 1190.88 L484.2 1197.64 L483.53 1203.73 L486.23 1209.82 L491.65 1216.58 L498.41 1221.99 L502.47 1227.4 L505.17 1232.81 L509.23 1237.55 L503.82 1238.23 L499.76 1236.87 L497.06 1232.81 L494.35 1227.4 L491.65 1221.99 L488.94 1215.23 L486.23 1211.17 L484.88 1207.11 M528.17 1158.41 L532.23 1154.35 L537.64 1155.7 L538.99 1158.41 L536.29 1162.47 L532.23 1164.5 L528.85 1162.47 L528.17 1158.41 M578.23 1134.06 L584.99 1134.06 L584.99 1140.82 L582.28 1146.23 L579.58 1144.88 L576.87 1140.82 L578.23 1134.06 M470 1220.64 L475.41 1219.96 L480.82 1222.67 L484.88 1227.4 L490.29 1232.81 L497.06 1238.23 L505.17 1243.64 L510.58 1249.05 L516 1251.75 L520.05 1255.81 L517.35 1258.52 L516 1265.28 L513.29 1267.99 L509.23 1267.99 L503.82 1263.93 L498.41 1257.16 L494.35 1249.05 L490.29 1240.93 L484.88 1232.81 L479.47 1227.4 L472.71 1223.34 L470 1221.99 M529.52 1236.87 L533.58 1235.52 L538.99 1234.17 L544.4 1230.11 L551.17 1224.7 L557.93 1219.29 L563.34 1215.23 L567.4 1216.58 L572.81 1221.99 L570.11 1227.4 L567.4 1232.81 L570.11 1240.93 L567.4 1246.34 L564.7 1250.4 L561.99 1254.46 L556.58 1259.87 L553.87 1261.9 L548.46 1259.87 L543.05 1257.84 L537.64 1257.16 L534.94 1254.46 L532.91 1247.69 L529.52 1243.64 L529.52 1236.87 M514.64 1270.69 L524.11 1273.4 L533.58 1274.75 L543.05 1276.1 L551.17 1277.46 L557.93 1278.81 L564.7 1280.16 L571.46 1280.16 L578.23 1280.16 L584.99 1280.16 L591.75 1278.81 L586.34 1281.52 L578.23 1282.87 L567.4 1283.54 L556.58 1281.52 L545.76 1280.16 L534.94 1278.81 L524.11 1277.46 L516 1273.4 L514.64 1270.69 M572.81 1284.22 L576.87 1285.57 L580.93 1288.28 L576.87 1287.6 L572.81 1284.22 M591.75 1288.28 L597.16 1284.22 L602.58 1281.52 L605.28 1280.16 L607.99 1278.81 L603.93 1282.87 L598.52 1285.57 L591.75 1288.28 M594.46 1279.49 L599.87 1278.13 L605.28 1276.1 L607.99 1276.78 L602.58 1278.81 L594.46 1279.49 M576.87 1240.93 L583.64 1239.58 L591.75 1239.58 L598.52 1236.87 L599.87 1238.23 L594.46 1242.28 L589.05 1243.64 L582.28 1244.99 L579.58 1249.05 L582.28 1251.75 L589.05 1249.05 L590.4 1247.69 L591.75 1249.05 L586.34 1253.11 L584.99 1255.81 L587.69 1262.58 L590.4 1266.63 L586.34 1267.99 L584.99 1265.28 L582.28 1259.87 L579.58 1258.52 L578.23 1265.28 L575.52 1267.99 L572.81 1265.28 L574.17 1258.52 L575.52 1251.75 L576.87 1246.34 L576.87 1240.93 M579.58 1163.82 L586.34 1162.47 L587.69 1169.23 L584.99 1174.64 L582.28 1178.7 L584.99 1182.76 L591.75 1185.47 L597.16 1190.88 L601.22 1194.94 L603.93 1204.4 L599.87 1205.76 L594.46 1203.05 L587.69 1200.35 L583.64 1193.58 L579.58 1186.82 L576.87 1180.05 L576.87 1173.29 L579.58 1163.82 M591.75 1211.17 L598.52 1211.17 L603.93 1213.87 L605.28 1216.58 L601.22 1219.29 L595.81 1219.29 L593.11 1216.58 L591.75 1211.17 M564.7 1207.11 L570.11 1201.7 L575.52 1196.29 M610.69 1236.87 L613.4 1238.23 L612.05 1243.64 L612.72 1249.05 L610.02 1250.4 L609.34 1244.99 L610.69 1236.87 M603.25 1259.87 L605.28 1258.52 L607.31 1259.87 L605.28 1261.22 L603.25 1259.87 M612.05 1257.16 L617.46 1256.49 L622.87 1258.52 L620.16 1260.55 L613.4 1259.87 L612.05 1257.16 M637.75 1267.99 L639.78 1270.69 L638.43 1273.4 M624.9 1275.43 L626.93 1277.46 L625.57 1278.81 M643.84 1247.02 L645.87 1248.37 M691.19 1252.43 L694.57 1252.84 M596.49 1251.48 L598.52 1251.75 M584.99 1213.87 L587.02 1214.15 M524.11 1256.49 L526.14 1255.81 L526.82 1257.84 L524.79 1257.84 L524.11 1256.49 M484.88 1248.37 L486.91 1249.05 L487.59 1251.75 L485.96 1251.75 L484.88 1248.37 M478.79 1237.55 L481.5 1238.23 L482.18 1240.25 L480.15 1240.25 L478.79 1237.55 M473.38 1232.81 L475.41 1233.49 M621.52 1244.99 L625.57 1246.34 L629.63 1244.99 L635.04 1247.69 L636.4 1251.75 L640.45 1255.81 L645.87 1253.11 L653.98 1250.4 L662.1 1251.75 L670.22 1254.46 L678.33 1257.16 L685.1 1259.87 L687.8 1265.28 L693.21 1267.99 L699.98 1270.69 L708.1 1267.99 L713.51 1263.93 L720 1263.25 M720 1265.96 L713.51 1269.34 L708.1 1272.05 L702.68 1272.05 L698.63 1273.4 L699.98 1278.81 L705.39 1285.57 L708.1 1289.63 L704.04 1289.63 L698.63 1285.57 L694.57 1278.81 L689.16 1276.1 L683.74 1277.46 L678.33 1278.81 L675.63 1282.87 L670.22 1282.87 L664.81 1280.16 L659.39 1278.81 L655.34 1276.1 L656.69 1270.69 L651.28 1266.63 L643.16 1263.93 L636.4 1261.22 L632.34 1258.52 L628.28 1254.46 L624.22 1249.05 L621.52 1244.99 M709.45 1255.81 L713.51 1257.84 L720 1259.87 M548.46 1355.24 L549.82 1346.45 L553.87 1341.04 L561.99 1335.63 L571.46 1332.92 L580.93 1328.86 L586.34 1322.1 L589.05 1316.69 L594.46 1309.92 L599.87 1305.87 L605.28 1304.51 L610.69 1305.87 L613.4 1309.92 L618.81 1308.57 L620.16 1301.81 L621.52 1296.4 L625.57 1293.69 L632.34 1294.37 L639.1 1296.4 L645.87 1297.75 L649.92 1299.1 L645.87 1305.87 L644.51 1309.92 L649.92 1313.98 L656.69 1318.04 L663.45 1322.1 L667.51 1316.69 L668.86 1308.57 L670.22 1299.1 L672.92 1290.98 L675.63 1293.69 L678.33 1304.51 L681.04 1308.57 L685.1 1305.87 L686.45 1309.92 L689.16 1316.69 L691.86 1326.16 L697.27 1331.57 L704.04 1338.33 L710.8 1345.1 L716.21 1354.57"/><path clip-path="url(#cc2)" d="M709.47 1255.81 L714.88 1257.84 L720.29 1261.22 L716.23 1265.28 L710.82 1267.99 L702.71 1270.69 L700 1269.34 M700 1267.31 L708.12 1266.63 L713.53 1263.93 M725.7 1267.99 L731.11 1272.05 L736.53 1276.1 L740.58 1280.16 M741.94 1276.78 L747.35 1280.16 M746 1284.22 L750.05 1286.93 L754.11 1285.57 L751.41 1282.87 L746.67 1283.54 M751.41 1280.16 L756.82 1286.93 L759.52 1291.66 M700 1284.22 L705.41 1286.93 L710.15 1289.63 L705.41 1290.98 L700 1288.28 M777.11 1308.57 L781.17 1315.34 L783.2 1317.36 M767.64 1333.6 L774.4 1338.33 L779.82 1343.07 L775.76 1341.04 L768.32 1334.95 M823.11 1322.78 L827.16 1319.39 L829.87 1316.69 L834.6 1315.34 M823.11 1322.1 L828.52 1320.75 L827.16 1324.13 L823.38 1323.45 M865.04 1301.81 L873.16 1305.19 M919.16 1146.91 L923.21 1146.91 M928.63 1148.94 L935.39 1152.32 L938.1 1156.38 L939.45 1161.11 L943.51 1159.09 L940.8 1156.38 M700 1332.92 L705.41 1341.04 L709.47 1346.45 L712.18 1351.86 L716.23 1354.57"/><path clip-path="url(#cc3)" d="M1126.69 1134.06 L1132.1 1136.76 L1137.51 1142.18 L1140.22 1139.47 L1134.81 1135.41 L1132.1 1134.06 M1144.27 1134.06 L1151.04 1140.82 L1156.45 1147.59 L1157.8 1151.65 L1155.1 1154.35 L1157.8 1159.76 L1164.57 1163.82 L1172.68 1166.53 L1180.8 1170.58 L1190 1174.64 M1190 1135.41 L1188.92 1140.82 L1190 1147.59 M965.7 1320.07 L967.73 1321.42 L967.06 1322.78 M940 1155.7 L943.38 1157.06 L942.03 1159.76 L940 1160.44"/><path clip-path="url(#cc4)" d="M1180 1174.64 L1180 1170.58 M1189.47 1134.06 L1188.79 1140.82 L1190.82 1148.94 L1194.88 1155.7 L1200.29 1161.11 L1207.06 1163.82 L1213.82 1162.47 L1219.23 1159.76 L1220.58 1153 L1226 1150.29 L1235.47 1148.94 L1234.11 1157.06 L1231.41 1165.17 L1228.7 1174.64 L1234.11 1174.64 L1240.88 1176 L1247.64 1176 L1251.7 1180.05 M1180 1170.58 L1188.12 1173.29 L1200.29 1173.29 L1207.06 1176 L1212.47 1181.41 L1217.88 1184.11 L1224.64 1186.82 L1231.41 1189.52 L1238.17 1192.23 L1240.88 1198.99 L1246.29 1204.4 L1253.05 1208.46 L1262.52 1212.52 L1266.58 1209.82 L1267.93 1204.4 L1273.34 1203.73 M1267.93 1204.4 L1274.7 1208.46 L1277.4 1216.58 L1277.4 1227.4 L1271.99 1234.17 L1266.58 1240.93 L1262.52 1247.69 L1262.52 1254.46 L1266.58 1255.81 L1261.17 1261.22 L1259.82 1266.63 L1262.52 1270.69 L1266.58 1276.1 L1271.99 1284.22 L1276.05 1290.98 L1280.11 1299.1 L1282.81 1305.87 L1288.23 1311.28 L1296.34 1315.34 L1304.46 1320.75 L1307.84 1326.16 L1308.52 1335.63 L1307.16 1343.74 L1305.81 1355.24 M1280.11 1209.82 L1282.81 1205.76 L1288.23 1200.35 L1296.34 1196.29 L1299.05 1192.23 L1304.46 1196.29 L1309.87 1193.58 L1315.28 1196.29 L1323.4 1198.99 L1330.16 1199.67 L1335.57 1198.99 L1342.34 1198.32 L1345.04 1201.7 L1349.1 1205.76 L1354.51 1211.17 L1359.92 1215.23 L1366.69 1217.93 L1373.45 1219.29 L1381.57 1221.99 L1388.33 1227.4 L1393.74 1234.17 L1395.1 1239.58 L1392.39 1244.99 L1389.69 1249.05 L1393.74 1247.69 L1399.16 1246.34 L1404.57 1247.69 L1409.98 1250.4 L1416.74 1254.46 L1423.51 1254.46 L1430 1255.81 M1300.4 1197.64 L1301.75 1203.05 L1303.11 1205.76 M1244.94 1147.59 L1250.35 1143.53 L1257.11 1141.5 L1263.87 1143.53 L1271.99 1146.23 L1280.11 1150.29 L1288.23 1154.35 L1290.93 1157.06 L1282.81 1155.7 L1274.7 1152.32 L1266.58 1148.94 L1258.46 1146.23 L1253.05 1147.59 L1244.94 1147.59 M1258.46 1134.06 L1266.58 1134.06 M1273.34 1134.06 L1277.4 1138.12 M1284.17 1136.76 L1288.23 1142.18 L1292.28 1144.88 M1294.99 1147.59 L1301.75 1148.94 M1273.34 1163.82 L1277.4 1163.14 L1281.46 1165.17 L1277.4 1167.2 L1273.34 1165.17 M1290.93 1163.14 L1296.34 1159.09 L1301.75 1157.06 L1309.87 1158.41 L1313.93 1162.47 L1316.63 1163.82 L1311.22 1164.5 L1305.81 1165.17 L1301.75 1167.2 L1296.34 1165.85 L1290.93 1164.5 M1320.69 1163.14 L1328.81 1163.82 L1327.46 1165.85 L1322.05 1165.85 L1320.69 1163.14 M1343.69 1173.29 L1346.4 1174.64 M1347.07 1180.05 L1349.1 1181.41 M1216.53 1244.99 L1219.23 1245.67 L1218.56 1248.37 L1216.53 1247.69 L1216.53 1244.99 M1405.92 1354.57 L1409.98 1349.16 L1418.1 1346.45 L1430 1342.39"/><path clip-path="url(#cc5)" d="M1420 1255.14 L1428.12 1255.81 L1437.59 1256.49 L1444.35 1259.87 L1451.11 1265.28 L1456.53 1265.96 L1459.23 1270.69 L1460.58 1276.1 L1459.23 1282.87 L1455.17 1289.63 L1449.76 1295.04 L1444.35 1301.81 L1442.32 1309.92 L1441.65 1319.39 L1440.29 1327.51 L1436.23 1335.63 L1432.18 1343.74 L1426.76 1346.45 L1420 1348.48 M1545.81 1134.06 L1541.75 1139.47 L1537.69 1147.59 L1539.05 1157.06 L1541.75 1165.17 L1539.05 1173.29 L1536.34 1180.05 L1537.69 1188.17 L1541.75 1193.58 L1544.46 1196.29 L1551.22 1201.7 L1553.93 1208.46 L1559.34 1213.87 L1566.1 1219.29 L1572.87 1223.34 L1578.28 1226.05 L1582.34 1223.34 L1590.45 1221.31 L1595.87 1221.99 L1602.63 1221.99 L1609.39 1219.29 L1616.16 1217.26 L1622.92 1216.58 L1629.69 1216.58 L1633.74 1223.34 L1637.8 1226.05 L1647.27 1225.37 L1651.33 1230.11 L1652.68 1235.52 L1649.98 1242.28 L1648.63 1247.69 L1649.98 1251.75 L1656.74 1258.52 L1662.15 1266.63 L1666.21 1276.1 L1668.92 1285.57 L1670 1292.34 M1666.21 1182.76 L1670 1189.52"/><path clip-path="url(#cc6)" d="M1760.45 1134.06 L1763.83 1140.15 L1769.25 1145.56 L1770.6 1157.07 L1776.69 1163.16 L1779.4 1170.6 L1782.1 1177.37 L1788.87 1182.78 L1795.64 1188.19 L1796.99 1193.61 L1802.4 1199.7 L1810.52 1197.67 M1769.92 1134.06 L1776.69 1140.83 L1779.4 1153.01 L1787.52 1158.42 L1792.93 1169.25 L1795.64 1180.07 L1797.67 1186.84 L1803.76 1186.16 L1810.52 1184.81 M1640 1225.41 L1646.77 1224.74 L1652.18 1230.15 L1650.83 1238.27 L1649.47 1246.39 L1648.12 1248.42 L1652.18 1254.51 L1658.95 1259.92 L1663.01 1266.69 L1665.71 1273.46 L1667.74 1281.58 L1669.77 1291.05 L1667.07 1297.82 L1663.01 1305.94 L1660.98 1315.41 L1662.33 1324.88 L1667.07 1333 L1671.13 1341.12 L1673.16 1355.33 M1746.92 1245.04 L1752.33 1243.01 L1756.39 1244.36 L1757.07 1249.1 L1755.04 1253.16 L1750.98 1255.86 L1746.92 1255.86 L1746.92 1249.1 L1746.92 1245.04 M1736.09 1258.57 L1737.44 1265.34 L1740.15 1272.1 L1742.86 1282.25 M1757.07 1285.64 L1759.1 1292.4 L1761.8 1305.94 M1809.17 1232.86 L1802.4 1236.92 L1795.64 1243.68 L1787.52 1251.8 L1783.46 1255.86 L1780.75 1263.98 L1778.04 1270.75 L1780.75 1276.16 L1779.4 1278.87 L1783.46 1286.99 L1785.49 1299.17 L1785.49 1310 L1782.1 1315.41 L1775.34 1319.47 L1768.57 1326.24 L1760.45 1333 L1761.8 1339.77 L1763.16 1346.54 L1762.48 1355.33 M1809.17 1311.35 L1802.4 1314.06 L1799.7 1319.47 L1799.7 1328.94 L1796.99 1341.12 L1797.67 1346.54 L1798.34 1355.33 M1667.07 1182.78 L1672.48 1185.49 L1675.86 1186.84 L1671.13 1189.55 L1669.1 1186.84 L1667.07 1182.78"/><path clip-path="url(#ccb)" d="M466.76 1170 L466.47 1173.53 L468.82 1175.88 L472.35 1175.29 L475.29 1172.94 L477.65 1170.59 L480 1172.35 L481.18 1177.06 L482.94 1182.94 L485.29 1187.65 L486.18 1192.35 L484.71 1196.47 L483.82 1200.59 L483.41 1205.29 L483.82 1207.65 M491.76 1206.47 L490.59 1204.71 L487.06 1202.94 L486.76 1200.59 L489.41 1195.88 L490.59 1189.41 L491.76 1186.47 L493.24 1185.59 L494.71 1187.65 L498.24 1188.82 L501.76 1191.18 L503.53 1194.71 L505.29 1197.06 L509.41 1198.82 L512.94 1201.18 L511.18 1204.71 L512.35 1205.88 L516.47 1204.71 L519.41 1202.94 L520.59 1200.59 L523.53 1198.24 L528.24 1195.88 L530 1193.53 L530.59 1187.65 L530 1179.41 L527.06 1175.29 L522.35 1170 M486.47 1212.06 L490 1215.29 L491.18 1218.82 L491.76 1221.76 L492.35 1225.29 L494.12 1227.65 L495.88 1230.59 L498.24 1232.94 L501.76 1235.29 L504.71 1237.65 L510 1238.24 M492.35 1212.06 L496.47 1214.71 L500 1217.06 L503.53 1220.59 L505.88 1222.94 L505.29 1226.47 L504.71 1231.18 L507.65 1234.12 L510 1237.65 M469.41 1220.59 L474.12 1219.71 L480 1221.18 L482.35 1222.94 L485.88 1226.47 L491.76 1231.18 L495.29 1234.12 L498.82 1235.29 L502.35 1237.06 L504.71 1240.59 L507.06 1244.71 L510.59 1248.82 L514.12 1250.59 L516.47 1252.35 L521.18 1255.88 L517.06 1257.65 L516.47 1261.76 L516.47 1270 M469.41 1220.59 L471.18 1223.53 L476.47 1227.65 L481.18 1231.76 L485.88 1237.65 L488.24 1241.76 L491.76 1246.47 L494.12 1251.18 L497.65 1255.29 L502.35 1260 L507.65 1265.29 L511.76 1270 M460.59 1186.47 L461.18 1189.41 L460 1192.35 L458.82 1193.53 M472.35 1233.24 L474.71 1232.65 L476.47 1233.53 M478.24 1237.65 L481.18 1238.24 L483.53 1240 L482.35 1242.35 L480 1240.59 L478.24 1237.65 M484.71 1247.65 L487.06 1248.24 L489.41 1251.18 L487.65 1252.94 L485.29 1250.59 L484.71 1247.65 M524.12 1256.47 L525.88 1255 L527.65 1256.47 L525.88 1258.24 L524.12 1256.47 M540 1234.12 L535.29 1235.29 L530 1236.47 L528.82 1239.41 L529.41 1244.12 L532.94 1247.65 L534.71 1254.71 L536.47 1257.65 L540 1257.65"/></g></g>
<g clip-path="url(#mapclip)"><path d="M260.5 1284 L262.51 1284.42 L264.51 1284.83 L266.52 1285.24 L268.52 1285.64 L270.53 1286.04 L272.53 1286.43 L274.54 1286.82 L276.54 1287.2 L278.55 1287.58 L280.56 1287.95 L282.56 1288.31 L284.57 1288.67 L286.57 1289.03 L288.58 1289.38 L290.58 1289.72 L292.59 1290.06 L294.59 1290.39 L296.6 1290.72 L298.61 1291.04 L300.61 1291.36 L302.62 1291.67 L304.62 1291.98 L306.63 1292.28 L308.63 1292.58 L310.64 1292.87 L312.64 1293.16 L314.65 1293.44 L316.66 1293.71 L318.66 1293.99 L320.67 1294.25 L322.67 1294.51 L324.68 1294.77 L326.68 1295.02 L328.69 1295.26 L330.69 1295.5 L332.7 1295.74 L334.71 1295.97 L336.71 1296.2 L338.72 1296.42 L340.72 1296.63 L342.73 1296.84 L344.73 1297.05 L346.74 1297.25 L348.74 1297.44 L350.75 1297.63 L352.76 1297.82 L354.76 1298 L356.77 1298.18 L358.77 1298.35 L360.78 1298.51 L362.78 1298.68 L364.79 1298.83 L366.79 1298.99 L368.8 1299.13 L370.81 1299.28 L372.81 1299.41 L374.82 1299.55 L376.82 1299.67 L378.83 1299.8 L380.83 1299.92 L382.84 1300.03 L384.84 1300.14 L386.85 1300.25 L388.86 1300.35 L390.86 1300.44 L392.87 1300.53 L394.87 1300.62 L396.88 1300.7 L398.88 1300.78 L400.89 1300.85 L402.89 1300.92 L404.9 1300.99 L406.91 1301.04 L408.91 1301.1 L410.92 1301.15 L412.92 1301.2 L414.93 1301.24 L416.93 1301.27 L418.94 1301.31 L420.94 1301.34 L422.95 1301.36 L424.96 1301.38 L426.96 1301.39 L428.97 1301.4 L430.97 1301.41 L432.98 1301.41 L434.98 1301.41 L436.99 1301.41 L438.99 1301.39 L441 1301.38 L443.01 1301.36 L445.01 1301.34 L447.02 1301.31 L449.02 1301.28 L451.03 1301.24 L453.03 1301.2 L455.04 1301.16 L457.04 1301.11 L459.05 1301.06 L461.06 1301 L463.06 1300.94 L465.07 1300.87 L467.07 1300.81 L469.08 1300.73 L471.08 1300.66 L473.09 1300.57 L475.09 1300.49 L477.1 1300.4 L479.11 1300.31 L481.11 1300.21 L483.12 1300.11 L485.12 1300 L487.13 1299.9 L489.13 1299.78 L491.14 1299.67 L493.14 1299.55 L495.15 1299.42 L497.16 1299.29 L499.16 1299.16 L501.17 1299.02 L503.17 1298.88 L505.18 1298.74 L507.18 1298.59 L509.19 1298.44 L511.19 1298.29 L513.2 1298.13 L515.21 1297.97 L517.21 1297.8 L519.22 1297.63 L521.22 1297.46 L523.23 1297.28 L525.23 1297.1 L527.24 1296.92 L529.24 1296.73 L531.25 1296.54 L533.26 1296.34 L535.26 1296.14 L537.27 1295.94 L539.27 1295.73 L541.28 1295.52 L543.28 1295.31 L545.29 1295.1 L547.29 1294.88 L549.3 1294.65 L551.31 1294.42 L553.31 1294.19 L555.32 1293.96 L557.32 1293.72 L559.33 1293.48 L561.33 1293.24 L563.34 1292.99 L565.34 1292.74 L567.35 1292.49 L569.36 1292.23 L571.36 1291.97 L573.37 1291.7 L575.37 1291.44 L577.38 1291.17 L579.38 1290.89 L581.39 1290.61 L583.39 1290.33 L585.4 1290.05 L587.41 1289.76 L589.41 1289.47 L591.42 1289.18 L593.42 1288.88 L595.43 1288.58 L597.43 1288.28 L599.44 1287.97 L601.44 1287.67 L603.45 1287.35 L605.46 1287.04 L607.46 1286.72 L609.47 1286.4 L611.47 1286.07 L613.48 1285.75 L615.48 1285.42 L617.49 1285.08 L619.49 1284.75 L621.5 1284.41 L623.51 1284.07 L625.51 1283.72 L627.52 1283.37 L629.52 1283.02 L631.53 1282.67 L633.53 1282.31 L635.54 1281.95 L637.54 1281.59 L639.55 1281.22 L641.56 1280.85 L643.56 1280.48 L645.57 1280.11 L647.57 1279.73 L649.58 1279.35 L651.58 1278.97 L653.59 1278.59 L655.59 1278.2 L657.6 1277.81 L659.61 1277.42 L661.61 1277.02 L663.62 1276.62 L665.62 1276.22 L667.63 1275.82 L669.63 1275.41 L671.64 1275 L673.64 1274.59 L675.65 1274.18 L677.66 1273.76 L679.66 1273.34 L681.67 1272.92 L683.67 1272.49 L685.68 1272.07 L687.68 1271.64 L689.69 1271.21 L691.69 1270.77 L693.7 1270.34 L695.71 1269.9 L697.71 1269.46 L699.72 1269.01 L701.72 1268.57 L703.73 1268.12 L705.73 1267.67 L707.74 1267.21 L709.74 1266.76 L711.75 1266.3 L713.76 1265.84 L715.76 1265.38 L717.77 1264.91 L719.77 1264.44 L721.78 1263.97 L723.78 1263.5 L725.79 1263.03 L727.79 1262.55 L729.8 1262.07 L731.81 1261.59 L733.81 1261.11 L735.82 1260.63 L737.82 1260.14 L739.83 1259.65 L741.83 1259.16 L743.84 1258.66 L745.84 1258.17 L747.85 1257.67 L749.86 1257.17 L751.86 1256.67 L753.87 1256.17 L755.87 1255.66 L757.88 1255.15 L759.88 1254.64 L761.89 1254.13 L763.89 1253.62 L765.9 1253.1 L767.91 1252.59 L769.91 1252.07 L771.92 1251.55 L773.92 1251.02 L775.93 1250.5 L777.93 1249.97 L779.94 1249.44 L781.94 1248.91 L783.95 1248.38 L785.96 1247.85 L787.96 1247.31 L789.97 1246.77 L791.97 1246.23 L793.98 1245.69 L795.98 1245.15 L797.99 1244.61 L799.99 1244.06 L802 1243.51" fill="none" stroke="#cc1111" stroke-width="1.2" stroke-linejoin="round" /><path d="M912 1242.57 L914 1242.1 L916 1241.62 L918 1241.15 L920 1240.67 L922 1240.19 L924 1239.72 L926 1239.24 L928 1238.77 L930 1238.29 L932 1237.82 L934 1237.34 L936 1236.86 L938 1236.39 L940 1235.91 L942 1235.44 L944 1234.96 L946 1234.49 L948 1234.01 L950 1233.54 L952 1233.07 L954 1232.59 L956 1232.12 L958 1231.65 L960 1231.18 L962 1230.71 L964 1230.23 L966 1229.77 L968 1229.3 L970 1228.83 L972 1228.36 L974 1227.89 L976 1227.43 L978 1226.96 L980 1226.5 L982 1226.03 L984 1225.57 L986 1225.11 L988 1224.65 L990 1224.19 L992 1223.73 L994 1223.27 L996 1222.82 L998 1222.36 L1000 1221.91 L1002 1221.46 L1004 1221.01 L1006 1220.56 L1008 1220.11 L1010 1219.66 L1012 1219.22 L1014 1218.77 L1016 1218.33 L1018 1217.89 L1020 1217.45 L1022 1217.02 L1024 1216.58 L1026 1216.15 L1028 1215.72 L1030 1215.29 L1032 1214.86 L1034 1214.43 L1036 1214.01 L1038 1213.59 L1040 1213.17 L1042 1212.75 L1044 1212.33 L1046 1211.92 L1048 1211.51 L1050 1211.1 L1052 1210.69 L1054 1210.28 L1056 1209.88 L1058 1209.48 L1060 1209.08 L1062 1208.69 L1064 1208.3 L1066 1207.9 L1068 1207.52 L1070 1207.13 L1072 1206.75 L1074 1206.37 L1076 1205.99 L1078 1205.62 L1080 1205.24 L1082 1204.88 L1084 1204.51 L1086 1204.15 L1088 1203.79 L1090 1203.43 L1092 1203.07 L1094 1202.72 L1096 1202.37 L1098 1202.03 L1100 1201.69 L1102 1201.35 L1104 1201.01 L1106 1200.68 L1108 1200.35 L1110 1200.02 L1112 1199.7 L1114 1199.38 L1116 1199.06 L1118 1198.75 L1120 1198.44 L1122 1198.14 L1124 1197.84 L1126 1197.54 L1128 1197.24 L1130 1196.95 L1132 1196.67 L1134 1196.38 L1136 1196.1 L1138 1195.83 L1140 1195.56 L1142 1195.29 L1144 1195.02 L1146 1194.76 L1148 1194.51 L1150 1194.26 L1152 1194.01 L1154 1193.77 L1156 1193.53 L1158 1193.29 L1160 1193.06 L1162 1192.83 L1164 1192.61 L1166 1192.39 L1168 1192.18 L1170 1191.97 L1172 1191.77 L1174 1191.57 L1176 1191.37 L1178 1191.18 L1180 1190.99 L1182 1190.81 L1184 1190.64 L1186 1190.46 L1188 1190.3 L1190 1190.13 L1192 1189.98 L1194 1189.82 L1196 1189.67 L1198 1189.53 L1200 1189.39 L1202 1189.26 L1204 1189.13 L1206 1189.01 L1208 1188.89 L1210 1188.78 L1212 1188.67 L1214 1188.56 L1216 1188.46 L1218 1188.37 L1220 1188.28 L1222 1188.19 L1224 1188.11 L1226 1188.04 L1228 1187.97 L1230 1187.9 L1232 1187.84 L1234 1187.78 L1236 1187.73 L1238 1187.68 L1240 1187.63 L1242 1187.59 L1244 1187.56 L1246 1187.53 L1248 1187.5 L1250 1187.48 L1252 1187.46 L1254 1187.45 L1256 1187.44 L1258 1187.44 L1260 1187.44 L1262 1187.45 L1264 1187.45 L1266 1187.47 L1268 1187.49 L1270 1187.51 L1272 1187.53 L1274 1187.56 L1276 1187.6 L1278 1187.64 L1280 1187.68 L1282 1187.73 L1284 1187.78 L1286 1187.83 L1288 1187.89 L1290 1187.96 L1292 1188.02 L1294 1188.1 L1296 1188.17 L1298 1188.25 L1300 1188.33 L1302 1188.42 L1304 1188.51 L1306 1188.61 L1308 1188.71 L1310 1188.81 L1312 1188.92 L1314 1189.03 L1316 1189.14 L1318 1189.26 L1320 1189.38 L1322 1189.51 L1324 1189.64 L1326 1189.77 L1328 1189.91 L1330 1190.05 L1332 1190.2 L1334 1190.34 L1336 1190.5 L1338 1190.65 L1340 1190.81 L1342 1190.97 L1344 1191.14 L1346 1191.31 L1348 1191.48 L1350 1191.66 L1352 1191.84 L1354 1192.02 L1356 1192.21 L1358 1192.4 L1360 1192.59 L1362 1192.79 L1364 1192.99 L1366 1193.19 L1368 1193.4 L1370 1193.61 L1372 1193.83 L1374 1194.04 L1376 1194.26 L1378 1194.49 L1380 1194.72 L1382 1194.95 L1384 1195.18 L1386 1195.41 L1388 1195.65 L1390 1195.9 L1392 1196.14 L1394 1196.39 L1396 1196.64 L1398 1196.9 L1400 1197.16 L1402 1197.42 L1404 1197.68 L1406 1197.95 L1408 1198.22 L1410 1198.49 L1412 1198.77 L1414 1199.05 L1416 1199.33 L1418 1199.61 L1420 1199.9 L1422 1200.19 L1424 1200.48 L1426 1200.78 L1428 1201.08 L1430 1201.38 L1432 1201.68 L1434 1201.99 L1436 1202.3 L1438 1202.61 L1440 1202.93 L1442 1203.24 L1444 1203.56 L1446 1203.89 L1448 1204.21 L1450 1204.54 L1452 1204.87 L1454 1205.2 L1456 1205.54 L1458 1205.87 L1460 1206.21 L1462 1206.56 L1464 1206.9 L1466 1207.25 L1468 1207.6 L1470 1207.95 L1472 1208.31 L1474 1208.66 L1476 1209.02 L1478 1209.38 L1480 1209.75 L1482 1210.11 L1484 1210.48 L1486 1210.85 L1488 1211.23 L1490 1211.6 L1492 1211.98 L1494 1212.36 L1496 1212.74 L1498 1213.12 L1500 1213.51 L1502 1213.9 L1504 1214.29 L1506 1214.68 L1508 1215.07 L1510 1215.47 L1512 1215.86 L1514 1216.26 L1516 1216.67 L1518 1217.07 L1520 1217.48 L1522 1217.88 L1524 1218.29 L1526 1218.7 L1528 1219.12 L1530 1219.53 L1532 1219.95 L1534 1220.37 L1536 1220.79 L1538 1221.21 L1540 1221.63 L1542 1222.06 L1544 1222.48 L1546 1222.91 L1548 1223.34 L1550 1223.77 L1552 1224.21 L1554 1224.64 L1556 1225.08 L1558 1225.52 L1560 1225.96 L1562 1226.4 L1564 1226.84 L1566 1227.28 L1568 1227.73 L1570 1228.18 L1572 1228.62 L1574 1229.07 L1576 1229.52 L1578 1229.98 L1580 1230.43 L1582 1230.89 L1584 1231.34 L1586 1231.8 L1588 1232.26 L1590 1232.72 L1592 1233.18 L1594 1233.64 L1596 1234.11 L1598 1234.57 L1600 1235.04 L1602 1235.5 L1604 1235.97 L1606 1236.44 L1608 1236.91 L1610 1237.38 L1612 1237.86 L1614 1238.33 L1616 1238.81 L1618 1239.28 L1620 1239.76 L1622 1240.24 L1624 1240.71 L1626 1241.19 L1628 1241.67 L1630 1242.15 L1632 1242.64 L1634 1243.12 L1636 1243.6 L1638 1244.09 L1640 1244.57 L1642 1245.06 L1644 1245.54 L1646 1246.03 L1648 1246.52 L1650 1247.01 L1652 1247.5 L1654 1247.99 L1656 1248.48 L1658 1248.97 L1660 1249.46 L1662 1249.95 L1664 1250.45 L1666 1250.94 L1668 1251.44 L1670 1251.93 L1672 1252.42 L1674 1252.92 L1676 1253.42 L1678 1253.91 L1680 1254.41 L1682 1254.91 L1684 1255.4 L1686 1255.9 L1688 1256.4 L1690 1256.9 L1692 1257.4 L1694 1257.9 L1696 1258.39 L1698 1258.89 L1700 1259.39 L1702 1259.89 L1704 1260.39 L1706 1260.89 L1708 1261.39 L1710 1261.89 L1712 1262.39 L1714 1262.89 L1716 1263.4 L1718 1263.9 L1720 1264.4 L1722 1264.9 L1724 1265.4 L1726 1265.9 L1728 1266.4 L1730 1266.9 L1732 1267.4 L1734 1267.9 L1736 1268.4 L1738 1268.9 L1740 1269.4 L1742 1269.9 L1744 1270.4 L1746 1270.9 L1748 1271.4 L1750 1271.9 L1752 1272.39 L1754 1272.89 L1756 1273.39 L1758 1273.89 L1760 1274.39 L1762 1274.88 L1764 1275.38 L1766 1275.87 L1768 1276.37 L1770 1276.86 L1772 1277.36 L1774 1277.85 L1776 1278.35 L1778 1278.84 L1780 1279.33 L1782 1279.82 L1784 1280.32 L1786 1280.81 L1788 1281.3 L1790 1281.79 L1792 1282.28 L1794 1282.76 L1796 1283.25 L1798 1283.74 L1800 1284.22 L1802 1284.71 L1804 1285.19 L1806 1285.68 L1808 1286.16 L1810 1286.64" fill="none" stroke="#cc1111" stroke-width="1.2" stroke-linejoin="round" /><path d="M260.5 1212 L440.5 1209.3 L544.4 1209.1 L605.3 1208.5 L659.4 1209.8 L686.5 1211.8 L705 1212.5 L800.1 1224.7 L911 1243 L950 1248.4 L1086.1 1263.9 L1190 1283.5 L1207 1287 L1234 1292.3 L1274.7 1297.1 L1285.5 1298.4 L1315.3 1289.6 L1351.8 1281.5 L1369.4 1270.7 L1396.5 1258.5 L1420 1245.5 L1450 1231 L1484 1214 L1544 1199.5 L1580 1197.5 L1620 1196.5 L1660 1197.5 L1700 1201 L1740 1206 L1780 1210 L1811 1212.5" fill="none" stroke="#11ee11" stroke-width="5.5" stroke-linejoin="round" /></g>
<g stroke="#ee1111" stroke-width="13" stroke-linecap="butt" fill="none"><path d="M725.5 1263.1 L735.5 1260.7"/><path d="M739.5 1259.73 L749.25 1257.32"/><path d="M753.5 1256.26 L763.25 1253.78"/><path d="M767.25 1252.76 L777.25 1250.15"/><path d="M781.25 1249.1 L791 1246.5"/><path d="M795.25 1245.35 L803.5 1243.1"/></g><g stroke="#ee1111" stroke-width="13" stroke-linecap="butt" fill="none"><path d="M912.6 1242.43 L922.6 1240.05"/><path d="M926.6 1239.1 L936.36 1236.78"/><path d="M940.61 1235.77 L950.36 1233.45"/><path d="M954.36 1232.51 L964.12 1230.21"/><path d="M968.37 1229.21 L978.12 1226.93"/><path d="M982.12 1226 L992.13 1223.7"/><path d="M996.13 1222.79 L1005.88 1220.58"/><path d="M1010.13 1219.63 L1019.89 1217.48"/><path d="M1023.89 1216.61 L1033.64 1214.51"/><path d="M1037.89 1213.61 L1047.64 1211.58"/><path d="M1051.65 1210.76 L1061.65 1208.76"/><path d="M1065.65 1207.97 L1075.4 1206.1"/><path d="M1079.41 1205.35 L1089.41 1203.53"/><path d="M1093.41 1202.82 L1103.16 1201.15"/><path d="M1107.41 1200.44 L1117.17 1198.88"/><path d="M1121.17 1198.26 L1130.92 1196.82"/><path d="M1135.17 1196.22 L1144.93 1194.9"/><path d="M1148.93 1194.39 L1158.93 1193.18"/><path d="M1162.93 1192.73 L1172.69 1191.7"/><path d="M1176.94 1191.28 L1186.69 1190.4"/><path d="M1190.69 1190.08 L1200.44 1189.36"/><path d="M1204.7 1189.09 L1214.45 1188.54"/><path d="M1218.45 1188.35 L1228.2 1187.96"/><path d="M1232.46 1187.82 L1242.21 1187.59"/><path d="M1246.21 1187.53 L1256.21 1187.44"/><path d="M1260.21 1187.44 L1269.97 1187.51"/><path d="M1274.22 1187.57 L1283.97 1187.78"/><path d="M1287.97 1187.89 L1297.73 1188.24"/><path d="M1301.98 1188.42 L1311.73 1188.9"/><path d="M1315.73 1189.13 L1325.74 1189.76"/><path d="M1329.74 1190.03 L1339.49 1190.77"/><path d="M1343.74 1191.12 L1353.5 1191.97"/><path d="M1357.5 1192.35 L1367.25 1193.32"/></g>
<polygon points="683.75,1177.1 685.43,1182.28 690.88,1182.28 686.47,1185.49 688.16,1190.67 683.75,1187.46 679.34,1190.67 681.03,1185.49 676.62,1182.28 682.07,1182.28" fill="none" stroke="#dd22dd" stroke-width="1.2"/><polygon points="781.2,1194.9 782.88,1200.08 788.33,1200.08 783.92,1203.29 785.61,1208.47 781.2,1205.27 776.79,1208.47 778.48,1203.29 774.07,1200.08 779.52,1200.08" fill="none" stroke="#dd22dd" stroke-width="1.2"/><polygon points="1280.1,1288.2 1281.78,1293.38 1287.23,1293.38 1282.82,1296.59 1284.51,1301.77 1280.1,1298.57 1275.69,1301.77 1277.38,1296.59 1272.97,1293.38 1278.42,1293.38" fill="none" stroke="#dd22dd" stroke-width="1.2"/><polygon points="1420.1,1247 1421.78,1252.18 1427.23,1252.18 1422.82,1255.39 1424.51,1260.57 1420.1,1257.37 1415.69,1260.57 1417.38,1255.39 1412.97,1252.18 1418.42,1252.18" fill="none" stroke="#dd22dd" stroke-width="1.2"/><polygon points="1809.9,1226.7 1811.58,1231.88 1817.03,1231.88 1812.62,1235.09 1814.31,1240.27 1809.9,1237.07 1805.49,1240.27 1807.18,1235.09 1802.77,1231.88 1808.22,1231.88" fill="none" stroke="#dd22dd" stroke-width="1.2"/><polygon points="1809.9,1241.6 1811.58,1246.78 1817.03,1246.78 1812.62,1249.99 1814.31,1255.17 1809.9,1251.96 1805.49,1255.17 1807.18,1249.99 1802.77,1246.78 1808.22,1246.78" fill="none" stroke="#dd22dd" stroke-width="1.2"/><polygon points="932.3,1228 933.98,1233.18 939.43,1233.18 935.02,1236.39 936.71,1241.57 932.3,1238.37 927.89,1241.57 929.58,1236.39 925.17,1233.18 930.62,1233.18" fill="none" stroke="#dd22dd" stroke-width="1.2"/>
<g shape-rendering="crispEdges"><rect x="260" y="1133" width="1551" height="1" fill="#000"/><rect x="260" y="1355" width="1551" height="1" fill="#000"/><rect x="260" y="1133" width="1" height="223" fill="#000"/><rect x="1810" y="1133" width="1" height="223" fill="#000"/><rect x="260" y="1179" width="16" height="1" fill="#000"/><rect x="1795" y="1179" width="16" height="1" fill="#000"/><rect x="260" y="1244" width="16" height="1" fill="#000"/><rect x="1795" y="1244" width="16" height="1" fill="#000"/><rect x="260" y="1309" width="16" height="1" fill="#000"/><rect x="1795" y="1309" width="16" height="1" fill="#000"/><rect x="440" y="1133" width="1" height="15" fill="#000"/><rect x="440" y="1340" width="1" height="16" fill="#000"/><rect x="620" y="1133" width="1" height="15" fill="#000"/><rect x="620" y="1340" width="1" height="16" fill="#000"/><rect x="800" y="1133" width="1" height="15" fill="#000"/><rect x="800" y="1340" width="1" height="16" fill="#000"/><rect x="1086" y="1133" width="1" height="15" fill="#000"/><rect x="1086" y="1340" width="1" height="16" fill="#000"/><rect x="1267" y="1133" width="1" height="15" fill="#000"/><rect x="1267" y="1340" width="1" height="16" fill="#000"/><rect x="1449" y="1133" width="1" height="15" fill="#000"/><rect x="1449" y="1340" width="1" height="16" fill="#000"/><rect x="1629" y="1133" width="1" height="15" fill="#000"/><rect x="1629" y="1340" width="1" height="16" fill="#000"/></g>
<text x="187.5" y="1193" font-size="28" text-anchor="start" fill="#000" font-weight="normal" letter-spacing="0.6">15</text><text x="219.1" y="1180" font-size="22" text-anchor="start" fill="#000" font-weight="normal"  style="filter:url(#crispc)">o</text><text x="231.9" y="1193" font-size="28" text-anchor="start" fill="#000" font-weight="normal" >N</text><text x="215" y="1257.6" font-size="28" text-anchor="start" fill="#000" font-weight="normal" >0</text><text x="231.4" y="1244.6" font-size="22" text-anchor="start" fill="#000" font-weight="normal"  style="filter:url(#crispc)">o</text><text x="188.5" y="1322.8" font-size="28" text-anchor="start" fill="#000" font-weight="normal" letter-spacing="0.6">15</text><text x="220.5" y="1309.6" font-size="22" text-anchor="start" fill="#000" font-weight="normal"  style="filter:url(#crispc)">o</text><text x="233.1" y="1322.8" font-size="28" text-anchor="start" fill="#000" font-weight="normal" >S</text>
<text x="255.3" y="1410" font-size="28" text-anchor="middle" fill="#000" font-weight="normal" letter-spacing="0.6">GLON</text><text x="440.8" y="1410" font-size="28" text-anchor="middle" fill="#000" font-weight="normal" letter-spacing="0.6">088.2</text><text x="620.8" y="1410" font-size="28" text-anchor="middle" fill="#000" font-weight="normal" letter-spacing="0.6">130.1</text><text x="800.8" y="1410" font-size="28" text-anchor="middle" fill="#000" font-weight="normal" letter-spacing="0.6">172.0</text><text x="1086.8" y="1410" font-size="28" text-anchor="middle" fill="#000" font-weight="normal" letter-spacing="0.6">238.2</text><text x="1267.8" y="1410" font-size="28" text-anchor="middle" fill="#000" font-weight="normal" letter-spacing="0.6">280.4</text><text x="1449.8" y="1410" font-size="28" text-anchor="middle" fill="#000" font-weight="normal" letter-spacing="0.6">322.6</text><text x="1629.8" y="1410" font-size="28" text-anchor="middle" fill="#000" font-weight="normal" letter-spacing="0.6">004.5</text><text x="1809.8" y="1410" font-size="28" text-anchor="middle" fill="#000" font-weight="normal" letter-spacing="0.6">046.3</text><text x="255.3" y="1450.8" font-size="28" text-anchor="middle" fill="#000" font-weight="normal" letter-spacing="0.6">GLAT</text><text x="440.8" y="1450.8" font-size="28" text-anchor="middle" fill="#000" font-weight="normal" letter-spacing="0.6">-13.1</text><text x="620.8" y="1450.8" font-size="28" text-anchor="middle" fill="#000" font-weight="normal" letter-spacing="0.6">-09.4</text><text x="800.8" y="1450.8" font-size="28" text-anchor="middle" fill="#000" font-weight="normal" letter-spacing="0.6">-00.1</text><text x="1086.8" y="1450.8" font-size="28" text-anchor="middle" fill="#000" font-weight="normal" letter-spacing="0.6">+09.2</text><text x="1267.8" y="1450.8" font-size="28" text-anchor="middle" fill="#000" font-weight="normal" letter-spacing="0.6">+13.1</text><text x="1449.8" y="1450.8" font-size="28" text-anchor="middle" fill="#000" font-weight="normal" letter-spacing="0.6">+09.4</text><text x="1629.8" y="1450.8" font-size="28" text-anchor="middle" fill="#000" font-weight="normal" letter-spacing="0.6">+00.1</text><text x="1809.8" y="1450.8" font-size="28" text-anchor="middle" fill="#000" font-weight="normal" letter-spacing="0.6">-09.2</text><text x="255.3" y="1491.6" font-size="28" text-anchor="middle" fill="#000" font-weight="normal" letter-spacing="0.6"> GALT</text><text x="440.8" y="1491.6" font-size="28" text-anchor="middle" fill="#000" font-weight="normal" letter-spacing="0.6"> 823</text><text x="620.8" y="1491.6" font-size="28" text-anchor="middle" fill="#000" font-weight="normal" letter-spacing="0.6"> 722</text><text x="800.8" y="1491.6" font-size="28" text-anchor="middle" fill="#000" font-weight="normal" letter-spacing="0.6"> 555</text><text x="1086.8" y="1491.6" font-size="28" text-anchor="middle" fill="#000" font-weight="normal" letter-spacing="0.6"> 427</text><text x="1267.8" y="1491.6" font-size="28" text-anchor="middle" fill="#000" font-weight="normal" letter-spacing="0.6"> 407</text><text x="1449.8" y="1491.6" font-size="28" text-anchor="middle" fill="#000" font-weight="normal" letter-spacing="0.6"> 499</text><text x="1629.8" y="1491.6" font-size="28" text-anchor="middle" fill="#000" font-weight="normal" letter-spacing="0.6"> 662</text><text x="1809.8" y="1491.6" font-size="28" text-anchor="middle" fill="#000" font-weight="normal" letter-spacing="0.6"> 800</text><text x="255.3" y="1532.4" font-size="28" text-anchor="middle" fill="#000" font-weight="normal" letter-spacing="0.6">MLON</text><text x="440.8" y="1532.4" font-size="28" text-anchor="middle" fill="#000" font-weight="normal" letter-spacing="0.6">157.6</text><text x="620.8" y="1532.4" font-size="28" text-anchor="middle" fill="#000" font-weight="normal" letter-spacing="0.6">201.2</text><text x="800.8" y="1532.4" font-size="28" text-anchor="middle" fill="#000" font-weight="normal" letter-spacing="0.6">243.2</text><text x="1086.8" y="1532.4" font-size="28" text-anchor="middle" fill="#000" font-weight="normal" letter-spacing="0.6">306.8</text><text x="1267.8" y="1532.4" font-size="28" text-anchor="middle" fill="#000" font-weight="normal" letter-spacing="0.6">350.6</text><text x="1449.8" y="1532.4" font-size="28" text-anchor="middle" fill="#000" font-weight="normal" letter-spacing="0.6">039.1</text><text x="1629.8" y="1532.4" font-size="28" text-anchor="middle" fill="#000" font-weight="normal" letter-spacing="0.6">075.5</text><text x="1809.8" y="1532.4" font-size="28" text-anchor="middle" fill="#000" font-weight="normal" letter-spacing="0.6">116.7</text><text x="255.3" y="1573.2" font-size="28" text-anchor="middle" fill="#000" font-weight="normal" letter-spacing="0.6">MLAT</text><text x="440.8" y="1573.2" font-size="28" text-anchor="middle" fill="#000" font-weight="normal" letter-spacing="0.6">-24.2</text><text x="620.8" y="1573.2" font-size="28" text-anchor="middle" fill="#000" font-weight="normal" letter-spacing="0.6">-18.5</text><text x="800.8" y="1573.2" font-size="28" text-anchor="middle" fill="#000" font-weight="normal" letter-spacing="0.6">-04.2</text><text x="1086.8" y="1573.2" font-size="28" text-anchor="middle" fill="#000" font-weight="normal" letter-spacing="0.6">+14.5</text><text x="1267.8" y="1573.2" font-size="28" text-anchor="middle" fill="#000" font-weight="normal" letter-spacing="0.6">+25.0</text><text x="1449.8" y="1573.2" font-size="28" text-anchor="middle" fill="#000" font-weight="normal" letter-spacing="0.6">+09.9</text><text x="1629.8" y="1573.2" font-size="28" text-anchor="middle" fill="#000" font-weight="normal" letter-spacing="0.6">-12.8</text><text x="1809.8" y="1573.2" font-size="28" text-anchor="middle" fill="#000" font-weight="normal" letter-spacing="0.6">-19.3</text><text x="255.3" y="1614" font-size="28" text-anchor="middle" fill="#000" font-weight="normal" letter-spacing="0.6">UT</text><text x="440.8" y="1614" font-size="28" text-anchor="middle" fill="#000" font-weight="normal" letter-spacing="0.6">08:55</text><text x="620.8" y="1614" font-size="28" text-anchor="middle" fill="#000" font-weight="normal" letter-spacing="0.6">09:07</text><text x="800.8" y="1614" font-size="28" text-anchor="middle" fill="#000" font-weight="normal" letter-spacing="0.6">09:20</text><text x="1086.8" y="1614" font-size="28" text-anchor="middle" fill="#000" font-weight="normal" letter-spacing="0.6">07:54</text><text x="1267.8" y="1614" font-size="28" text-anchor="middle" fill="#000" font-weight="normal" letter-spacing="0.6">08:06</text><text x="1449.8" y="1614" font-size="28" text-anchor="middle" fill="#000" font-weight="normal" letter-spacing="0.6">08:17</text><text x="1629.8" y="1614" font-size="28" text-anchor="middle" fill="#000" font-weight="normal" letter-spacing="0.6">08:29</text><text x="1809.8" y="1614" font-size="28" text-anchor="middle" fill="#000" font-weight="normal" letter-spacing="0.6">08:42</text><text x="255.3" y="1654.8" font-size="28" text-anchor="middle" fill="#000" font-weight="normal" letter-spacing="0.6">SLT </text><text x="440.8" y="1654.8" font-size="28" text-anchor="middle" fill="#000" font-weight="normal" letter-spacing="0.6">15:00</text><text x="620.8" y="1654.8" font-size="28" text-anchor="middle" fill="#000" font-weight="normal" letter-spacing="0.6">18:00</text><text x="800.8" y="1654.8" font-size="28" text-anchor="middle" fill="#000" font-weight="normal" letter-spacing="0.6">21:00</text><text x="1086.8" y="1654.8" font-size="28" text-anchor="middle" fill="#000" font-weight="normal" letter-spacing="0.6">00:00</text><text x="1267.8" y="1654.8" font-size="28" text-anchor="middle" fill="#000" font-weight="normal" letter-spacing="0.6">03:00</text><text x="1449.8" y="1654.8" font-size="28" text-anchor="middle" fill="#000" font-weight="normal" letter-spacing="0.6">06:00</text><text x="1629.8" y="1654.8" font-size="28" text-anchor="middle" fill="#000" font-weight="normal" letter-spacing="0.6">09:00</text><text x="1809.8" y="1654.8" font-size="28" text-anchor="middle" fill="#000" font-weight="normal" letter-spacing="0.6">12:00</text>
<text transform="translate(1900,1664.6) rotate(-90)" font-size="22" fill="#000" style="filter:url(#crispc)" textLength="393.6" lengthAdjust="spacingAndGlyphs">Preliminary corrected calibration, 2/11/09</text><text transform="translate(1925,1664.6) rotate(-90)" font-size="22" fill="#000" style="filter:url(#crispc)" textLength="305.6" lengthAdjust="spacingAndGlyphs">Produced 28-Oct-2010 14:26:17</text>
</svg></body></html>
